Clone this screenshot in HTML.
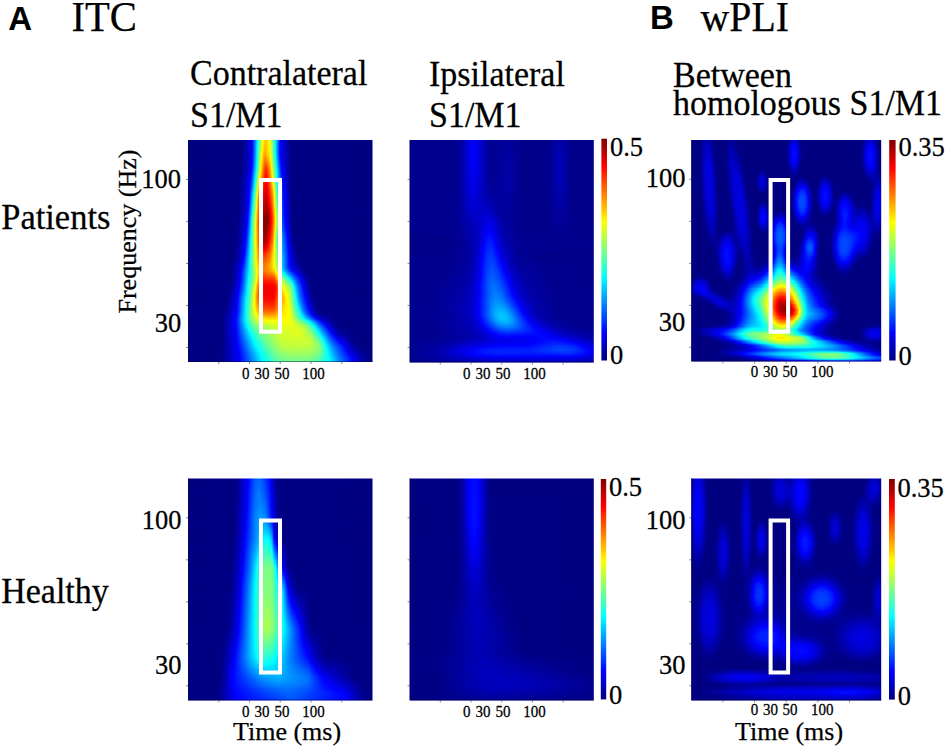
<!DOCTYPE html>
<html><head><meta charset="utf-8">
<style>
html,body{margin:0;padding:0;background:#fff;width:945px;height:748px;overflow:hidden}
svg{display:block}
.s{font-family:"Liberation Serif",serif;fill:#000;stroke:#000;stroke-width:.25px}
.b{font-family:"Liberation Sans",sans-serif;font-weight:bold;fill:#000}
</style></head><body>
<svg width="945" height="748" viewBox="0 0 945 748">
<text class="b" x="8.3" y="29.5" font-size="33">A</text>
<text class="s" x="71.5" y="31" font-size="43" textLength="65.5" lengthAdjust="spacingAndGlyphs">ITC</text>
<text class="b" x="650" y="28.8" font-size="33">B</text>
<text class="s" x="700.5" y="30.6" font-size="43" textLength="88.5" lengthAdjust="spacingAndGlyphs">wPLI</text>

<text class="s" x="190" y="85.4" font-size="34" transform="matrix(1 0 0 1.060 0 -5.12)">Contralateral</text>
<text class="s" x="190" y="127.5" font-size="34" transform="matrix(1 0 0 1.060 0 -7.65)">S1/M1</text>
<text class="s" x="429" y="85.8" font-size="34" transform="matrix(1 0 0 1.060 0 -5.15)">Ipsilateral</text>
<text class="s" x="429" y="127.4" font-size="34" transform="matrix(1 0 0 1.060 0 -7.64)">S1/M1</text>
<text class="s" x="673" y="86.8" font-size="34" transform="matrix(1 0 0 1.060 0 -5.21)">Between</text>
<text class="s" x="673" y="114.8" font-size="34" transform="matrix(1 0 0 1.060 0 -6.89)">homologous S1/M1</text>

<text class="s" x="1.2" y="228.8" font-size="34.5" transform="matrix(1 0 0 1.060 0 -13.73)">Patients</text>
<text class="s" x="1.2" y="602.9" font-size="34" transform="matrix(1 0 0 1.060 0 -36.17)">Healthy</text>
<text class="s" font-size="26" transform="translate(135.5,313.5) rotate(-90)">Frequency (Hz)</text>

<defs>
<filter id="jeta" filterUnits="userSpaceOnUse" x="178" y="130" width="204.5" height="242" color-interpolation-filters="sRGB"><feGaussianBlur stdDeviation=".6 1.6"/><feComponentTransfer><feFuncR type="table" tableValues="0 0 0 0 .5 1 1 1 .5"/><feFuncG type="table" tableValues="0 0 .5 1 1 1 .5 0 0"/><feFuncB type="table" tableValues=".502 1 1 1 .5 0 0 0 0"/></feComponentTransfer></filter>
<linearGradient id="a0"><stop offset="0" stop-color="#000000"/><stop offset=".313" stop-color="#010101"/><stop offset=".337" stop-color="#0d0d0d"/><stop offset=".362" stop-color="#1e1e1e"/><stop offset=".367" stop-color="#272727"/><stop offset=".416" stop-color="#a0a0a0"/><stop offset=".43" stop-color="#adadad"/><stop offset=".445" stop-color="#a1a1a1"/><stop offset=".45" stop-color="#9a9a9a"/><stop offset=".474" stop-color="#646464"/><stop offset=".499" stop-color="#202020"/><stop offset=".548" stop-color="#010101"/><stop offset=".998" stop-color="#000000"/></linearGradient>
<linearGradient id="a1"><stop offset="0" stop-color="#000000"/><stop offset=".313" stop-color="#010101"/><stop offset=".337" stop-color="#0d0d0d"/><stop offset=".362" stop-color="#1e1e1e"/><stop offset=".367" stop-color="#272727"/><stop offset=".416" stop-color="#a0a0a0"/><stop offset=".43" stop-color="#adadad"/><stop offset=".445" stop-color="#a1a1a1"/><stop offset=".45" stop-color="#9a9a9a"/><stop offset=".474" stop-color="#646464"/><stop offset=".499" stop-color="#202020"/><stop offset=".548" stop-color="#010101"/><stop offset=".998" stop-color="#000000"/></linearGradient>
<linearGradient id="a2"><stop offset="0" stop-color="#000000"/><stop offset=".313" stop-color="#010101"/><stop offset=".337" stop-color="#0d0d0d"/><stop offset=".362" stop-color="#1e1e1e"/><stop offset=".367" stop-color="#272727"/><stop offset=".411" stop-color="#969696"/><stop offset=".416" stop-color="#a1a1a1"/><stop offset=".43" stop-color="#adadad"/><stop offset=".445" stop-color="#a1a1a1"/><stop offset=".45" stop-color="#9a9a9a"/><stop offset=".474" stop-color="#646464"/><stop offset=".499" stop-color="#202020"/><stop offset=".548" stop-color="#010101"/><stop offset=".998" stop-color="#000000"/></linearGradient>
<linearGradient id="a3"><stop offset="0" stop-color="#000000"/><stop offset=".313" stop-color="#010101"/><stop offset=".337" stop-color="#0d0d0d"/><stop offset=".362" stop-color="#1e1e1e"/><stop offset=".367" stop-color="#272727"/><stop offset=".411" stop-color="#989898"/><stop offset=".416" stop-color="#a2a2a2"/><stop offset=".425" stop-color="#acacac"/><stop offset=".43" stop-color="#aeaeae"/><stop offset=".445" stop-color="#a2a2a2"/><stop offset=".45" stop-color="#9b9b9b"/><stop offset=".474" stop-color="#646464"/><stop offset=".499" stop-color="#202020"/><stop offset=".548" stop-color="#010101"/><stop offset=".998" stop-color="#000000"/></linearGradient>
<linearGradient id="a4"><stop offset="0" stop-color="#000000"/><stop offset=".313" stop-color="#010101"/><stop offset=".337" stop-color="#0d0d0d"/><stop offset=".362" stop-color="#1e1e1e"/><stop offset=".367" stop-color="#272727"/><stop offset=".386" stop-color="#5a5a5a"/><stop offset=".406" stop-color="#909090"/><stop offset=".416" stop-color="#a4a4a4"/><stop offset=".425" stop-color="#afafaf"/><stop offset=".43" stop-color="#afafaf"/><stop offset=".445" stop-color="#a3a3a3"/><stop offset=".45" stop-color="#9d9d9d"/><stop offset=".474" stop-color="#646464"/><stop offset=".499" stop-color="#202020"/><stop offset=".548" stop-color="#020202"/><stop offset=".998" stop-color="#000000"/></linearGradient>
<linearGradient id="a5"><stop offset="0" stop-color="#000000"/><stop offset=".313" stop-color="#010101"/><stop offset=".337" stop-color="#0d0d0d"/><stop offset=".362" stop-color="#1e1e1e"/><stop offset=".367" stop-color="#282828"/><stop offset=".386" stop-color="#5b5b5b"/><stop offset=".406" stop-color="#959595"/><stop offset=".416" stop-color="#a7a7a7"/><stop offset=".425" stop-color="#b3b3b3"/><stop offset=".43" stop-color="#b1b1b1"/><stop offset=".45" stop-color="#9e9e9e"/><stop offset=".474" stop-color="#646464"/><stop offset=".499" stop-color="#202020"/><stop offset=".553" stop-color="#010101"/><stop offset=".998" stop-color="#000000"/></linearGradient>
<linearGradient id="a6"><stop offset="0" stop-color="#000000"/><stop offset=".313" stop-color="#010101"/><stop offset=".337" stop-color="#0d0d0d"/><stop offset=".362" stop-color="#1f1f1f"/><stop offset=".367" stop-color="#282828"/><stop offset=".386" stop-color="#5c5c5c"/><stop offset=".406" stop-color="#999999"/><stop offset=".411" stop-color="#a3a3a3"/><stop offset=".425" stop-color="#b7b7b7"/><stop offset=".45" stop-color="#a1a1a1"/><stop offset=".474" stop-color="#656565"/><stop offset=".499" stop-color="#202020"/><stop offset=".553" stop-color="#010101"/><stop offset=".998" stop-color="#000000"/></linearGradient>
<linearGradient id="a7"><stop offset="0" stop-color="#000000"/><stop offset=".313" stop-color="#020202"/><stop offset=".337" stop-color="#0d0d0d"/><stop offset=".362" stop-color="#202020"/><stop offset=".367" stop-color="#2a2a2a"/><stop offset=".386" stop-color="#5e5e5e"/><stop offset=".406" stop-color="#9d9d9d"/><stop offset=".411" stop-color="#a7a7a7"/><stop offset=".425" stop-color="#bdbdbd"/><stop offset=".43" stop-color="#bbbbbb"/><stop offset=".45" stop-color="#a5a5a5"/><stop offset=".474" stop-color="#686868"/><stop offset=".499" stop-color="#232323"/><stop offset=".509" stop-color="#1b1b1b"/><stop offset=".553" stop-color="#010101"/><stop offset=".998" stop-color="#000000"/></linearGradient>
<linearGradient id="a8"><stop offset="0" stop-color="#000000"/><stop offset=".313" stop-color="#020202"/><stop offset=".337" stop-color="#0e0e0e"/><stop offset=".362" stop-color="#212121"/><stop offset=".367" stop-color="#2c2c2c"/><stop offset=".386" stop-color="#616161"/><stop offset=".406" stop-color="#a0a0a0"/><stop offset=".411" stop-color="#ababab"/><stop offset=".425" stop-color="#c4c4c4"/><stop offset=".43" stop-color="#c5c5c5"/><stop offset=".45" stop-color="#ababab"/><stop offset=".474" stop-color="#6c6c6c"/><stop offset=".499" stop-color="#282828"/><stop offset=".504" stop-color="#202020"/><stop offset=".509" stop-color="#1c1c1c"/><stop offset=".553" stop-color="#010101"/><stop offset=".998" stop-color="#000000"/></linearGradient>
<linearGradient id="a9"><stop offset="0" stop-color="#000000"/><stop offset=".308" stop-color="#010101"/><stop offset=".333" stop-color="#0c0c0c"/><stop offset=".357" stop-color="#1d1d1d"/><stop offset=".362" stop-color="#222222"/><stop offset=".386" stop-color="#646464"/><stop offset=".406" stop-color="#a2a2a2"/><stop offset=".411" stop-color="#afafaf"/><stop offset=".416" stop-color="#bbbbbb"/><stop offset=".425" stop-color="#cbcbcb"/><stop offset=".43" stop-color="#d0d0d0"/><stop offset=".445" stop-color="#bbbbbb"/><stop offset=".45" stop-color="#b2b2b2"/><stop offset=".499" stop-color="#2c2c2c"/><stop offset=".504" stop-color="#222222"/><stop offset=".509" stop-color="#1d1d1d"/><stop offset=".553" stop-color="#010101"/><stop offset=".998" stop-color="#000000"/></linearGradient>
<linearGradient id="a10"><stop offset="0" stop-color="#000000"/><stop offset=".308" stop-color="#010101"/><stop offset=".333" stop-color="#0d0d0d"/><stop offset=".357" stop-color="#1e1e1e"/><stop offset=".362" stop-color="#252525"/><stop offset=".381" stop-color="#5a5a5a"/><stop offset=".411" stop-color="#b4b4b4"/><stop offset=".416" stop-color="#c1c1c1"/><stop offset=".43" stop-color="#d9d9d9"/><stop offset=".445" stop-color="#c2c2c2"/><stop offset=".45" stop-color="#b8b8b8"/><stop offset=".504" stop-color="#252525"/><stop offset=".509" stop-color="#1e1e1e"/><stop offset=".553" stop-color="#010101"/><stop offset=".998" stop-color="#000000"/></linearGradient>
<linearGradient id="a11"><stop offset="0" stop-color="#000000"/><stop offset=".298" stop-color="#010101"/><stop offset=".308" stop-color="#020202"/><stop offset=".323" stop-color="#090909"/><stop offset=".347" stop-color="#181818"/><stop offset=".357" stop-color="#222222"/><stop offset=".362" stop-color="#2a2a2a"/><stop offset=".381" stop-color="#616161"/><stop offset=".396" stop-color="#909090"/><stop offset=".411" stop-color="#b9b9b9"/><stop offset=".416" stop-color="#c6c6c6"/><stop offset=".43" stop-color="#dddddd"/><stop offset=".445" stop-color="#c7c7c7"/><stop offset=".45" stop-color="#bcbcbc"/><stop offset=".504" stop-color="#282828"/><stop offset=".513" stop-color="#1c1c1c"/><stop offset=".553" stop-color="#010101"/><stop offset=".998" stop-color="#000000"/></linearGradient>
<linearGradient id="a12"><stop offset="0" stop-color="#000000"/><stop offset=".298" stop-color="#010101"/><stop offset=".308" stop-color="#030303"/><stop offset=".323" stop-color="#0a0a0a"/><stop offset=".347" stop-color="#191919"/><stop offset=".357" stop-color="#262626"/><stop offset=".362" stop-color="#2f2f2f"/><stop offset=".381" stop-color="#686868"/><stop offset=".396" stop-color="#9a9a9a"/><stop offset=".401" stop-color="#a6a6a6"/><stop offset=".416" stop-color="#cacaca"/><stop offset=".43" stop-color="#e0e0e0"/><stop offset=".435" stop-color="#dbdbdb"/><stop offset=".445" stop-color="#cbcbcb"/><stop offset=".45" stop-color="#c1c1c1"/><stop offset=".465" stop-color="#9b9b9b"/><stop offset=".484" stop-color="#616161"/><stop offset=".504" stop-color="#2d2d2d"/><stop offset=".513" stop-color="#1e1e1e"/><stop offset=".553" stop-color="#010101"/><stop offset=".998" stop-color="#000000"/></linearGradient>
<linearGradient id="a13"><stop offset="0" stop-color="#000000"/><stop offset=".298" stop-color="#010101"/><stop offset=".323" stop-color="#0a0a0a"/><stop offset=".347" stop-color="#1a1a1a"/><stop offset=".357" stop-color="#2a2a2a"/><stop offset=".362" stop-color="#353535"/><stop offset=".372" stop-color="#525252"/><stop offset=".386" stop-color="#808080"/><stop offset=".396" stop-color="#a3a3a3"/><stop offset=".416" stop-color="#cfcfcf"/><stop offset=".43" stop-color="#e3e3e3"/><stop offset=".435" stop-color="#dedede"/><stop offset=".445" stop-color="#cfcfcf"/><stop offset=".46" stop-color="#aeaeae"/><stop offset=".484" stop-color="#656565"/><stop offset=".504" stop-color="#313131"/><stop offset=".509" stop-color="#282828"/><stop offset=".513" stop-color="#202020"/><stop offset=".553" stop-color="#010101"/><stop offset=".998" stop-color="#000000"/></linearGradient>
<linearGradient id="a14"><stop offset="0" stop-color="#000000"/><stop offset=".298" stop-color="#010101"/><stop offset=".323" stop-color="#0b0b0b"/><stop offset=".347" stop-color="#1c1c1c"/><stop offset=".352" stop-color="#232323"/><stop offset=".362" stop-color="#3a3a3a"/><stop offset=".372" stop-color="#585858"/><stop offset=".386" stop-color="#888888"/><stop offset=".391" stop-color="#9c9c9c"/><stop offset=".396" stop-color="#adadad"/><stop offset=".416" stop-color="#d3d3d3"/><stop offset=".421" stop-color="#dbdbdb"/><stop offset=".43" stop-color="#e5e5e5"/><stop offset=".435" stop-color="#e2e2e2"/><stop offset=".445" stop-color="#d3d3d3"/><stop offset=".46" stop-color="#b4b4b4"/><stop offset=".465" stop-color="#a7a7a7"/><stop offset=".484" stop-color="#696969"/><stop offset=".504" stop-color="#363636"/><stop offset=".513" stop-color="#222222"/><stop offset=".553" stop-color="#010101"/><stop offset=".998" stop-color="#000000"/></linearGradient>
<linearGradient id="a15"><stop offset="0" stop-color="#000000"/><stop offset=".298" stop-color="#010101"/><stop offset=".323" stop-color="#0c0c0c"/><stop offset=".347" stop-color="#1d1d1d"/><stop offset=".352" stop-color="#252525"/><stop offset=".362" stop-color="#404040"/><stop offset=".372" stop-color="#5e5e5e"/><stop offset=".386" stop-color="#909090"/><stop offset=".391" stop-color="#a5a5a5"/><stop offset=".396" stop-color="#b6b6b6"/><stop offset=".421" stop-color="#e0e0e0"/><stop offset=".43" stop-color="#e8e8e8"/><stop offset=".435" stop-color="#e5e5e5"/><stop offset=".445" stop-color="#d7d7d7"/><stop offset=".46" stop-color="#bbbbbb"/><stop offset=".465" stop-color="#adadad"/><stop offset=".484" stop-color="#6d6d6d"/><stop offset=".504" stop-color="#3a3a3a"/><stop offset=".513" stop-color="#242424"/><stop offset=".553" stop-color="#010101"/><stop offset=".998" stop-color="#000000"/></linearGradient>
<linearGradient id="a16"><stop offset="0" stop-color="#000000"/><stop offset=".298" stop-color="#010101"/><stop offset=".323" stop-color="#0d0d0d"/><stop offset=".347" stop-color="#1e1e1e"/><stop offset=".352" stop-color="#282828"/><stop offset=".372" stop-color="#656565"/><stop offset=".386" stop-color="#979797"/><stop offset=".391" stop-color="#adadad"/><stop offset=".396" stop-color="#bebebe"/><stop offset=".421" stop-color="#e4e4e4"/><stop offset=".43" stop-color="#ebebeb"/><stop offset=".435" stop-color="#e9e9e9"/><stop offset=".44" stop-color="#e2e2e2"/><stop offset=".46" stop-color="#c0c0c0"/><stop offset=".465" stop-color="#b3b3b3"/><stop offset=".484" stop-color="#717171"/><stop offset=".513" stop-color="#262626"/><stop offset=".553" stop-color="#010101"/><stop offset=".998" stop-color="#000000"/></linearGradient>
<linearGradient id="a17"><stop offset="0" stop-color="#000000"/><stop offset=".293" stop-color="#010101"/><stop offset=".298" stop-color="#010101"/><stop offset=".323" stop-color="#0d0d0d"/><stop offset=".347" stop-color="#212121"/><stop offset=".352" stop-color="#2b2b2b"/><stop offset=".372" stop-color="#6a6a6a"/><stop offset=".386" stop-color="#9d9d9d"/><stop offset=".391" stop-color="#b2b2b2"/><stop offset=".396" stop-color="#c3c3c3"/><stop offset=".421" stop-color="#e9e9e9"/><stop offset=".43" stop-color="#eeeeee"/><stop offset=".435" stop-color="#ececec"/><stop offset=".44" stop-color="#e6e6e6"/><stop offset=".46" stop-color="#c5c5c5"/><stop offset=".465" stop-color="#b8b8b8"/><stop offset=".484" stop-color="#757575"/><stop offset=".513" stop-color="#272727"/><stop offset=".553" stop-color="#020202"/><stop offset=".998" stop-color="#000000"/></linearGradient>
<linearGradient id="a18"><stop offset="0" stop-color="#000000"/><stop offset=".293" stop-color="#010101"/><stop offset=".318" stop-color="#0b0b0b"/><stop offset=".342" stop-color="#1c1c1c"/><stop offset=".347" stop-color="#232323"/><stop offset=".352" stop-color="#2f2f2f"/><stop offset=".372" stop-color="#6f6f6f"/><stop offset=".386" stop-color="#a2a2a2"/><stop offset=".391" stop-color="#b6b6b6"/><stop offset=".396" stop-color="#c6c6c6"/><stop offset=".416" stop-color="#e7e7e7"/><stop offset=".421" stop-color="#ededed"/><stop offset=".43" stop-color="#f1f1f1"/><stop offset=".435" stop-color="#f0f0f0"/><stop offset=".44" stop-color="#eaeaea"/><stop offset=".46" stop-color="#c9c9c9"/><stop offset=".469" stop-color="#acacac"/><stop offset=".484" stop-color="#797979"/><stop offset=".509" stop-color="#333333"/><stop offset=".513" stop-color="#282828"/><stop offset=".553" stop-color="#030303"/><stop offset=".562" stop-color="#010101"/><stop offset=".998" stop-color="#000000"/></linearGradient>
<linearGradient id="a19"><stop offset="0" stop-color="#000000"/><stop offset=".293" stop-color="#010101"/><stop offset=".318" stop-color="#0b0b0b"/><stop offset=".342" stop-color="#1d1d1d"/><stop offset=".347" stop-color="#262626"/><stop offset=".352" stop-color="#333333"/><stop offset=".372" stop-color="#737373"/><stop offset=".386" stop-color="#a6a6a6"/><stop offset=".391" stop-color="#b9b9b9"/><stop offset=".396" stop-color="#c9c9c9"/><stop offset=".411" stop-color="#e5e5e5"/><stop offset=".416" stop-color="#ececec"/><stop offset=".421" stop-color="#f1f1f1"/><stop offset=".43" stop-color="#f4f4f4"/><stop offset=".44" stop-color="#efefef"/><stop offset=".46" stop-color="#cccccc"/><stop offset=".469" stop-color="#b0b0b0"/><stop offset=".484" stop-color="#7d7d7d"/><stop offset=".494" stop-color="#5f5f5f"/><stop offset=".509" stop-color="#333333"/><stop offset=".513" stop-color="#292929"/><stop offset=".553" stop-color="#040404"/><stop offset=".562" stop-color="#010101"/><stop offset=".998" stop-color="#000000"/></linearGradient>
<linearGradient id="a20"><stop offset="0" stop-color="#000000"/><stop offset=".293" stop-color="#010101"/><stop offset=".318" stop-color="#0c0c0c"/><stop offset=".342" stop-color="#1e1e1e"/><stop offset=".352" stop-color="#383838"/><stop offset=".377" stop-color="#888888"/><stop offset=".391" stop-color="#bdbdbd"/><stop offset=".396" stop-color="#cbcbcb"/><stop offset=".411" stop-color="#ebebeb"/><stop offset=".416" stop-color="#f2f2f2"/><stop offset=".43" stop-color="#f7f7f7"/><stop offset=".44" stop-color="#f4f4f4"/><stop offset=".46" stop-color="#d0d0d0"/><stop offset=".469" stop-color="#b5b5b5"/><stop offset=".494" stop-color="#616161"/><stop offset=".509" stop-color="#333333"/><stop offset=".513" stop-color="#2a2a2a"/><stop offset=".523" stop-color="#1f1f1f"/><stop offset=".553" stop-color="#050505"/><stop offset=".557" stop-color="#020202"/><stop offset=".998" stop-color="#000000"/></linearGradient>
<linearGradient id="a21"><stop offset="0" stop-color="#000000"/><stop offset=".293" stop-color="#010101"/><stop offset=".318" stop-color="#0c0c0c"/><stop offset=".342" stop-color="#1f1f1f"/><stop offset=".352" stop-color="#3c3c3c"/><stop offset=".381" stop-color="#9d9d9d"/><stop offset=".391" stop-color="#c0c0c0"/><stop offset=".396" stop-color="#cecece"/><stop offset=".411" stop-color="#f0f0f0"/><stop offset=".416" stop-color="#f7f7f7"/><stop offset=".43" stop-color="#fafafa"/><stop offset=".44" stop-color="#f8f8f8"/><stop offset=".46" stop-color="#d3d3d3"/><stop offset=".469" stop-color="#b9b9b9"/><stop offset=".479" stop-color="#989898"/><stop offset=".494" stop-color="#636363"/><stop offset=".509" stop-color="#333333"/><stop offset=".523" stop-color="#1f1f1f"/><stop offset=".557" stop-color="#020202"/><stop offset=".998" stop-color="#000000"/></linearGradient>
<linearGradient id="a22"><stop offset="0" stop-color="#000000"/><stop offset=".293" stop-color="#010101"/><stop offset=".318" stop-color="#0d0d0d"/><stop offset=".342" stop-color="#202020"/><stop offset=".381" stop-color="#a0a0a0"/><stop offset=".391" stop-color="#c2c2c2"/><stop offset=".411" stop-color="#f5f5f5"/><stop offset=".416" stop-color="#fbfbfb"/><stop offset=".43" stop-color="#fdfdfd"/><stop offset=".44" stop-color="#fcfcfc"/><stop offset=".46" stop-color="#d6d6d6"/><stop offset=".469" stop-color="#bcbcbc"/><stop offset=".479" stop-color="#9c9c9c"/><stop offset=".494" stop-color="#656565"/><stop offset=".509" stop-color="#343434"/><stop offset=".523" stop-color="#202020"/><stop offset=".557" stop-color="#030303"/><stop offset=".562" stop-color="#010101"/><stop offset=".998" stop-color="#000000"/></linearGradient>
<linearGradient id="a23"><stop offset="0" stop-color="#000000"/><stop offset=".284" stop-color="#010101"/><stop offset=".293" stop-color="#020202"/><stop offset=".318" stop-color="#0e0e0e"/><stop offset=".342" stop-color="#232323"/><stop offset=".362" stop-color="#656565"/><stop offset=".391" stop-color="#c3c3c3"/><stop offset=".401" stop-color="#dedede"/><stop offset=".411" stop-color="#f7f7f7"/><stop offset=".416" stop-color="#fdfdfd"/><stop offset=".425" stop-color="#fefefe"/><stop offset=".44" stop-color="#fcfcfc"/><stop offset=".46" stop-color="#d6d6d6"/><stop offset=".469" stop-color="#bcbcbc"/><stop offset=".479" stop-color="#9c9c9c"/><stop offset=".494" stop-color="#656565"/><stop offset=".509" stop-color="#363636"/><stop offset=".523" stop-color="#222222"/><stop offset=".557" stop-color="#030303"/><stop offset=".562" stop-color="#010101"/><stop offset=".998" stop-color="#000000"/></linearGradient>
<linearGradient id="a24"><stop offset="0" stop-color="#000000"/><stop offset=".284" stop-color="#010101"/><stop offset=".293" stop-color="#020202"/><stop offset=".318" stop-color="#0f0f0f"/><stop offset=".333" stop-color="#1b1b1b"/><stop offset=".342" stop-color="#282828"/><stop offset=".362" stop-color="#676767"/><stop offset=".391" stop-color="#c3c3c3"/><stop offset=".406" stop-color="#ebebeb"/><stop offset=".411" stop-color="#f6f6f6"/><stop offset=".416" stop-color="#fbfbfb"/><stop offset=".425" stop-color="#fdfdfd"/><stop offset=".44" stop-color="#f9f9f9"/><stop offset=".46" stop-color="#d3d3d3"/><stop offset=".469" stop-color="#b9b9b9"/><stop offset=".479" stop-color="#989898"/><stop offset=".484" stop-color="#858585"/><stop offset=".494" stop-color="#656565"/><stop offset=".509" stop-color="#393939"/><stop offset=".523" stop-color="#262626"/><stop offset=".557" stop-color="#040404"/><stop offset=".562" stop-color="#010101"/><stop offset=".998" stop-color="#000000"/></linearGradient>
<linearGradient id="a25"><stop offset="0" stop-color="#000000"/><stop offset=".284" stop-color="#010101"/><stop offset=".308" stop-color="#0a0a0a"/><stop offset=".333" stop-color="#1c1c1c"/><stop offset=".342" stop-color="#2d2d2d"/><stop offset=".386" stop-color="#b3b3b3"/><stop offset=".406" stop-color="#ebebeb"/><stop offset=".411" stop-color="#f4f4f4"/><stop offset=".416" stop-color="#f9f9f9"/><stop offset=".425" stop-color="#fcfcfc"/><stop offset=".44" stop-color="#f5f5f5"/><stop offset=".46" stop-color="#d0d0d0"/><stop offset=".465" stop-color="#c4c4c4"/><stop offset=".469" stop-color="#b5b5b5"/><stop offset=".484" stop-color="#7f7f7f"/><stop offset=".509" stop-color="#3e3e3e"/><stop offset=".523" stop-color="#292929"/><stop offset=".562" stop-color="#010101"/><stop offset=".998" stop-color="#000000"/></linearGradient>
<linearGradient id="a26"><stop offset="0" stop-color="#000000"/><stop offset=".284" stop-color="#010101"/><stop offset=".308" stop-color="#0b0b0b"/><stop offset=".333" stop-color="#1e1e1e"/><stop offset=".342" stop-color="#323232"/><stop offset=".406" stop-color="#ebebeb"/><stop offset=".416" stop-color="#f6f6f6"/><stop offset=".425" stop-color="#fbfbfb"/><stop offset=".44" stop-color="#f1f1f1"/><stop offset=".46" stop-color="#cccccc"/><stop offset=".465" stop-color="#c1c1c1"/><stop offset=".469" stop-color="#b1b1b1"/><stop offset=".484" stop-color="#7a7a7a"/><stop offset=".509" stop-color="#424242"/><stop offset=".523" stop-color="#2d2d2d"/><stop offset=".562" stop-color="#010101"/><stop offset=".998" stop-color="#000000"/></linearGradient>
<linearGradient id="a27"><stop offset="0" stop-color="#000000"/><stop offset=".284" stop-color="#010101"/><stop offset=".308" stop-color="#0c0c0c"/><stop offset=".333" stop-color="#202020"/><stop offset=".342" stop-color="#373737"/><stop offset=".406" stop-color="#eaeaea"/><stop offset=".425" stop-color="#f9f9f9"/><stop offset=".44" stop-color="#ececec"/><stop offset=".46" stop-color="#c8c8c8"/><stop offset=".465" stop-color="#bdbdbd"/><stop offset=".469" stop-color="#adadad"/><stop offset=".484" stop-color="#777777"/><stop offset=".509" stop-color="#464646"/><stop offset=".523" stop-color="#313131"/><stop offset=".562" stop-color="#020202"/><stop offset=".998" stop-color="#000000"/></linearGradient>
<linearGradient id="a28"><stop offset="0" stop-color="#000000"/><stop offset=".274" stop-color="#010101"/><stop offset=".284" stop-color="#020202"/><stop offset=".308" stop-color="#0e0e0e"/><stop offset=".333" stop-color="#232323"/><stop offset=".406" stop-color="#e5e5e5"/><stop offset=".425" stop-color="#f4f4f4"/><stop offset=".44" stop-color="#e6e6e6"/><stop offset=".46" stop-color="#c4c4c4"/><stop offset=".465" stop-color="#b9b9b9"/><stop offset=".469" stop-color="#aaaaaa"/><stop offset=".484" stop-color="#767676"/><stop offset=".509" stop-color="#494949"/><stop offset=".513" stop-color="#414141"/><stop offset=".538" stop-color="#212121"/><stop offset=".562" stop-color="#030303"/><stop offset=".587" stop-color="#010101"/><stop offset=".998" stop-color="#000000"/></linearGradient>
<linearGradient id="a29"><stop offset="0" stop-color="#000000"/><stop offset=".274" stop-color="#010101"/><stop offset=".284" stop-color="#030303"/><stop offset=".298" stop-color="#0a0a0a"/><stop offset=".323" stop-color="#1b1b1b"/><stop offset=".333" stop-color="#272727"/><stop offset=".396" stop-color="#c8c8c8"/><stop offset=".406" stop-color="#dddddd"/><stop offset=".425" stop-color="#ebebeb"/><stop offset=".44" stop-color="#dddddd"/><stop offset=".46" stop-color="#bebebe"/><stop offset=".465" stop-color="#b5b5b5"/><stop offset=".469" stop-color="#a7a7a7"/><stop offset=".484" stop-color="#797979"/><stop offset=".513" stop-color="#444444"/><stop offset=".543" stop-color="#1c1c1c"/><stop offset=".562" stop-color="#070707"/><stop offset=".587" stop-color="#010101"/><stop offset=".998" stop-color="#000000"/></linearGradient>
<linearGradient id="a30"><stop offset="0" stop-color="#000000"/><stop offset=".274" stop-color="#010101"/><stop offset=".298" stop-color="#0b0b0b"/><stop offset=".323" stop-color="#1c1c1c"/><stop offset=".333" stop-color="#2c2c2c"/><stop offset=".396" stop-color="#c4c4c4"/><stop offset=".406" stop-color="#d4d4d4"/><stop offset=".425" stop-color="#e0e0e0"/><stop offset=".44" stop-color="#d5d5d5"/><stop offset=".45" stop-color="#c9c9c9"/><stop offset=".46" stop-color="#b9b9b9"/><stop offset=".469" stop-color="#a5a5a5"/><stop offset=".484" stop-color="#7d7d7d"/><stop offset=".513" stop-color="#474747"/><stop offset=".543" stop-color="#1d1d1d"/><stop offset=".562" stop-color="#0b0b0b"/><stop offset=".587" stop-color="#010101"/><stop offset=".998" stop-color="#000000"/></linearGradient>
<linearGradient id="a31"><stop offset="0" stop-color="#000000"/><stop offset=".274" stop-color="#010101"/><stop offset=".298" stop-color="#0c0c0c"/><stop offset=".323" stop-color="#1e1e1e"/><stop offset=".333" stop-color="#303030"/><stop offset=".396" stop-color="#c0c0c0"/><stop offset=".406" stop-color="#cbcbcb"/><stop offset=".425" stop-color="#d6d6d6"/><stop offset=".45" stop-color="#c3c3c3"/><stop offset=".469" stop-color="#a2a2a2"/><stop offset=".484" stop-color="#818181"/><stop offset=".499" stop-color="#636363"/><stop offset=".513" stop-color="#4a4a4a"/><stop offset=".543" stop-color="#1f1f1f"/><stop offset=".562" stop-color="#0e0e0e"/><stop offset=".587" stop-color="#010101"/><stop offset=".998" stop-color="#000000"/></linearGradient>
<linearGradient id="a32"><stop offset="0" stop-color="#000000"/><stop offset=".259" stop-color="#010101"/><stop offset=".274" stop-color="#020202"/><stop offset=".284" stop-color="#060606"/><stop offset=".298" stop-color="#0d0d0d"/><stop offset=".323" stop-color="#212121"/><stop offset=".381" stop-color="#9f9f9f"/><stop offset=".396" stop-color="#bcbcbc"/><stop offset=".425" stop-color="#cdcdcd"/><stop offset=".45" stop-color="#bdbdbd"/><stop offset=".465" stop-color="#a8a8a8"/><stop offset=".474" stop-color="#979797"/><stop offset=".499" stop-color="#656565"/><stop offset=".509" stop-color="#545454"/><stop offset=".543" stop-color="#202020"/><stop offset=".587" stop-color="#020202"/><stop offset=".998" stop-color="#000000"/></linearGradient>
<linearGradient id="a33"><stop offset="0" stop-color="#000000"/><stop offset=".259" stop-color="#010101"/><stop offset=".274" stop-color="#030303"/><stop offset=".298" stop-color="#101010"/><stop offset=".323" stop-color="#272727"/><stop offset=".381" stop-color="#9c9c9c"/><stop offset=".396" stop-color="#b7b7b7"/><stop offset=".406" stop-color="#bebebe"/><stop offset=".425" stop-color="#c7c7c7"/><stop offset=".45" stop-color="#b8b8b8"/><stop offset=".469" stop-color="#a1a1a1"/><stop offset=".484" stop-color="#878787"/><stop offset=".499" stop-color="#666666"/><stop offset=".509" stop-color="#545454"/><stop offset=".543" stop-color="#222222"/><stop offset=".587" stop-color="#050505"/><stop offset=".616" stop-color="#010101"/><stop offset=".998" stop-color="#000000"/></linearGradient>
<linearGradient id="a34"><stop offset="0" stop-color="#000000"/><stop offset=".259" stop-color="#010101"/><stop offset=".274" stop-color="#060606"/><stop offset=".298" stop-color="#141414"/><stop offset=".313" stop-color="#212121"/><stop offset=".323" stop-color="#2d2d2d"/><stop offset=".352" stop-color="#616161"/><stop offset=".386" stop-color="#a2a2a2"/><stop offset=".396" stop-color="#b1b1b1"/><stop offset=".406" stop-color="#bbbbbb"/><stop offset=".425" stop-color="#c1c1c1"/><stop offset=".45" stop-color="#b4b4b4"/><stop offset=".474" stop-color="#9d9d9d"/><stop offset=".484" stop-color="#8a8a8a"/><stop offset=".499" stop-color="#666666"/><stop offset=".509" stop-color="#535353"/><stop offset=".543" stop-color="#242424"/><stop offset=".548" stop-color="#1f1f1f"/><stop offset=".587" stop-color="#090909"/><stop offset=".616" stop-color="#010101"/><stop offset=".998" stop-color="#000000"/></linearGradient>
<linearGradient id="a35"><stop offset="0" stop-color="#000000"/><stop offset=".259" stop-color="#010101"/><stop offset=".274" stop-color="#070707"/><stop offset=".284" stop-color="#0c0c0c"/><stop offset=".308" stop-color="#1e1e1e"/><stop offset=".323" stop-color="#333333"/><stop offset=".352" stop-color="#636363"/><stop offset=".386" stop-color="#9f9f9f"/><stop offset=".396" stop-color="#aeaeae"/><stop offset=".406" stop-color="#bababa"/><stop offset=".425" stop-color="#c0c0c0"/><stop offset=".455" stop-color="#b3b3b3"/><stop offset=".474" stop-color="#a4a4a4"/><stop offset=".484" stop-color="#909090"/><stop offset=".499" stop-color="#6c6c6c"/><stop offset=".509" stop-color="#595959"/><stop offset=".548" stop-color="#262626"/><stop offset=".587" stop-color="#0f0f0f"/><stop offset=".616" stop-color="#030303"/><stop offset=".641" stop-color="#010101"/><stop offset=".998" stop-color="#000000"/></linearGradient>
<linearGradient id="a36"><stop offset="0" stop-color="#000000"/><stop offset=".259" stop-color="#010101"/><stop offset=".284" stop-color="#0d0d0d"/><stop offset=".308" stop-color="#212121"/><stop offset=".372" stop-color="#828282"/><stop offset=".396" stop-color="#b1b1b1"/><stop offset=".406" stop-color="#bfbfbf"/><stop offset=".416" stop-color="#c7c7c7"/><stop offset=".421" stop-color="#c8c8c8"/><stop offset=".455" stop-color="#c0c0c0"/><stop offset=".469" stop-color="#bababa"/><stop offset=".474" stop-color="#b3b3b3"/><stop offset=".484" stop-color="#a0a0a0"/><stop offset=".499" stop-color="#7d7d7d"/><stop offset=".509" stop-color="#6e6e6e"/><stop offset=".548" stop-color="#3c3c3c"/><stop offset=".567" stop-color="#292929"/><stop offset=".621" stop-color="#060606"/><stop offset=".641" stop-color="#010101"/><stop offset=".998" stop-color="#000000"/></linearGradient>
<linearGradient id="a37"><stop offset="0" stop-color="#000000"/><stop offset=".254" stop-color="#010101"/><stop offset=".259" stop-color="#010101"/><stop offset=".279" stop-color="#0b0b0b"/><stop offset=".284" stop-color="#0d0d0d"/><stop offset=".308" stop-color="#232323"/><stop offset=".328" stop-color="#404040"/><stop offset=".347" stop-color="#626262"/><stop offset=".372" stop-color="#828282"/><stop offset=".396" stop-color="#b7b7b7"/><stop offset=".406" stop-color="#c6c6c6"/><stop offset=".416" stop-color="#d2d2d2"/><stop offset=".421" stop-color="#d2d2d2"/><stop offset=".469" stop-color="#cdcdcd"/><stop offset=".479" stop-color="#bdbdbd"/><stop offset=".499" stop-color="#929292"/><stop offset=".533" stop-color="#686868"/><stop offset=".567" stop-color="#3b3b3b"/><stop offset=".621" stop-color="#0b0b0b"/><stop offset=".641" stop-color="#020202"/><stop offset=".998" stop-color="#000000"/></linearGradient>
<linearGradient id="a38"><stop offset="0" stop-color="#000000"/><stop offset=".254" stop-color="#010101"/><stop offset=".279" stop-color="#0c0c0c"/><stop offset=".303" stop-color="#1f1f1f"/><stop offset=".323" stop-color="#3b3b3b"/><stop offset=".342" stop-color="#5e5e5e"/><stop offset=".372" stop-color="#878787"/><stop offset=".381" stop-color="#9c9c9c"/><stop offset=".396" stop-color="#bfbfbf"/><stop offset=".406" stop-color="#d0d0d0"/><stop offset=".416" stop-color="#dadada"/><stop offset=".421" stop-color="#dbdbdb"/><stop offset=".469" stop-color="#d9d9d9"/><stop offset=".479" stop-color="#cecece"/><stop offset=".499" stop-color="#a4a4a4"/><stop offset=".509" stop-color="#959595"/><stop offset=".528" stop-color="#828282"/><stop offset=".553" stop-color="#676767"/><stop offset=".567" stop-color="#4d4d4d"/><stop offset=".582" stop-color="#373737"/><stop offset=".621" stop-color="#111111"/><stop offset=".641" stop-color="#040404"/><stop offset=".65" stop-color="#010101"/><stop offset=".998" stop-color="#000000"/></linearGradient>
<linearGradient id="a39"><stop offset="0" stop-color="#000000"/><stop offset=".254" stop-color="#020202"/><stop offset=".279" stop-color="#0d0d0d"/><stop offset=".303" stop-color="#222222"/><stop offset=".323" stop-color="#3e3e3e"/><stop offset=".342" stop-color="#616161"/><stop offset=".362" stop-color="#7d7d7d"/><stop offset=".372" stop-color="#8e8e8e"/><stop offset=".381" stop-color="#a3a3a3"/><stop offset=".391" stop-color="#bdbdbd"/><stop offset=".406" stop-color="#d8d8d8"/><stop offset=".421" stop-color="#e1e1e1"/><stop offset=".425" stop-color="#e1e1e1"/><stop offset=".469" stop-color="#dfdfdf"/><stop offset=".479" stop-color="#dbdbdb"/><stop offset=".509" stop-color="#9e9e9e"/><stop offset=".533" stop-color="#8d8d8d"/><stop offset=".553" stop-color="#7a7a7a"/><stop offset=".582" stop-color="#404040"/><stop offset=".611" stop-color="#202020"/><stop offset=".631" stop-color="#0d0d0d"/><stop offset=".65" stop-color="#020202"/><stop offset=".998" stop-color="#000000"/></linearGradient>
<linearGradient id="a40"><stop offset="0" stop-color="#000000"/><stop offset=".24" stop-color="#010101"/><stop offset=".254" stop-color="#030303"/><stop offset=".264" stop-color="#080808"/><stop offset=".279" stop-color="#101010"/><stop offset=".293" stop-color="#1b1b1b"/><stop offset=".303" stop-color="#262626"/><stop offset=".323" stop-color="#424242"/><stop offset=".342" stop-color="#646464"/><stop offset=".362" stop-color="#818181"/><stop offset=".377" stop-color="#9d9d9d"/><stop offset=".391" stop-color="#c1c1c1"/><stop offset=".406" stop-color="#d9d9d9"/><stop offset=".425" stop-color="#e2e2e2"/><stop offset=".469" stop-color="#e1e1e1"/><stop offset=".479" stop-color="#dcdcdc"/><stop offset=".509" stop-color="#a7a7a7"/><stop offset=".533" stop-color="#969696"/><stop offset=".553" stop-color="#838383"/><stop offset=".582" stop-color="#474747"/><stop offset=".592" stop-color="#393939"/><stop offset=".631" stop-color="#111111"/><stop offset=".65" stop-color="#040404"/><stop offset=".665" stop-color="#010101"/><stop offset=".998" stop-color="#000000"/></linearGradient>
<linearGradient id="a41"><stop offset="0" stop-color="#000000"/><stop offset=".24" stop-color="#010101"/><stop offset=".264" stop-color="#0a0a0a"/><stop offset=".293" stop-color="#1d1d1d"/><stop offset=".303" stop-color="#2a2a2a"/><stop offset=".323" stop-color="#464646"/><stop offset=".362" stop-color="#858585"/><stop offset=".372" stop-color="#979797"/><stop offset=".386" stop-color="#bbbbbb"/><stop offset=".391" stop-color="#c3c3c3"/><stop offset=".406" stop-color="#d8d8d8"/><stop offset=".425" stop-color="#e1e1e1"/><stop offset=".469" stop-color="#e0e0e0"/><stop offset=".479" stop-color="#d8d8d8"/><stop offset=".489" stop-color="#c8c8c8"/><stop offset=".509" stop-color="#afafaf"/><stop offset=".538" stop-color="#989898"/><stop offset=".553" stop-color="#868686"/><stop offset=".562" stop-color="#757575"/><stop offset=".592" stop-color="#3c3c3c"/><stop offset=".631" stop-color="#151515"/><stop offset=".65" stop-color="#060606"/><stop offset=".665" stop-color="#010101"/><stop offset=".998" stop-color="#000000"/></linearGradient>
<linearGradient id="a42"><stop offset="0" stop-color="#000000"/><stop offset=".24" stop-color="#010101"/><stop offset=".264" stop-color="#0d0d0d"/><stop offset=".293" stop-color="#202020"/><stop offset=".357" stop-color="#7f7f7f"/><stop offset=".372" stop-color="#9a9a9a"/><stop offset=".386" stop-color="#bdbdbd"/><stop offset=".406" stop-color="#d5d5d5"/><stop offset=".425" stop-color="#dfdfdf"/><stop offset=".469" stop-color="#dfdfdf"/><stop offset=".489" stop-color="#c6c6c6"/><stop offset=".533" stop-color="#a1a1a1"/><stop offset=".543" stop-color="#979797"/><stop offset=".562" stop-color="#7a7a7a"/><stop offset=".592" stop-color="#424242"/><stop offset=".641" stop-color="#101010"/><stop offset=".665" stop-color="#020202"/><stop offset=".998" stop-color="#000000"/></linearGradient>
<linearGradient id="a43"><stop offset="0" stop-color="#000000"/><stop offset=".23" stop-color="#010101"/><stop offset=".24" stop-color="#030303"/><stop offset=".264" stop-color="#0f0f0f"/><stop offset=".293" stop-color="#222222"/><stop offset=".357" stop-color="#818181"/><stop offset=".372" stop-color="#9a9a9a"/><stop offset=".386" stop-color="#b9b9b9"/><stop offset=".406" stop-color="#cfcfcf"/><stop offset=".416" stop-color="#d6d6d6"/><stop offset=".425" stop-color="#dadada"/><stop offset=".469" stop-color="#d9d9d9"/><stop offset=".489" stop-color="#c3c3c3"/><stop offset=".509" stop-color="#b2b2b2"/><stop offset=".538" stop-color="#9f9f9f"/><stop offset=".557" stop-color="#868686"/><stop offset=".577" stop-color="#666666"/><stop offset=".592" stop-color="#4a4a4a"/><stop offset=".606" stop-color="#383838"/><stop offset=".641" stop-color="#151515"/><stop offset=".665" stop-color="#040404"/><stop offset=".68" stop-color="#010101"/><stop offset=".998" stop-color="#000000"/></linearGradient>
<linearGradient id="a44"><stop offset="0" stop-color="#000000"/><stop offset=".23" stop-color="#010101"/><stop offset=".24" stop-color="#040404"/><stop offset=".289" stop-color="#1f1f1f"/><stop offset=".293" stop-color="#252525"/><stop offset=".357" stop-color="#828282"/><stop offset=".386" stop-color="#b3b3b3"/><stop offset=".406" stop-color="#c8c8c8"/><stop offset=".416" stop-color="#d1d1d1"/><stop offset=".44" stop-color="#d3d3d3"/><stop offset=".469" stop-color="#d3d3d3"/><stop offset=".509" stop-color="#adadad"/><stop offset=".543" stop-color="#9d9d9d"/><stop offset=".562" stop-color="#828282"/><stop offset=".611" stop-color="#383838"/><stop offset=".641" stop-color="#1a1a1a"/><stop offset=".66" stop-color="#0a0a0a"/><stop offset=".68" stop-color="#010101"/><stop offset=".998" stop-color="#000000"/></linearGradient>
<linearGradient id="a45"><stop offset="0" stop-color="#000000"/><stop offset=".22" stop-color="#010101"/><stop offset=".23" stop-color="#020202"/><stop offset=".24" stop-color="#060606"/><stop offset=".289" stop-color="#202020"/><stop offset=".372" stop-color="#989898"/><stop offset=".391" stop-color="#b2b2b2"/><stop offset=".401" stop-color="#bbbbbb"/><stop offset=".416" stop-color="#c9c9c9"/><stop offset=".44" stop-color="#cacaca"/><stop offset=".469" stop-color="#cacaca"/><stop offset=".509" stop-color="#a8a8a8"/><stop offset=".543" stop-color="#9f9f9f"/><stop offset=".592" stop-color="#5f5f5f"/><stop offset=".611" stop-color="#3f3f3f"/><stop offset=".66" stop-color="#0e0e0e"/><stop offset=".68" stop-color="#020202"/><stop offset=".998" stop-color="#000000"/></linearGradient>
<linearGradient id="a46"><stop offset="0" stop-color="#000000"/><stop offset=".215" stop-color="#010101"/><stop offset=".23" stop-color="#040404"/><stop offset=".289" stop-color="#222222"/><stop offset=".352" stop-color="#7d7d7d"/><stop offset=".372" stop-color="#949494"/><stop offset=".391" stop-color="#a8a8a8"/><stop offset=".401" stop-color="#b0b0b0"/><stop offset=".416" stop-color="#bababa"/><stop offset=".44" stop-color="#bdbdbd"/><stop offset=".469" stop-color="#bbbbbb"/><stop offset=".509" stop-color="#a4a4a4"/><stop offset=".543" stop-color="#9f9f9f"/><stop offset=".548" stop-color="#9c9c9c"/><stop offset=".592" stop-color="#696969"/><stop offset=".626" stop-color="#3a3a3a"/><stop offset=".66" stop-color="#181818"/><stop offset=".68" stop-color="#080808"/><stop offset=".689" stop-color="#050505"/><stop offset=".768" stop-color="#010101"/><stop offset=".998" stop-color="#000000"/></linearGradient>
<linearGradient id="a47"><stop offset="0" stop-color="#000000"/><stop offset=".22" stop-color="#020202"/><stop offset=".284" stop-color="#202020"/><stop offset=".352" stop-color="#7b7b7b"/><stop offset=".372" stop-color="#8e8e8e"/><stop offset=".401" stop-color="#a2a2a2"/><stop offset=".44" stop-color="#acacac"/><stop offset=".479" stop-color="#aaaaaa"/><stop offset=".509" stop-color="#a0a0a0"/><stop offset=".543" stop-color="#9f9f9f"/><stop offset=".553" stop-color="#9b9b9b"/><stop offset=".572" stop-color="#878787"/><stop offset=".601" stop-color="#6c6c6c"/><stop offset=".626" stop-color="#4e4e4e"/><stop offset=".675" stop-color="#1d1d1d"/><stop offset=".694" stop-color="#0f0f0f"/><stop offset=".719" stop-color="#090909"/><stop offset=".768" stop-color="#010101"/><stop offset=".998" stop-color="#000000"/></linearGradient>
<linearGradient id="a48"><stop offset="0" stop-color="#000000"/><stop offset=".22" stop-color="#020202"/><stop offset=".284" stop-color="#212121"/><stop offset=".337" stop-color="#646464"/><stop offset=".352" stop-color="#747474"/><stop offset=".372" stop-color="#858585"/><stop offset=".401" stop-color="#939393"/><stop offset=".44" stop-color="#9a9a9a"/><stop offset=".518" stop-color="#9e9e9e"/><stop offset=".553" stop-color="#9b9b9b"/><stop offset=".601" stop-color="#818181"/><stop offset=".641" stop-color="#626262"/><stop offset=".694" stop-color="#282828"/><stop offset=".719" stop-color="#171717"/><stop offset=".743" stop-color="#0a0a0a"/><stop offset=".763" stop-color="#030303"/><stop offset=".792" stop-color="#010101"/><stop offset=".998" stop-color="#000000"/></linearGradient>
<linearGradient id="a49"><stop offset="0" stop-color="#000000"/><stop offset=".215" stop-color="#010101"/><stop offset=".284" stop-color="#212121"/><stop offset=".337" stop-color="#5d5d5d"/><stop offset=".372" stop-color="#7b7b7b"/><stop offset=".411" stop-color="#8a8a8a"/><stop offset=".518" stop-color="#9b9b9b"/><stop offset=".553" stop-color="#9a9a9a"/><stop offset=".587" stop-color="#959595"/><stop offset=".611" stop-color="#8c8c8c"/><stop offset=".636" stop-color="#7e7e7e"/><stop offset=".655" stop-color="#6c6c6c"/><stop offset=".689" stop-color="#434343"/><stop offset=".719" stop-color="#262626"/><stop offset=".743" stop-color="#131313"/><stop offset=".768" stop-color="#060606"/><stop offset=".792" stop-color="#010101"/><stop offset=".998" stop-color="#000000"/></linearGradient>
<linearGradient id="a50"><stop offset="0" stop-color="#000000"/><stop offset=".215" stop-color="#010101"/><stop offset=".284" stop-color="#202020"/><stop offset=".352" stop-color="#646464"/><stop offset=".372" stop-color="#727272"/><stop offset=".401" stop-color="#818181"/><stop offset=".509" stop-color="#969696"/><stop offset=".582" stop-color="#989898"/><stop offset=".611" stop-color="#949494"/><stop offset=".641" stop-color="#848484"/><stop offset=".655" stop-color="#797979"/><stop offset=".714" stop-color="#393939"/><stop offset=".743" stop-color="#1f1f1f"/><stop offset=".768" stop-color="#0d0d0d"/><stop offset=".792" stop-color="#030303"/><stop offset=".998" stop-color="#000000"/></linearGradient>
<linearGradient id="a51"><stop offset="0" stop-color="#000000"/><stop offset=".215" stop-color="#010101"/><stop offset=".244" stop-color="#0c0c0c"/><stop offset=".284" stop-color="#1f1f1f"/><stop offset=".352" stop-color="#5c5c5c"/><stop offset=".401" stop-color="#7b7b7b"/><stop offset=".504" stop-color="#949494"/><stop offset=".587" stop-color="#979797"/><stop offset=".611" stop-color="#969696"/><stop offset=".645" stop-color="#888888"/><stop offset=".655" stop-color="#828282"/><stop offset=".685" stop-color="#666666"/><stop offset=".709" stop-color="#4b4b4b"/><stop offset=".738" stop-color="#2f2f2f"/><stop offset=".773" stop-color="#141414"/><stop offset=".792" stop-color="#090909"/><stop offset=".851" stop-color="#010101"/><stop offset=".998" stop-color="#000000"/></linearGradient>
<linearGradient id="a52"><stop offset="0" stop-color="#000000"/><stop offset=".215" stop-color="#010101"/><stop offset=".249" stop-color="#0e0e0e"/><stop offset=".284" stop-color="#1e1e1e"/><stop offset=".367" stop-color="#616161"/><stop offset=".401" stop-color="#737373"/><stop offset=".435" stop-color="#818181"/><stop offset=".504" stop-color="#939393"/><stop offset=".606" stop-color="#959595"/><stop offset=".645" stop-color="#8f8f8f"/><stop offset=".655" stop-color="#8a8a8a"/><stop offset=".685" stop-color="#757575"/><stop offset=".738" stop-color="#3a3a3a"/><stop offset=".773" stop-color="#202020"/><stop offset=".792" stop-color="#141414"/><stop offset=".851" stop-color="#020202"/><stop offset=".998" stop-color="#000000"/></linearGradient>
<linearGradient id="a53"><stop offset="0" stop-color="#000000"/><stop offset=".215" stop-color="#010101"/><stop offset=".249" stop-color="#0e0e0e"/><stop offset=".289" stop-color="#1f1f1f"/><stop offset=".372" stop-color="#5e5e5e"/><stop offset=".44" stop-color="#7e7e7e"/><stop offset=".504" stop-color="#919191"/><stop offset=".606" stop-color="#939393"/><stop offset=".645" stop-color="#929292"/><stop offset=".685" stop-color="#808080"/><stop offset=".699" stop-color="#737373"/><stop offset=".724" stop-color="#555555"/><stop offset=".738" stop-color="#464646"/><stop offset=".758" stop-color="#363636"/><stop offset=".792" stop-color="#202020"/><stop offset=".846" stop-color="#070707"/><stop offset=".88" stop-color="#010101"/><stop offset=".998" stop-color="#000000"/></linearGradient>
<linearGradient id="a54"><stop offset="0" stop-color="#000000"/><stop offset=".215" stop-color="#010101"/><stop offset=".293" stop-color="#202020"/><stop offset=".381" stop-color="#5f5f5f"/><stop offset=".455" stop-color="#7f7f7f"/><stop offset=".518" stop-color="#909090"/><stop offset=".606" stop-color="#919191"/><stop offset=".65" stop-color="#8f8f8f"/><stop offset=".685" stop-color="#848484"/><stop offset=".699" stop-color="#7c7c7c"/><stop offset=".724" stop-color="#5e5e5e"/><stop offset=".758" stop-color="#3f3f3f"/><stop offset=".846" stop-color="#0d0d0d"/><stop offset=".88" stop-color="#020202"/><stop offset=".998" stop-color="#000000"/></linearGradient>
<linearGradient id="a55"><stop offset="0" stop-color="#000000"/><stop offset=".215" stop-color="#020202"/><stop offset=".293" stop-color="#1e1e1e"/><stop offset=".381" stop-color="#585858"/><stop offset=".406" stop-color="#666666"/><stop offset=".455" stop-color="#7a7a7a"/><stop offset=".484" stop-color="#848484"/><stop offset=".518" stop-color="#8a8a8a"/><stop offset=".562" stop-color="#8c8c8c"/><stop offset=".645" stop-color="#8b8b8b"/><stop offset=".689" stop-color="#818181"/><stop offset=".704" stop-color="#787878"/><stop offset=".724" stop-color="#636363"/><stop offset=".758" stop-color="#474747"/><stop offset=".778" stop-color="#3a3a3a"/><stop offset=".836" stop-color="#191919"/><stop offset=".88" stop-color="#070707"/><stop offset=".924" stop-color="#010101"/><stop offset=".998" stop-color="#000000"/></linearGradient>
<linearGradient id="a56"><stop offset="0" stop-color="#000000"/><stop offset=".21" stop-color="#010101"/><stop offset=".303" stop-color="#212121"/><stop offset=".401" stop-color="#5e5e5e"/><stop offset=".455" stop-color="#747474"/><stop offset=".484" stop-color="#7f7f7f"/><stop offset=".562" stop-color="#878787"/><stop offset=".636" stop-color="#878787"/><stop offset=".689" stop-color="#7e7e7e"/><stop offset=".778" stop-color="#3f3f3f"/><stop offset=".836" stop-color="#202020"/><stop offset=".88" stop-color="#0c0c0c"/><stop offset=".924" stop-color="#020202"/><stop offset=".998" stop-color="#000000"/></linearGradient>
<linearGradient id="a57"><stop offset="0" stop-color="#000000"/><stop offset=".21" stop-color="#010101"/><stop offset=".303" stop-color="#202020"/><stop offset=".401" stop-color="#5a5a5a"/><stop offset=".421" stop-color="#636363"/><stop offset=".484" stop-color="#797979"/><stop offset=".499" stop-color="#7d7d7d"/><stop offset=".562" stop-color="#818181"/><stop offset=".636" stop-color="#808080"/><stop offset=".689" stop-color="#777777"/><stop offset=".743" stop-color="#5c5c5c"/><stop offset=".792" stop-color="#3c3c3c"/><stop offset=".88" stop-color="#111111"/><stop offset=".924" stop-color="#040404"/><stop offset=".944" stop-color="#010101"/><stop offset=".998" stop-color="#000000"/></linearGradient>
<linearGradient id="a58"><stop offset="0" stop-color="#000000"/><stop offset=".21" stop-color="#010101"/><stop offset=".303" stop-color="#202020"/><stop offset=".421" stop-color="#606060"/><stop offset=".499" stop-color="#797979"/><stop offset=".562" stop-color="#7c7c7c"/><stop offset=".645" stop-color="#7a7a7a"/><stop offset=".689" stop-color="#717171"/><stop offset=".743" stop-color="#5f5f5f"/><stop offset=".792" stop-color="#3f3f3f"/><stop offset=".9" stop-color="#0c0c0c"/><stop offset=".944" stop-color="#010101"/><stop offset=".998" stop-color="#000000"/></linearGradient>
<linearGradient id="a59"><stop offset="0" stop-color="#000000"/><stop offset=".21" stop-color="#010101"/><stop offset=".303" stop-color="#202020"/><stop offset=".421" stop-color="#606060"/><stop offset=".499" stop-color="#787878"/><stop offset=".562" stop-color="#7a7a7a"/><stop offset=".645" stop-color="#787878"/><stop offset=".685" stop-color="#707070"/><stop offset=".743" stop-color="#606060"/><stop offset=".792" stop-color="#404040"/><stop offset=".9" stop-color="#0d0d0d"/><stop offset=".944" stop-color="#010101"/><stop offset=".998" stop-color="#000000"/></linearGradient>
<linearGradient id="a60"><stop offset="0" stop-color="#000000"/><stop offset=".21" stop-color="#010101"/><stop offset=".303" stop-color="#202020"/><stop offset=".421" stop-color="#606060"/><stop offset=".499" stop-color="#787878"/><stop offset=".562" stop-color="#7a7a7a"/><stop offset=".645" stop-color="#787878"/><stop offset=".685" stop-color="#707070"/><stop offset=".743" stop-color="#606060"/><stop offset=".792" stop-color="#404040"/><stop offset=".9" stop-color="#0d0d0d"/><stop offset=".944" stop-color="#010101"/><stop offset=".998" stop-color="#000000"/></linearGradient>
<filter id="jetb" filterUnits="userSpaceOnUse" x="399.6" y="130" width="204.2" height="242.5" color-interpolation-filters="sRGB"><feGaussianBlur stdDeviation=".6 1.6"/><feComponentTransfer><feFuncR type="table" tableValues="0 0 0 0 .5 1 1 1 .5"/><feFuncG type="table" tableValues="0 0 .5 1 1 1 .5 0 0"/><feFuncB type="table" tableValues=".502 1 1 1 .5 0 0 0 0"/></feComponentTransfer></filter>
<linearGradient id="b0"><stop offset="0" stop-color="#030303"/><stop offset=".274" stop-color="#030303"/><stop offset=".304" stop-color="#080808"/><stop offset=".343" stop-color="#181818"/><stop offset=".362" stop-color="#1b1b1b"/><stop offset=".382" stop-color="#181818"/><stop offset=".426" stop-color="#070707"/><stop offset=".455" stop-color="#030303"/><stop offset=".529" stop-color="#070707"/><stop offset=".597" stop-color="#030303"/><stop offset=".715" stop-color="#030303"/><stop offset=".784" stop-color="#090909"/><stop offset=".842" stop-color="#030303"/><stop offset=".999" stop-color="#030303"/></linearGradient>
<linearGradient id="b1"><stop offset="0" stop-color="#030303"/><stop offset=".274" stop-color="#040404"/><stop offset=".304" stop-color="#090909"/><stop offset=".343" stop-color="#191919"/><stop offset=".362" stop-color="#1d1d1d"/><stop offset=".382" stop-color="#191919"/><stop offset=".426" stop-color="#070707"/><stop offset=".455" stop-color="#030303"/><stop offset=".529" stop-color="#070707"/><stop offset=".597" stop-color="#030303"/><stop offset=".715" stop-color="#030303"/><stop offset=".784" stop-color="#0a0a0a"/><stop offset=".842" stop-color="#030303"/><stop offset=".999" stop-color="#030303"/></linearGradient>
<linearGradient id="b2"><stop offset="0" stop-color="#030303"/><stop offset=".274" stop-color="#040404"/><stop offset=".304" stop-color="#090909"/><stop offset=".343" stop-color="#191919"/><stop offset=".362" stop-color="#1d1d1d"/><stop offset=".382" stop-color="#191919"/><stop offset=".426" stop-color="#070707"/><stop offset=".455" stop-color="#030303"/><stop offset=".529" stop-color="#080808"/><stop offset=".597" stop-color="#030303"/><stop offset=".715" stop-color="#030303"/><stop offset=".784" stop-color="#0b0b0b"/><stop offset=".842" stop-color="#030303"/><stop offset=".999" stop-color="#030303"/></linearGradient>
<linearGradient id="b3"><stop offset="0" stop-color="#030303"/><stop offset=".274" stop-color="#040404"/><stop offset=".304" stop-color="#090909"/><stop offset=".343" stop-color="#1a1a1a"/><stop offset=".362" stop-color="#1e1e1e"/><stop offset=".382" stop-color="#1a1a1a"/><stop offset=".426" stop-color="#080808"/><stop offset=".455" stop-color="#040404"/><stop offset=".529" stop-color="#080808"/><stop offset=".597" stop-color="#030303"/><stop offset=".715" stop-color="#030303"/><stop offset=".739" stop-color="#040404"/><stop offset=".784" stop-color="#0c0c0c"/><stop offset=".842" stop-color="#030303"/><stop offset=".999" stop-color="#030303"/></linearGradient>
<linearGradient id="b4"><stop offset="0" stop-color="#030303"/><stop offset=".274" stop-color="#040404"/><stop offset=".304" stop-color="#090909"/><stop offset=".343" stop-color="#1b1b1b"/><stop offset=".362" stop-color="#1f1f1f"/><stop offset=".382" stop-color="#1b1b1b"/><stop offset=".426" stop-color="#080808"/><stop offset=".455" stop-color="#040404"/><stop offset=".529" stop-color="#080808"/><stop offset=".597" stop-color="#030303"/><stop offset=".715" stop-color="#030303"/><stop offset=".739" stop-color="#050505"/><stop offset=".784" stop-color="#0d0d0d"/><stop offset=".842" stop-color="#030303"/><stop offset=".999" stop-color="#030303"/></linearGradient>
<linearGradient id="b5"><stop offset="0" stop-color="#030303"/><stop offset=".274" stop-color="#040404"/><stop offset=".304" stop-color="#090909"/><stop offset=".343" stop-color="#1b1b1b"/><stop offset=".362" stop-color="#1f1f1f"/><stop offset=".382" stop-color="#1b1b1b"/><stop offset=".426" stop-color="#080808"/><stop offset=".455" stop-color="#040404"/><stop offset=".529" stop-color="#090909"/><stop offset=".597" stop-color="#030303"/><stop offset=".715" stop-color="#030303"/><stop offset=".739" stop-color="#050505"/><stop offset=".784" stop-color="#0d0d0d"/><stop offset=".842" stop-color="#030303"/><stop offset=".999" stop-color="#030303"/></linearGradient>
<linearGradient id="b6"><stop offset="0" stop-color="#030303"/><stop offset=".274" stop-color="#040404"/><stop offset=".304" stop-color="#090909"/><stop offset=".343" stop-color="#1b1b1b"/><stop offset=".362" stop-color="#1f1f1f"/><stop offset=".382" stop-color="#1b1b1b"/><stop offset=".426" stop-color="#080808"/><stop offset=".455" stop-color="#040404"/><stop offset=".529" stop-color="#090909"/><stop offset=".597" stop-color="#030303"/><stop offset=".715" stop-color="#030303"/><stop offset=".739" stop-color="#050505"/><stop offset=".784" stop-color="#0e0e0e"/><stop offset=".842" stop-color="#030303"/><stop offset=".999" stop-color="#030303"/></linearGradient>
<linearGradient id="b7"><stop offset="0" stop-color="#030303"/><stop offset=".274" stop-color="#040404"/><stop offset=".304" stop-color="#090909"/><stop offset=".343" stop-color="#1b1b1b"/><stop offset=".362" stop-color="#1f1f1f"/><stop offset=".382" stop-color="#1b1b1b"/><stop offset=".426" stop-color="#080808"/><stop offset=".455" stop-color="#040404"/><stop offset=".529" stop-color="#0a0a0a"/><stop offset=".597" stop-color="#030303"/><stop offset=".715" stop-color="#030303"/><stop offset=".739" stop-color="#050505"/><stop offset=".784" stop-color="#0f0f0f"/><stop offset=".842" stop-color="#030303"/><stop offset=".999" stop-color="#030303"/></linearGradient>
<linearGradient id="b8"><stop offset="0" stop-color="#030303"/><stop offset=".274" stop-color="#040404"/><stop offset=".304" stop-color="#090909"/><stop offset=".343" stop-color="#1a1a1a"/><stop offset=".362" stop-color="#1f1f1f"/><stop offset=".382" stop-color="#1a1a1a"/><stop offset=".426" stop-color="#080808"/><stop offset=".455" stop-color="#040404"/><stop offset=".529" stop-color="#0a0a0a"/><stop offset=".597" stop-color="#030303"/><stop offset=".715" stop-color="#030303"/><stop offset=".739" stop-color="#050505"/><stop offset=".784" stop-color="#0f0f0f"/><stop offset=".842" stop-color="#030303"/><stop offset=".999" stop-color="#030303"/></linearGradient>
<linearGradient id="b9"><stop offset="0" stop-color="#030303"/><stop offset=".274" stop-color="#040404"/><stop offset=".304" stop-color="#090909"/><stop offset=".343" stop-color="#1a1a1a"/><stop offset=".362" stop-color="#1e1e1e"/><stop offset=".382" stop-color="#1a1a1a"/><stop offset=".426" stop-color="#080808"/><stop offset=".455" stop-color="#040404"/><stop offset=".529" stop-color="#0a0a0a"/><stop offset=".597" stop-color="#030303"/><stop offset=".715" stop-color="#030303"/><stop offset=".739" stop-color="#050505"/><stop offset=".784" stop-color="#0f0f0f"/><stop offset=".842" stop-color="#030303"/><stop offset=".999" stop-color="#030303"/></linearGradient>
<linearGradient id="b10"><stop offset="0" stop-color="#030303"/><stop offset=".274" stop-color="#040404"/><stop offset=".304" stop-color="#090909"/><stop offset=".343" stop-color="#1a1a1a"/><stop offset=".362" stop-color="#1d1d1d"/><stop offset=".382" stop-color="#1a1a1a"/><stop offset=".426" stop-color="#080808"/><stop offset=".455" stop-color="#040404"/><stop offset=".529" stop-color="#0a0a0a"/><stop offset=".597" stop-color="#030303"/><stop offset=".715" stop-color="#030303"/><stop offset=".739" stop-color="#050505"/><stop offset=".784" stop-color="#0f0f0f"/><stop offset=".842" stop-color="#030303"/><stop offset=".999" stop-color="#030303"/></linearGradient>
<linearGradient id="b11"><stop offset="0" stop-color="#030303"/><stop offset=".269" stop-color="#040404"/><stop offset=".299" stop-color="#080808"/><stop offset=".343" stop-color="#191919"/><stop offset=".362" stop-color="#1d1d1d"/><stop offset=".382" stop-color="#191919"/><stop offset=".426" stop-color="#080808"/><stop offset=".455" stop-color="#040404"/><stop offset=".529" stop-color="#0a0a0a"/><stop offset=".597" stop-color="#030303"/><stop offset=".715" stop-color="#030303"/><stop offset=".739" stop-color="#050505"/><stop offset=".784" stop-color="#0f0f0f"/><stop offset=".842" stop-color="#030303"/><stop offset=".999" stop-color="#030303"/></linearGradient>
<linearGradient id="b12"><stop offset="0" stop-color="#030303"/><stop offset=".269" stop-color="#040404"/><stop offset=".299" stop-color="#080808"/><stop offset=".343" stop-color="#181818"/><stop offset=".362" stop-color="#1c1c1c"/><stop offset=".382" stop-color="#181818"/><stop offset=".426" stop-color="#090909"/><stop offset=".455" stop-color="#050505"/><stop offset=".529" stop-color="#0a0a0a"/><stop offset=".597" stop-color="#030303"/><stop offset=".715" stop-color="#030303"/><stop offset=".739" stop-color="#050505"/><stop offset=".784" stop-color="#0f0f0f"/><stop offset=".842" stop-color="#030303"/><stop offset=".999" stop-color="#030303"/></linearGradient>
<linearGradient id="b13"><stop offset="0" stop-color="#030303"/><stop offset=".269" stop-color="#040404"/><stop offset=".299" stop-color="#080808"/><stop offset=".343" stop-color="#181818"/><stop offset=".362" stop-color="#1b1b1b"/><stop offset=".382" stop-color="#181818"/><stop offset=".426" stop-color="#090909"/><stop offset=".46" stop-color="#050505"/><stop offset=".529" stop-color="#0a0a0a"/><stop offset=".597" stop-color="#030303"/><stop offset=".715" stop-color="#030303"/><stop offset=".739" stop-color="#050505"/><stop offset=".784" stop-color="#0f0f0f"/><stop offset=".842" stop-color="#030303"/><stop offset=".999" stop-color="#030303"/></linearGradient>
<linearGradient id="b14"><stop offset="0" stop-color="#030303"/><stop offset=".269" stop-color="#040404"/><stop offset=".299" stop-color="#080808"/><stop offset=".343" stop-color="#171717"/><stop offset=".362" stop-color="#1a1a1a"/><stop offset=".382" stop-color="#171717"/><stop offset=".426" stop-color="#0a0a0a"/><stop offset=".46" stop-color="#050505"/><stop offset=".529" stop-color="#0a0a0a"/><stop offset=".597" stop-color="#030303"/><stop offset=".715" stop-color="#030303"/><stop offset=".739" stop-color="#050505"/><stop offset=".784" stop-color="#0e0e0e"/><stop offset=".842" stop-color="#030303"/><stop offset=".999" stop-color="#030303"/></linearGradient>
<linearGradient id="b15"><stop offset="0" stop-color="#030303"/><stop offset=".269" stop-color="#040404"/><stop offset=".299" stop-color="#080808"/><stop offset=".343" stop-color="#161616"/><stop offset=".362" stop-color="#191919"/><stop offset=".377" stop-color="#181818"/><stop offset=".426" stop-color="#0a0a0a"/><stop offset=".465" stop-color="#060606"/><stop offset=".529" stop-color="#0a0a0a"/><stop offset=".597" stop-color="#030303"/><stop offset=".715" stop-color="#030303"/><stop offset=".739" stop-color="#050505"/><stop offset=".784" stop-color="#0d0d0d"/><stop offset=".842" stop-color="#030303"/><stop offset=".999" stop-color="#030303"/></linearGradient>
<linearGradient id="b16"><stop offset="0" stop-color="#030303"/><stop offset=".264" stop-color="#040404"/><stop offset=".299" stop-color="#080808"/><stop offset=".343" stop-color="#151515"/><stop offset=".362" stop-color="#181818"/><stop offset=".377" stop-color="#171717"/><stop offset=".426" stop-color="#0b0b0b"/><stop offset=".475" stop-color="#060606"/><stop offset=".529" stop-color="#090909"/><stop offset=".597" stop-color="#030303"/><stop offset=".715" stop-color="#030303"/><stop offset=".739" stop-color="#050505"/><stop offset=".784" stop-color="#0d0d0d"/><stop offset=".842" stop-color="#030303"/><stop offset=".999" stop-color="#030303"/></linearGradient>
<linearGradient id="b17"><stop offset="0" stop-color="#030303"/><stop offset=".264" stop-color="#040404"/><stop offset=".299" stop-color="#080808"/><stop offset=".343" stop-color="#141414"/><stop offset=".362" stop-color="#171717"/><stop offset=".421" stop-color="#0d0d0d"/><stop offset=".48" stop-color="#070707"/><stop offset=".529" stop-color="#090909"/><stop offset=".597" stop-color="#030303"/><stop offset=".715" stop-color="#030303"/><stop offset=".739" stop-color="#040404"/><stop offset=".784" stop-color="#0c0c0c"/><stop offset=".842" stop-color="#030303"/><stop offset=".999" stop-color="#030303"/></linearGradient>
<linearGradient id="b18"><stop offset="0" stop-color="#030303"/><stop offset=".264" stop-color="#040404"/><stop offset=".299" stop-color="#080808"/><stop offset=".343" stop-color="#141414"/><stop offset=".362" stop-color="#161616"/><stop offset=".475" stop-color="#080808"/><stop offset=".534" stop-color="#090909"/><stop offset=".597" stop-color="#030303"/><stop offset=".725" stop-color="#030303"/><stop offset=".784" stop-color="#0b0b0b"/><stop offset=".842" stop-color="#030303"/><stop offset=".999" stop-color="#030303"/></linearGradient>
<linearGradient id="b19"><stop offset="0" stop-color="#030303"/><stop offset=".26" stop-color="#040404"/><stop offset=".294" stop-color="#070707"/><stop offset=".348" stop-color="#141414"/><stop offset=".367" stop-color="#151515"/><stop offset=".441" stop-color="#0f0f0f"/><stop offset=".485" stop-color="#080808"/><stop offset=".534" stop-color="#080808"/><stop offset=".597" stop-color="#030303"/><stop offset=".725" stop-color="#030303"/><stop offset=".784" stop-color="#0a0a0a"/><stop offset=".842" stop-color="#030303"/><stop offset=".999" stop-color="#030303"/></linearGradient>
<linearGradient id="b20"><stop offset="0" stop-color="#030303"/><stop offset=".26" stop-color="#040404"/><stop offset=".294" stop-color="#070707"/><stop offset=".343" stop-color="#121212"/><stop offset=".367" stop-color="#141414"/><stop offset=".436" stop-color="#111111"/><stop offset=".49" stop-color="#080808"/><stop offset=".534" stop-color="#080808"/><stop offset=".597" stop-color="#030303"/><stop offset=".725" stop-color="#030303"/><stop offset=".784" stop-color="#090909"/><stop offset=".842" stop-color="#030303"/><stop offset=".999" stop-color="#030303"/></linearGradient>
<linearGradient id="b21"><stop offset="0" stop-color="#030303"/><stop offset=".26" stop-color="#040404"/><stop offset=".294" stop-color="#060606"/><stop offset=".357" stop-color="#121212"/><stop offset=".431" stop-color="#141414"/><stop offset=".451" stop-color="#121212"/><stop offset=".49" stop-color="#090909"/><stop offset=".593" stop-color="#030303"/><stop offset=".725" stop-color="#030303"/><stop offset=".784" stop-color="#080808"/><stop offset=".842" stop-color="#030303"/><stop offset=".999" stop-color="#030303"/></linearGradient>
<linearGradient id="b22"><stop offset="0" stop-color="#030303"/><stop offset=".264" stop-color="#040404"/><stop offset=".299" stop-color="#070707"/><stop offset=".353" stop-color="#111111"/><stop offset=".436" stop-color="#171717"/><stop offset=".451" stop-color="#151515"/><stop offset=".495" stop-color="#090909"/><stop offset=".593" stop-color="#030303"/><stop offset=".725" stop-color="#030303"/><stop offset=".784" stop-color="#080808"/><stop offset=".842" stop-color="#030303"/><stop offset=".999" stop-color="#030303"/></linearGradient>
<linearGradient id="b23"><stop offset="0" stop-color="#030303"/><stop offset=".269" stop-color="#040404"/><stop offset=".353" stop-color="#0f0f0f"/><stop offset=".392" stop-color="#121212"/><stop offset=".436" stop-color="#1a1a1a"/><stop offset=".451" stop-color="#181818"/><stop offset=".5" stop-color="#0a0a0a"/><stop offset=".588" stop-color="#030303"/><stop offset=".72" stop-color="#030303"/><stop offset=".784" stop-color="#070707"/><stop offset=".842" stop-color="#030303"/><stop offset=".999" stop-color="#030303"/></linearGradient>
<linearGradient id="b24"><stop offset="0" stop-color="#030303"/><stop offset=".274" stop-color="#040404"/><stop offset=".387" stop-color="#111111"/><stop offset=".436" stop-color="#1d1d1d"/><stop offset=".451" stop-color="#1b1b1b"/><stop offset=".5" stop-color="#0b0b0b"/><stop offset=".583" stop-color="#040404"/><stop offset=".72" stop-color="#030303"/><stop offset=".784" stop-color="#060606"/><stop offset=".842" stop-color="#030303"/><stop offset=".999" stop-color="#030303"/></linearGradient>
<linearGradient id="b25"><stop offset="0" stop-color="#030303"/><stop offset=".279" stop-color="#040404"/><stop offset=".382" stop-color="#101010"/><stop offset=".426" stop-color="#1e1e1e"/><stop offset=".441" stop-color="#1f1f1f"/><stop offset=".455" stop-color="#1c1c1c"/><stop offset=".5" stop-color="#0c0c0c"/><stop offset=".578" stop-color="#040404"/><stop offset=".72" stop-color="#030303"/><stop offset=".784" stop-color="#060606"/><stop offset=".842" stop-color="#030303"/><stop offset=".999" stop-color="#030303"/></linearGradient>
<linearGradient id="b26"><stop offset="0" stop-color="#030303"/><stop offset=".289" stop-color="#050505"/><stop offset=".382" stop-color="#101010"/><stop offset=".426" stop-color="#202020"/><stop offset=".441" stop-color="#222222"/><stop offset=".455" stop-color="#1f1f1f"/><stop offset=".485" stop-color="#121212"/><stop offset=".504" stop-color="#0c0c0c"/><stop offset=".578" stop-color="#040404"/><stop offset=".715" stop-color="#030303"/><stop offset=".784" stop-color="#050505"/><stop offset=".842" stop-color="#030303"/><stop offset=".999" stop-color="#030303"/></linearGradient>
<linearGradient id="b27"><stop offset="0" stop-color="#030303"/><stop offset=".23" stop-color="#030303"/><stop offset=".299" stop-color="#050505"/><stop offset=".377" stop-color="#0f0f0f"/><stop offset=".397" stop-color="#151515"/><stop offset=".426" stop-color="#222222"/><stop offset=".441" stop-color="#252525"/><stop offset=".455" stop-color="#222222"/><stop offset=".504" stop-color="#0e0e0e"/><stop offset=".578" stop-color="#040404"/><stop offset=".999" stop-color="#030303"/></linearGradient>
<linearGradient id="b28"><stop offset="0" stop-color="#030303"/><stop offset=".24" stop-color="#030303"/><stop offset=".309" stop-color="#060606"/><stop offset=".377" stop-color="#0f0f0f"/><stop offset=".397" stop-color="#161616"/><stop offset=".426" stop-color="#242424"/><stop offset=".441" stop-color="#272727"/><stop offset=".455" stop-color="#252525"/><stop offset=".49" stop-color="#151515"/><stop offset=".509" stop-color="#0e0e0e"/><stop offset=".573" stop-color="#050505"/><stop offset=".999" stop-color="#030303"/></linearGradient>
<linearGradient id="b29"><stop offset="0" stop-color="#030303"/><stop offset=".245" stop-color="#030303"/><stop offset=".318" stop-color="#060606"/><stop offset=".377" stop-color="#101010"/><stop offset=".426" stop-color="#262626"/><stop offset=".441" stop-color="#292929"/><stop offset=".46" stop-color="#252525"/><stop offset=".495" stop-color="#151515"/><stop offset=".514" stop-color="#0e0e0e"/><stop offset=".578" stop-color="#050505"/><stop offset=".999" stop-color="#030303"/></linearGradient>
<linearGradient id="b30"><stop offset="0" stop-color="#030303"/><stop offset=".245" stop-color="#030303"/><stop offset=".323" stop-color="#070707"/><stop offset=".377" stop-color="#101010"/><stop offset=".426" stop-color="#282828"/><stop offset=".446" stop-color="#2b2b2b"/><stop offset=".46" stop-color="#282828"/><stop offset=".495" stop-color="#181818"/><stop offset=".519" stop-color="#0f0f0f"/><stop offset=".578" stop-color="#050505"/><stop offset=".999" stop-color="#030303"/></linearGradient>
<linearGradient id="b31"><stop offset="0" stop-color="#030303"/><stop offset=".245" stop-color="#030303"/><stop offset=".323" stop-color="#070707"/><stop offset=".372" stop-color="#0f0f0f"/><stop offset=".392" stop-color="#171717"/><stop offset=".426" stop-color="#292929"/><stop offset=".446" stop-color="#2d2d2d"/><stop offset=".46" stop-color="#2a2a2a"/><stop offset=".5" stop-color="#181818"/><stop offset=".524" stop-color="#0f0f0f"/><stop offset=".578" stop-color="#060606"/><stop offset=".686" stop-color="#030303"/><stop offset=".999" stop-color="#030303"/></linearGradient>
<linearGradient id="b32"><stop offset="0" stop-color="#030303"/><stop offset=".25" stop-color="#040404"/><stop offset=".328" stop-color="#070707"/><stop offset=".372" stop-color="#101010"/><stop offset=".392" stop-color="#181818"/><stop offset=".426" stop-color="#2b2b2b"/><stop offset=".446" stop-color="#2f2f2f"/><stop offset=".465" stop-color="#2b2b2b"/><stop offset=".504" stop-color="#191919"/><stop offset=".529" stop-color="#101010"/><stop offset=".583" stop-color="#060606"/><stop offset=".7" stop-color="#030303"/><stop offset=".999" stop-color="#030303"/></linearGradient>
<linearGradient id="b33"><stop offset="0" stop-color="#030303"/><stop offset=".245" stop-color="#040404"/><stop offset=".328" stop-color="#070707"/><stop offset=".372" stop-color="#111111"/><stop offset=".426" stop-color="#2c2c2c"/><stop offset=".446" stop-color="#313131"/><stop offset=".465" stop-color="#2e2e2e"/><stop offset=".534" stop-color="#101010"/><stop offset=".558" stop-color="#0a0a0a"/><stop offset=".588" stop-color="#070707"/><stop offset=".71" stop-color="#040404"/><stop offset=".999" stop-color="#030303"/></linearGradient>
<linearGradient id="b34"><stop offset="0" stop-color="#030303"/><stop offset=".24" stop-color="#040404"/><stop offset=".328" stop-color="#080808"/><stop offset=".372" stop-color="#111111"/><stop offset=".426" stop-color="#2d2d2d"/><stop offset=".451" stop-color="#333333"/><stop offset=".47" stop-color="#2e2e2e"/><stop offset=".539" stop-color="#111111"/><stop offset=".563" stop-color="#0b0b0b"/><stop offset=".593" stop-color="#070707"/><stop offset=".715" stop-color="#040404"/><stop offset=".999" stop-color="#030303"/></linearGradient>
<linearGradient id="b35"><stop offset="0" stop-color="#030303"/><stop offset=".235" stop-color="#040404"/><stop offset=".328" stop-color="#080808"/><stop offset=".372" stop-color="#121212"/><stop offset=".426" stop-color="#2e2e2e"/><stop offset=".451" stop-color="#353535"/><stop offset=".475" stop-color="#303030"/><stop offset=".524" stop-color="#191919"/><stop offset=".548" stop-color="#111111"/><stop offset=".597" stop-color="#080808"/><stop offset=".725" stop-color="#040404"/><stop offset=".999" stop-color="#030303"/></linearGradient>
<linearGradient id="b36"><stop offset="0" stop-color="#030303"/><stop offset=".225" stop-color="#040404"/><stop offset=".328" stop-color="#090909"/><stop offset=".367" stop-color="#111111"/><stop offset=".387" stop-color="#1a1a1a"/><stop offset=".431" stop-color="#323232"/><stop offset=".455" stop-color="#363636"/><stop offset=".48" stop-color="#313131"/><stop offset=".553" stop-color="#121212"/><stop offset=".602" stop-color="#090909"/><stop offset=".73" stop-color="#040404"/><stop offset=".999" stop-color="#030303"/></linearGradient>
<linearGradient id="b37"><stop offset="0" stop-color="#030303"/><stop offset=".215" stop-color="#050505"/><stop offset=".328" stop-color="#0a0a0a"/><stop offset=".367" stop-color="#121212"/><stop offset=".387" stop-color="#1b1b1b"/><stop offset=".431" stop-color="#333333"/><stop offset=".455" stop-color="#383838"/><stop offset=".485" stop-color="#323232"/><stop offset=".558" stop-color="#131313"/><stop offset=".607" stop-color="#090909"/><stop offset=".735" stop-color="#040404"/><stop offset=".999" stop-color="#030303"/></linearGradient>
<linearGradient id="b38"><stop offset="0" stop-color="#030303"/><stop offset=".211" stop-color="#050505"/><stop offset=".328" stop-color="#0a0a0a"/><stop offset=".367" stop-color="#131313"/><stop offset=".387" stop-color="#1c1c1c"/><stop offset=".431" stop-color="#343434"/><stop offset=".446" stop-color="#393939"/><stop offset=".46" stop-color="#3a3a3a"/><stop offset=".49" stop-color="#343434"/><stop offset=".563" stop-color="#141414"/><stop offset=".617" stop-color="#090909"/><stop offset=".744" stop-color="#040404"/><stop offset=".999" stop-color="#030303"/></linearGradient>
<linearGradient id="b39"><stop offset="0" stop-color="#030303"/><stop offset=".206" stop-color="#050505"/><stop offset=".328" stop-color="#0b0b0b"/><stop offset=".367" stop-color="#141414"/><stop offset=".436" stop-color="#363636"/><stop offset=".451" stop-color="#3b3b3b"/><stop offset=".465" stop-color="#3c3c3c"/><stop offset=".495" stop-color="#353535"/><stop offset=".568" stop-color="#151515"/><stop offset=".622" stop-color="#0a0a0a"/><stop offset=".749" stop-color="#040404"/><stop offset=".999" stop-color="#030303"/></linearGradient>
<linearGradient id="b40"><stop offset="0" stop-color="#030303"/><stop offset=".201" stop-color="#050505"/><stop offset=".328" stop-color="#0c0c0c"/><stop offset=".367" stop-color="#141414"/><stop offset=".387" stop-color="#1d1d1d"/><stop offset=".436" stop-color="#373737"/><stop offset=".451" stop-color="#3c3c3c"/><stop offset=".465" stop-color="#3e3e3e"/><stop offset=".495" stop-color="#383838"/><stop offset=".573" stop-color="#161616"/><stop offset=".627" stop-color="#0b0b0b"/><stop offset=".754" stop-color="#040404"/><stop offset=".999" stop-color="#030303"/></linearGradient>
<linearGradient id="b41"><stop offset="0" stop-color="#030303"/><stop offset=".201" stop-color="#050505"/><stop offset=".328" stop-color="#0c0c0c"/><stop offset=".372" stop-color="#171717"/><stop offset=".441" stop-color="#393939"/><stop offset=".47" stop-color="#404040"/><stop offset=".5" stop-color="#3a3a3a"/><stop offset=".558" stop-color="#1e1e1e"/><stop offset=".583" stop-color="#151515"/><stop offset=".637" stop-color="#0b0b0b"/><stop offset=".764" stop-color="#040404"/><stop offset=".999" stop-color="#030303"/></linearGradient>
<linearGradient id="b42"><stop offset="0" stop-color="#030303"/><stop offset=".196" stop-color="#050505"/><stop offset=".328" stop-color="#0d0d0d"/><stop offset=".372" stop-color="#171717"/><stop offset=".441" stop-color="#3a3a3a"/><stop offset=".46" stop-color="#404040"/><stop offset=".475" stop-color="#424242"/><stop offset=".504" stop-color="#3c3c3c"/><stop offset=".588" stop-color="#171717"/><stop offset=".617" stop-color="#0f0f0f"/><stop offset=".646" stop-color="#0b0b0b"/><stop offset=".764" stop-color="#040404"/><stop offset=".999" stop-color="#030303"/></linearGradient>
<linearGradient id="b43"><stop offset="0" stop-color="#030303"/><stop offset=".196" stop-color="#050505"/><stop offset=".328" stop-color="#0e0e0e"/><stop offset=".372" stop-color="#181818"/><stop offset=".446" stop-color="#3d3d3d"/><stop offset=".465" stop-color="#434343"/><stop offset=".48" stop-color="#454545"/><stop offset=".495" stop-color="#434343"/><stop offset=".514" stop-color="#3d3d3d"/><stop offset=".597" stop-color="#181818"/><stop offset=".627" stop-color="#101010"/><stop offset=".656" stop-color="#0b0b0b"/><stop offset=".769" stop-color="#040404"/><stop offset=".999" stop-color="#030303"/></linearGradient>
<linearGradient id="b44"><stop offset="0" stop-color="#030303"/><stop offset=".201" stop-color="#060606"/><stop offset=".328" stop-color="#0e0e0e"/><stop offset=".372" stop-color="#191919"/><stop offset=".397" stop-color="#232323"/><stop offset=".451" stop-color="#414141"/><stop offset=".47" stop-color="#474747"/><stop offset=".485" stop-color="#494949"/><stop offset=".5" stop-color="#474747"/><stop offset=".519" stop-color="#424242"/><stop offset=".583" stop-color="#222222"/><stop offset=".612" stop-color="#171717"/><stop offset=".666" stop-color="#0b0b0b"/><stop offset=".774" stop-color="#040404"/><stop offset=".999" stop-color="#030303"/></linearGradient>
<linearGradient id="b45"><stop offset="0" stop-color="#030303"/><stop offset=".201" stop-color="#060606"/><stop offset=".328" stop-color="#0e0e0e"/><stop offset=".353" stop-color="#131313"/><stop offset=".377" stop-color="#1b1b1b"/><stop offset=".402" stop-color="#262626"/><stop offset=".455" stop-color="#454545"/><stop offset=".475" stop-color="#4b4b4b"/><stop offset=".49" stop-color="#4d4d4d"/><stop offset=".509" stop-color="#4b4b4b"/><stop offset=".529" stop-color="#454545"/><stop offset=".593" stop-color="#232323"/><stop offset=".617" stop-color="#191919"/><stop offset=".671" stop-color="#0b0b0b"/><stop offset=".774" stop-color="#040404"/><stop offset=".999" stop-color="#030303"/></linearGradient>
<linearGradient id="b46"><stop offset="0" stop-color="#030303"/><stop offset=".211" stop-color="#060606"/><stop offset=".289" stop-color="#0a0a0a"/><stop offset=".333" stop-color="#0f0f0f"/><stop offset=".362" stop-color="#151515"/><stop offset=".387" stop-color="#1e1e1e"/><stop offset=".465" stop-color="#4a4a4a"/><stop offset=".485" stop-color="#505050"/><stop offset=".5" stop-color="#515151"/><stop offset=".514" stop-color="#505050"/><stop offset=".534" stop-color="#494949"/><stop offset=".602" stop-color="#242424"/><stop offset=".627" stop-color="#191919"/><stop offset=".651" stop-color="#111111"/><stop offset=".681" stop-color="#0b0b0b"/><stop offset=".779" stop-color="#040404"/><stop offset=".999" stop-color="#030303"/></linearGradient>
<linearGradient id="b47"><stop offset="0" stop-color="#030303"/><stop offset=".215" stop-color="#060606"/><stop offset=".294" stop-color="#0a0a0a"/><stop offset=".338" stop-color="#0f0f0f"/><stop offset=".382" stop-color="#1a1a1a"/><stop offset=".406" stop-color="#262626"/><stop offset=".465" stop-color="#484848"/><stop offset=".485" stop-color="#505050"/><stop offset=".504" stop-color="#525252"/><stop offset=".524" stop-color="#505050"/><stop offset=".544" stop-color="#494949"/><stop offset=".607" stop-color="#272727"/><stop offset=".637" stop-color="#1a1a1a"/><stop offset=".69" stop-color="#0c0c0c"/><stop offset=".735" stop-color="#070707"/><stop offset=".788" stop-color="#040404"/><stop offset=".999" stop-color="#030303"/></linearGradient>
<linearGradient id="b48"><stop offset="0" stop-color="#030303"/><stop offset=".206" stop-color="#060606"/><stop offset=".338" stop-color="#0e0e0e"/><stop offset=".367" stop-color="#131313"/><stop offset=".392" stop-color="#1b1b1b"/><stop offset=".48" stop-color="#484848"/><stop offset=".5" stop-color="#4d4d4d"/><stop offset=".514" stop-color="#4e4e4e"/><stop offset=".534" stop-color="#4c4c4c"/><stop offset=".553" stop-color="#464646"/><stop offset=".622" stop-color="#262626"/><stop offset=".651" stop-color="#1b1b1b"/><stop offset=".71" stop-color="#0d0d0d"/><stop offset=".808" stop-color="#050505"/><stop offset=".999" stop-color="#030303"/></linearGradient>
<linearGradient id="b49"><stop offset="0" stop-color="#030303"/><stop offset=".206" stop-color="#050505"/><stop offset=".343" stop-color="#0d0d0d"/><stop offset=".397" stop-color="#191919"/><stop offset=".485" stop-color="#3f3f3f"/><stop offset=".519" stop-color="#444444"/><stop offset=".553" stop-color="#404040"/><stop offset=".666" stop-color="#1d1d1d"/><stop offset=".749" stop-color="#0c0c0c"/><stop offset=".837" stop-color="#050505"/><stop offset=".999" stop-color="#030303"/></linearGradient>
<linearGradient id="b50"><stop offset="0" stop-color="#030303"/><stop offset=".201" stop-color="#050505"/><stop offset=".343" stop-color="#0c0c0c"/><stop offset=".397" stop-color="#151515"/><stop offset=".49" stop-color="#323232"/><stop offset=".529" stop-color="#373737"/><stop offset=".573" stop-color="#333333"/><stop offset=".798" stop-color="#0b0b0b"/><stop offset=".872" stop-color="#060606"/><stop offset=".999" stop-color="#030303"/></linearGradient>
<linearGradient id="b51"><stop offset="0" stop-color="#030303"/><stop offset=".186" stop-color="#050505"/><stop offset=".338" stop-color="#0a0a0a"/><stop offset=".397" stop-color="#111111"/><stop offset=".49" stop-color="#252525"/><stop offset=".534" stop-color="#282828"/><stop offset=".686" stop-color="#222222"/><stop offset=".847" stop-color="#0c0c0c"/><stop offset=".999" stop-color="#040404"/></linearGradient>
<linearGradient id="b52"><stop offset="0" stop-color="#030303"/><stop offset=".162" stop-color="#040404"/><stop offset=".294" stop-color="#080808"/><stop offset=".382" stop-color="#0e0e0e"/><stop offset=".5" stop-color="#1d1d1d"/><stop offset=".607" stop-color="#1d1d1d"/><stop offset=".705" stop-color="#222222"/><stop offset=".759" stop-color="#1f1f1f"/><stop offset=".896" stop-color="#0e0e0e"/><stop offset=".999" stop-color="#060606"/></linearGradient>
<linearGradient id="b53"><stop offset="0" stop-color="#030303"/><stop offset=".225" stop-color="#070707"/><stop offset=".475" stop-color="#1a1a1a"/><stop offset=".612" stop-color="#1b1b1b"/><stop offset=".754" stop-color="#262626"/><stop offset=".818" stop-color="#222222"/><stop offset=".999" stop-color="#0a0a0a"/></linearGradient>
<linearGradient id="b54"><stop offset="0" stop-color="#030303"/><stop offset=".181" stop-color="#080808"/><stop offset=".441" stop-color="#1f1f1f"/><stop offset=".5" stop-color="#212121"/><stop offset=".627" stop-color="#212121"/><stop offset=".779" stop-color="#2e2e2e"/><stop offset=".847" stop-color="#292929"/><stop offset=".999" stop-color="#0f0f0f"/></linearGradient>
<linearGradient id="b55"><stop offset="0" stop-color="#040404"/><stop offset=".108" stop-color="#060606"/><stop offset=".191" stop-color="#0b0b0b"/><stop offset=".377" stop-color="#232323"/><stop offset=".436" stop-color="#282828"/><stop offset=".642" stop-color="#292929"/><stop offset=".788" stop-color="#323232"/><stop offset=".828" stop-color="#313131"/><stop offset=".862" stop-color="#2d2d2d"/><stop offset=".999" stop-color="#131313"/></linearGradient>
<linearGradient id="b56"><stop offset="0" stop-color="#040404"/><stop offset=".186" stop-color="#0a0a0a"/><stop offset=".387" stop-color="#232323"/><stop offset=".475" stop-color="#282828"/><stop offset=".651" stop-color="#262626"/><stop offset=".828" stop-color="#2a2a2a"/><stop offset=".886" stop-color="#252525"/><stop offset=".999" stop-color="#121212"/></linearGradient>
<linearGradient id="b57"><stop offset="0" stop-color="#030303"/><stop offset=".186" stop-color="#080808"/><stop offset=".382" stop-color="#181818"/><stop offset=".47" stop-color="#1b1b1b"/><stop offset=".842" stop-color="#1b1b1b"/><stop offset=".901" stop-color="#171717"/><stop offset=".999" stop-color="#0d0d0d"/></linearGradient>
<linearGradient id="b58"><stop offset="0" stop-color="#030303"/><stop offset=".186" stop-color="#050505"/><stop offset=".465" stop-color="#0e0e0e"/><stop offset=".857" stop-color="#0d0d0d"/><stop offset=".999" stop-color="#080808"/></linearGradient>
<linearGradient id="b59"><stop offset="0" stop-color="#030303"/><stop offset=".46" stop-color="#070707"/><stop offset=".999" stop-color="#050505"/></linearGradient>
<linearGradient id="b60"><stop offset="0" stop-color="#030303"/><stop offset=".46" stop-color="#050505"/><stop offset=".999" stop-color="#030303"/></linearGradient>
<filter id="jetc" filterUnits="userSpaceOnUse" x="681.2" y="130" width="210" height="241.5" color-interpolation-filters="sRGB"><feGaussianBlur stdDeviation=".8 1.2"/><feComponentTransfer><feFuncR type="table" tableValues="0 0 0 0 .5 1 1 1 .5"/><feFuncG type="table" tableValues="0 0 .5 1 1 1 .5 0 0"/><feFuncB type="table" tableValues=".502 1 1 1 .5 0 0 0 0"/></feComponentTransfer></filter>
<linearGradient id="c0"><stop offset="0" stop-color="#000000"/><stop offset=".095" stop-color="#000000"/><stop offset=".119" stop-color="#080808"/><stop offset=".129" stop-color="#070707"/><stop offset=".143" stop-color="#000000"/><stop offset="1" stop-color="#000000"/></linearGradient>
<linearGradient id="c1"><stop offset="0" stop-color="#000000"/><stop offset=".095" stop-color="#000000"/><stop offset=".11" stop-color="#080808"/><stop offset=".119" stop-color="#0b0b0b"/><stop offset=".129" stop-color="#0a0a0a"/><stop offset=".148" stop-color="#000000"/><stop offset=".21" stop-color="#000000"/><stop offset=".233" stop-color="#030303"/><stop offset=".252" stop-color="#000000"/><stop offset=".519" stop-color="#000000"/><stop offset=".538" stop-color="#070707"/><stop offset=".557" stop-color="#000000"/><stop offset=".876" stop-color="#000000"/><stop offset=".9" stop-color="#080808"/><stop offset=".924" stop-color="#000000"/><stop offset="1" stop-color="#000000"/></linearGradient>
<linearGradient id="c2"><stop offset="0" stop-color="#000000"/><stop offset=".09" stop-color="#000000"/><stop offset=".11" stop-color="#0a0a0a"/><stop offset=".124" stop-color="#0d0d0d"/><stop offset=".133" stop-color="#0b0b0b"/><stop offset=".152" stop-color="#000000"/><stop offset=".21" stop-color="#000000"/><stop offset=".233" stop-color="#060606"/><stop offset=".257" stop-color="#000000"/><stop offset=".51" stop-color="#000000"/><stop offset=".514" stop-color="#010101"/><stop offset=".529" stop-color="#0e0e0e"/><stop offset=".538" stop-color="#121212"/><stop offset=".548" stop-color="#0e0e0e"/><stop offset=".562" stop-color="#010101"/><stop offset=".567" stop-color="#000000"/><stop offset=".867" stop-color="#000000"/><stop offset=".871" stop-color="#010101"/><stop offset=".89" stop-color="#0f0f0f"/><stop offset=".9" stop-color="#121212"/><stop offset=".91" stop-color="#0f0f0f"/><stop offset=".929" stop-color="#010101"/><stop offset=".933" stop-color="#000000"/><stop offset="1" stop-color="#000000"/></linearGradient>
<linearGradient id="c3"><stop offset="0" stop-color="#000000"/><stop offset=".09" stop-color="#000000"/><stop offset=".11" stop-color="#0c0c0c"/><stop offset=".124" stop-color="#101010"/><stop offset=".133" stop-color="#0d0d0d"/><stop offset=".152" stop-color="#000000"/><stop offset=".157" stop-color="#000000"/><stop offset=".21" stop-color="#000000"/><stop offset=".224" stop-color="#060606"/><stop offset=".238" stop-color="#080808"/><stop offset=".267" stop-color="#000000"/><stop offset=".505" stop-color="#000000"/><stop offset=".51" stop-color="#010101"/><stop offset=".529" stop-color="#181818"/><stop offset=".538" stop-color="#1b1b1b"/><stop offset=".548" stop-color="#181818"/><stop offset=".567" stop-color="#010101"/><stop offset=".571" stop-color="#000000"/><stop offset=".862" stop-color="#000000"/><stop offset=".867" stop-color="#010101"/><stop offset=".886" stop-color="#151515"/><stop offset=".9" stop-color="#1a1a1a"/><stop offset=".914" stop-color="#151515"/><stop offset=".933" stop-color="#010101"/><stop offset=".938" stop-color="#000000"/><stop offset="1" stop-color="#000000"/></linearGradient>
<linearGradient id="c4"><stop offset="0" stop-color="#000000"/><stop offset=".09" stop-color="#000000"/><stop offset=".11" stop-color="#0e0e0e"/><stop offset=".124" stop-color="#121212"/><stop offset=".138" stop-color="#0e0e0e"/><stop offset=".157" stop-color="#000000"/><stop offset=".21" stop-color="#000000"/><stop offset=".224" stop-color="#070707"/><stop offset=".238" stop-color="#0b0b0b"/><stop offset=".252" stop-color="#080808"/><stop offset=".271" stop-color="#000000"/><stop offset=".505" stop-color="#000000"/><stop offset=".524" stop-color="#1a1a1a"/><stop offset=".529" stop-color="#1e1e1e"/><stop offset=".538" stop-color="#212121"/><stop offset=".548" stop-color="#1e1e1e"/><stop offset=".552" stop-color="#1a1a1a"/><stop offset=".571" stop-color="#000000"/><stop offset=".862" stop-color="#000000"/><stop offset=".886" stop-color="#1b1b1b"/><stop offset=".9" stop-color="#202020"/><stop offset=".914" stop-color="#1b1b1b"/><stop offset=".938" stop-color="#000000"/><stop offset="1" stop-color="#000000"/></linearGradient>
<linearGradient id="c5"><stop offset="0" stop-color="#000000"/><stop offset=".09" stop-color="#000000"/><stop offset=".11" stop-color="#0f0f0f"/><stop offset=".124" stop-color="#141414"/><stop offset=".138" stop-color="#101010"/><stop offset=".157" stop-color="#010101"/><stop offset=".162" stop-color="#000000"/><stop offset=".21" stop-color="#000000"/><stop offset=".229" stop-color="#0a0a0a"/><stop offset=".243" stop-color="#0d0d0d"/><stop offset=".257" stop-color="#0a0a0a"/><stop offset=".276" stop-color="#000000"/><stop offset=".5" stop-color="#000000"/><stop offset=".505" stop-color="#010101"/><stop offset=".524" stop-color="#1e1e1e"/><stop offset=".529" stop-color="#212121"/><stop offset=".538" stop-color="#232323"/><stop offset=".548" stop-color="#212121"/><stop offset=".552" stop-color="#1e1e1e"/><stop offset=".571" stop-color="#010101"/><stop offset=".576" stop-color="#000000"/><stop offset=".857" stop-color="#000000"/><stop offset=".862" stop-color="#020202"/><stop offset=".881" stop-color="#1b1b1b"/><stop offset=".89" stop-color="#212121"/><stop offset=".9" stop-color="#232323"/><stop offset=".91" stop-color="#212121"/><stop offset=".919" stop-color="#1b1b1b"/><stop offset=".938" stop-color="#020202"/><stop offset=".943" stop-color="#000000"/><stop offset="1" stop-color="#000000"/></linearGradient>
<linearGradient id="c6"><stop offset="0" stop-color="#000000"/><stop offset=".09" stop-color="#000000"/><stop offset=".11" stop-color="#101010"/><stop offset=".124" stop-color="#151515"/><stop offset=".138" stop-color="#131313"/><stop offset=".162" stop-color="#000000"/><stop offset=".21" stop-color="#000000"/><stop offset=".229" stop-color="#0b0b0b"/><stop offset=".243" stop-color="#0f0f0f"/><stop offset=".257" stop-color="#0d0d0d"/><stop offset=".281" stop-color="#000000"/><stop offset=".5" stop-color="#000000"/><stop offset=".505" stop-color="#010101"/><stop offset=".519" stop-color="#191919"/><stop offset=".524" stop-color="#1f1f1f"/><stop offset=".529" stop-color="#222222"/><stop offset=".538" stop-color="#242424"/><stop offset=".548" stop-color="#222222"/><stop offset=".552" stop-color="#1f1f1f"/><stop offset=".557" stop-color="#191919"/><stop offset=".571" stop-color="#010101"/><stop offset=".576" stop-color="#000000"/><stop offset=".857" stop-color="#000000"/><stop offset=".862" stop-color="#040404"/><stop offset=".881" stop-color="#1d1d1d"/><stop offset=".89" stop-color="#232323"/><stop offset=".9" stop-color="#242424"/><stop offset=".91" stop-color="#232323"/><stop offset=".919" stop-color="#1d1d1d"/><stop offset=".938" stop-color="#040404"/><stop offset=".943" stop-color="#000000"/><stop offset="1" stop-color="#000000"/></linearGradient>
<linearGradient id="c7"><stop offset="0" stop-color="#000000"/><stop offset=".09" stop-color="#000000"/><stop offset=".11" stop-color="#111111"/><stop offset=".119" stop-color="#161616"/><stop offset=".129" stop-color="#171717"/><stop offset=".143" stop-color="#121212"/><stop offset=".162" stop-color="#000000"/><stop offset=".167" stop-color="#000000"/><stop offset=".21" stop-color="#000000"/><stop offset=".233" stop-color="#0e0e0e"/><stop offset=".248" stop-color="#111111"/><stop offset=".262" stop-color="#0e0e0e"/><stop offset=".286" stop-color="#000000"/><stop offset=".5" stop-color="#000000"/><stop offset=".505" stop-color="#010101"/><stop offset=".524" stop-color="#1e1e1e"/><stop offset=".529" stop-color="#212121"/><stop offset=".538" stop-color="#232323"/><stop offset=".548" stop-color="#212121"/><stop offset=".552" stop-color="#1e1e1e"/><stop offset=".571" stop-color="#010101"/><stop offset=".576" stop-color="#000000"/><stop offset=".857" stop-color="#000000"/><stop offset=".862" stop-color="#040404"/><stop offset=".881" stop-color="#1d1d1d"/><stop offset=".89" stop-color="#232323"/><stop offset=".9" stop-color="#242424"/><stop offset=".91" stop-color="#232323"/><stop offset=".919" stop-color="#1d1d1d"/><stop offset=".943" stop-color="#000000"/><stop offset="1" stop-color="#000000"/></linearGradient>
<linearGradient id="c8"><stop offset="0" stop-color="#000000"/><stop offset=".09" stop-color="#000000"/><stop offset=".11" stop-color="#121212"/><stop offset=".119" stop-color="#171717"/><stop offset=".129" stop-color="#181818"/><stop offset=".143" stop-color="#141414"/><stop offset=".162" stop-color="#020202"/><stop offset=".167" stop-color="#000000"/><stop offset=".21" stop-color="#000000"/><stop offset=".233" stop-color="#0f0f0f"/><stop offset=".248" stop-color="#131313"/><stop offset=".267" stop-color="#0f0f0f"/><stop offset=".29" stop-color="#000000"/><stop offset=".505" stop-color="#000000"/><stop offset=".524" stop-color="#1a1a1a"/><stop offset=".529" stop-color="#1e1e1e"/><stop offset=".538" stop-color="#212121"/><stop offset=".548" stop-color="#1e1e1e"/><stop offset=".552" stop-color="#1a1a1a"/><stop offset=".571" stop-color="#000000"/><stop offset=".857" stop-color="#000000"/><stop offset=".862" stop-color="#020202"/><stop offset=".881" stop-color="#1b1b1b"/><stop offset=".89" stop-color="#212121"/><stop offset=".9" stop-color="#232323"/><stop offset=".91" stop-color="#222222"/><stop offset=".919" stop-color="#1c1c1c"/><stop offset=".943" stop-color="#000000"/><stop offset="1" stop-color="#000000"/></linearGradient>
<linearGradient id="c9"><stop offset="0" stop-color="#000000"/><stop offset=".09" stop-color="#000000"/><stop offset=".114" stop-color="#151515"/><stop offset=".129" stop-color="#191919"/><stop offset=".138" stop-color="#171717"/><stop offset=".148" stop-color="#121212"/><stop offset=".167" stop-color="#000000"/><stop offset=".21" stop-color="#000000"/><stop offset=".214" stop-color="#010101"/><stop offset=".238" stop-color="#121212"/><stop offset=".252" stop-color="#151515"/><stop offset=".267" stop-color="#121212"/><stop offset=".295" stop-color="#000000"/><stop offset=".505" stop-color="#000000"/><stop offset=".51" stop-color="#010101"/><stop offset=".529" stop-color="#181818"/><stop offset=".538" stop-color="#1b1b1b"/><stop offset=".548" stop-color="#181818"/><stop offset=".567" stop-color="#010101"/><stop offset=".571" stop-color="#000000"/><stop offset=".862" stop-color="#000000"/><stop offset=".886" stop-color="#1b1b1b"/><stop offset=".9" stop-color="#202020"/><stop offset=".91" stop-color="#1e1e1e"/><stop offset=".919" stop-color="#191919"/><stop offset=".943" stop-color="#000000"/><stop offset="1" stop-color="#000000"/></linearGradient>
<linearGradient id="c10"><stop offset="0" stop-color="#000000"/><stop offset=".09" stop-color="#000000"/><stop offset=".114" stop-color="#161616"/><stop offset=".129" stop-color="#191919"/><stop offset=".138" stop-color="#181818"/><stop offset=".148" stop-color="#141414"/><stop offset=".167" stop-color="#010101"/><stop offset=".171" stop-color="#000000"/><stop offset=".214" stop-color="#000000"/><stop offset=".238" stop-color="#121212"/><stop offset=".257" stop-color="#161616"/><stop offset=".271" stop-color="#121212"/><stop offset=".295" stop-color="#010101"/><stop offset=".3" stop-color="#000000"/><stop offset=".51" stop-color="#000000"/><stop offset=".514" stop-color="#010101"/><stop offset=".529" stop-color="#0e0e0e"/><stop offset=".538" stop-color="#121212"/><stop offset=".548" stop-color="#0f0f0f"/><stop offset=".567" stop-color="#000000"/><stop offset=".862" stop-color="#000000"/><stop offset=".867" stop-color="#010101"/><stop offset=".886" stop-color="#151515"/><stop offset=".9" stop-color="#1a1a1a"/><stop offset=".91" stop-color="#191919"/><stop offset=".919" stop-color="#141414"/><stop offset=".943" stop-color="#010101"/><stop offset="1" stop-color="#000000"/></linearGradient>
<linearGradient id="c11"><stop offset="0" stop-color="#000000"/><stop offset=".09" stop-color="#000000"/><stop offset=".114" stop-color="#161616"/><stop offset=".129" stop-color="#191919"/><stop offset=".138" stop-color="#191919"/><stop offset=".148" stop-color="#151515"/><stop offset=".167" stop-color="#020202"/><stop offset=".171" stop-color="#000000"/><stop offset=".214" stop-color="#000000"/><stop offset=".238" stop-color="#121212"/><stop offset=".257" stop-color="#171717"/><stop offset=".276" stop-color="#131313"/><stop offset=".3" stop-color="#000000"/><stop offset=".367" stop-color="#010101"/><stop offset=".376" stop-color="#0b0b0b"/><stop offset=".386" stop-color="#0f0f0f"/><stop offset=".395" stop-color="#0b0b0b"/><stop offset=".405" stop-color="#010101"/><stop offset=".41" stop-color="#000000"/><stop offset=".519" stop-color="#000000"/><stop offset=".538" stop-color="#080808"/><stop offset=".548" stop-color="#070707"/><stop offset=".567" stop-color="#000000"/><stop offset=".867" stop-color="#000000"/><stop offset=".871" stop-color="#010101"/><stop offset=".89" stop-color="#0f0f0f"/><stop offset=".905" stop-color="#121212"/><stop offset=".924" stop-color="#0e0e0e"/><stop offset=".952" stop-color="#000000"/><stop offset="1" stop-color="#000000"/></linearGradient>
<linearGradient id="c12"><stop offset="0" stop-color="#000000"/><stop offset=".09" stop-color="#000000"/><stop offset=".095" stop-color="#020202"/><stop offset=".114" stop-color="#151515"/><stop offset=".124" stop-color="#191919"/><stop offset=".133" stop-color="#191919"/><stop offset=".148" stop-color="#161616"/><stop offset=".171" stop-color="#000000"/><stop offset=".214" stop-color="#000000"/><stop offset=".219" stop-color="#020202"/><stop offset=".243" stop-color="#141414"/><stop offset=".262" stop-color="#181818"/><stop offset=".281" stop-color="#131313"/><stop offset=".305" stop-color="#000000"/><stop offset=".362" stop-color="#010101"/><stop offset=".376" stop-color="#151515"/><stop offset=".386" stop-color="#181818"/><stop offset=".395" stop-color="#151515"/><stop offset=".41" stop-color="#010101"/><stop offset=".414" stop-color="#000000"/><stop offset=".533" stop-color="#000000"/><stop offset=".571" stop-color="#050505"/><stop offset=".595" stop-color="#000000"/><stop offset=".662" stop-color="#000000"/><stop offset=".676" stop-color="#070707"/><stop offset=".686" stop-color="#090909"/><stop offset=".695" stop-color="#070707"/><stop offset=".71" stop-color="#000000"/><stop offset=".876" stop-color="#000000"/><stop offset=".895" stop-color="#080808"/><stop offset=".929" stop-color="#0c0c0c"/><stop offset=".943" stop-color="#090909"/><stop offset=".957" stop-color="#000000"/><stop offset="1" stop-color="#000000"/></linearGradient>
<linearGradient id="c13"><stop offset="0" stop-color="#000000"/><stop offset=".09" stop-color="#000000"/><stop offset=".095" stop-color="#010101"/><stop offset=".114" stop-color="#151515"/><stop offset=".124" stop-color="#191919"/><stop offset=".133" stop-color="#191919"/><stop offset=".143" stop-color="#191919"/><stop offset=".152" stop-color="#141414"/><stop offset=".171" stop-color="#000000"/><stop offset=".219" stop-color="#000000"/><stop offset=".243" stop-color="#141414"/><stop offset=".262" stop-color="#191919"/><stop offset=".281" stop-color="#151515"/><stop offset=".305" stop-color="#020202"/><stop offset=".31" stop-color="#000000"/><stop offset=".357" stop-color="#000000"/><stop offset=".362" stop-color="#030303"/><stop offset=".371" stop-color="#131313"/><stop offset=".376" stop-color="#171717"/><stop offset=".386" stop-color="#1a1a1a"/><stop offset=".395" stop-color="#171717"/><stop offset=".4" stop-color="#131313"/><stop offset=".41" stop-color="#030303"/><stop offset=".414" stop-color="#000000"/><stop offset=".538" stop-color="#000000"/><stop offset=".562" stop-color="#0d0d0d"/><stop offset=".576" stop-color="#111111"/><stop offset=".59" stop-color="#0d0d0d"/><stop offset=".61" stop-color="#000000"/><stop offset=".652" stop-color="#000000"/><stop offset=".671" stop-color="#0f0f0f"/><stop offset=".686" stop-color="#141414"/><stop offset=".7" stop-color="#0f0f0f"/><stop offset=".719" stop-color="#000000"/><stop offset=".895" stop-color="#000000"/><stop offset=".933" stop-color="#101010"/><stop offset=".948" stop-color="#0c0c0c"/><stop offset=".962" stop-color="#000000"/><stop offset="1" stop-color="#000000"/></linearGradient>
<linearGradient id="c14"><stop offset="0" stop-color="#000000"/><stop offset=".095" stop-color="#010101"/><stop offset=".114" stop-color="#141414"/><stop offset=".124" stop-color="#191919"/><stop offset=".133" stop-color="#191919"/><stop offset=".143" stop-color="#191919"/><stop offset=".152" stop-color="#151515"/><stop offset=".171" stop-color="#010101"/><stop offset=".176" stop-color="#000000"/><stop offset=".219" stop-color="#000000"/><stop offset=".248" stop-color="#161616"/><stop offset=".267" stop-color="#191919"/><stop offset=".286" stop-color="#151515"/><stop offset=".31" stop-color="#010101"/><stop offset=".314" stop-color="#000000"/><stop offset=".362" stop-color="#010101"/><stop offset=".376" stop-color="#151515"/><stop offset=".386" stop-color="#181818"/><stop offset=".395" stop-color="#151515"/><stop offset=".41" stop-color="#010101"/><stop offset=".414" stop-color="#000000"/><stop offset=".533" stop-color="#000000"/><stop offset=".562" stop-color="#191919"/><stop offset=".576" stop-color="#1e1e1e"/><stop offset=".59" stop-color="#191919"/><stop offset=".614" stop-color="#020202"/><stop offset=".619" stop-color="#000000"/><stop offset=".648" stop-color="#000000"/><stop offset=".671" stop-color="#181818"/><stop offset=".686" stop-color="#1d1d1d"/><stop offset=".7" stop-color="#181818"/><stop offset=".724" stop-color="#000000"/><stop offset=".905" stop-color="#000000"/><stop offset=".929" stop-color="#121212"/><stop offset=".938" stop-color="#141414"/><stop offset=".948" stop-color="#111111"/><stop offset=".967" stop-color="#000000"/><stop offset="1" stop-color="#000000"/></linearGradient>
<linearGradient id="c15"><stop offset="0" stop-color="#000000"/><stop offset=".095" stop-color="#000000"/><stop offset=".114" stop-color="#141414"/><stop offset=".124" stop-color="#181818"/><stop offset=".133" stop-color="#191919"/><stop offset=".143" stop-color="#191919"/><stop offset=".152" stop-color="#151515"/><stop offset=".171" stop-color="#020202"/><stop offset=".176" stop-color="#000000"/><stop offset=".224" stop-color="#010101"/><stop offset=".248" stop-color="#151515"/><stop offset=".267" stop-color="#191919"/><stop offset=".281" stop-color="#181818"/><stop offset=".29" stop-color="#141414"/><stop offset=".314" stop-color="#000000"/><stop offset=".367" stop-color="#010101"/><stop offset=".376" stop-color="#0b0b0b"/><stop offset=".386" stop-color="#0f0f0f"/><stop offset=".395" stop-color="#0b0b0b"/><stop offset=".405" stop-color="#010101"/><stop offset=".41" stop-color="#000000"/><stop offset=".529" stop-color="#000000"/><stop offset=".533" stop-color="#030303"/><stop offset=".557" stop-color="#202020"/><stop offset=".567" stop-color="#272727"/><stop offset=".576" stop-color="#292929"/><stop offset=".586" stop-color="#272727"/><stop offset=".595" stop-color="#202020"/><stop offset=".619" stop-color="#020202"/><stop offset=".624" stop-color="#000000"/><stop offset=".648" stop-color="#020202"/><stop offset=".667" stop-color="#1a1a1a"/><stop offset=".676" stop-color="#212121"/><stop offset=".686" stop-color="#222222"/><stop offset=".7" stop-color="#1e1e1e"/><stop offset=".71" stop-color="#151515"/><stop offset=".724" stop-color="#020202"/><stop offset=".729" stop-color="#000000"/><stop offset=".905" stop-color="#000000"/><stop offset=".91" stop-color="#020202"/><stop offset=".924" stop-color="#121212"/><stop offset=".938" stop-color="#181818"/><stop offset=".952" stop-color="#121212"/><stop offset=".967" stop-color="#010101"/><stop offset="1" stop-color="#000000"/></linearGradient>
<linearGradient id="c16"><stop offset="0" stop-color="#000000"/><stop offset=".095" stop-color="#000000"/><stop offset=".119" stop-color="#161616"/><stop offset=".133" stop-color="#191919"/><stop offset=".152" stop-color="#161616"/><stop offset=".171" stop-color="#030303"/><stop offset=".176" stop-color="#000000"/><stop offset=".224" stop-color="#000000"/><stop offset=".252" stop-color="#161616"/><stop offset=".271" stop-color="#191919"/><stop offset=".29" stop-color="#161616"/><stop offset=".314" stop-color="#020202"/><stop offset=".319" stop-color="#000000"/><stop offset=".524" stop-color="#000000"/><stop offset=".529" stop-color="#010101"/><stop offset=".557" stop-color="#282828"/><stop offset=".567" stop-color="#2e2e2e"/><stop offset=".576" stop-color="#303030"/><stop offset=".586" stop-color="#2e2e2e"/><stop offset=".595" stop-color="#282828"/><stop offset=".605" stop-color="#1c1c1c"/><stop offset=".619" stop-color="#070707"/><stop offset=".624" stop-color="#010101"/><stop offset=".629" stop-color="#000000"/><stop offset=".643" stop-color="#000000"/><stop offset=".648" stop-color="#040404"/><stop offset=".667" stop-color="#1d1d1d"/><stop offset=".676" stop-color="#232323"/><stop offset=".686" stop-color="#242424"/><stop offset=".695" stop-color="#232323"/><stop offset=".705" stop-color="#1d1d1d"/><stop offset=".724" stop-color="#040404"/><stop offset=".729" stop-color="#000000"/><stop offset=".752" stop-color="#000000"/><stop offset=".771" stop-color="#080808"/><stop offset=".781" stop-color="#090909"/><stop offset=".79" stop-color="#080808"/><stop offset=".81" stop-color="#000000"/><stop offset=".905" stop-color="#000000"/><stop offset=".924" stop-color="#151515"/><stop offset=".938" stop-color="#1b1b1b"/><stop offset=".952" stop-color="#151515"/><stop offset=".967" stop-color="#030303"/><stop offset=".971" stop-color="#000000"/><stop offset="1" stop-color="#000000"/></linearGradient>
<linearGradient id="c17"><stop offset="0" stop-color="#000000"/><stop offset=".095" stop-color="#000000"/><stop offset=".1" stop-color="#020202"/><stop offset=".119" stop-color="#151515"/><stop offset=".129" stop-color="#191919"/><stop offset=".138" stop-color="#191919"/><stop offset=".152" stop-color="#161616"/><stop offset=".176" stop-color="#000000"/><stop offset=".224" stop-color="#000000"/><stop offset=".229" stop-color="#010101"/><stop offset=".252" stop-color="#151515"/><stop offset=".271" stop-color="#191919"/><stop offset=".286" stop-color="#191919"/><stop offset=".295" stop-color="#151515"/><stop offset=".319" stop-color="#000000"/><stop offset=".524" stop-color="#000000"/><stop offset=".529" stop-color="#030303"/><stop offset=".548" stop-color="#212121"/><stop offset=".557" stop-color="#2c2c2c"/><stop offset=".567" stop-color="#313131"/><stop offset=".576" stop-color="#333333"/><stop offset=".586" stop-color="#313131"/><stop offset=".595" stop-color="#2c2c2c"/><stop offset=".605" stop-color="#212121"/><stop offset=".624" stop-color="#030303"/><stop offset=".629" stop-color="#000000"/><stop offset=".643" stop-color="#000000"/><stop offset=".648" stop-color="#040404"/><stop offset=".667" stop-color="#1d1d1d"/><stop offset=".676" stop-color="#232323"/><stop offset=".686" stop-color="#242424"/><stop offset=".7" stop-color="#212121"/><stop offset=".71" stop-color="#181818"/><stop offset=".724" stop-color="#050505"/><stop offset=".729" stop-color="#010101"/><stop offset=".733" stop-color="#000000"/><stop offset=".743" stop-color="#010101"/><stop offset=".767" stop-color="#131313"/><stop offset=".781" stop-color="#161616"/><stop offset=".795" stop-color="#131313"/><stop offset=".819" stop-color="#010101"/><stop offset=".824" stop-color="#000000"/><stop offset=".905" stop-color="#000000"/><stop offset=".924" stop-color="#171717"/><stop offset=".938" stop-color="#1c1c1c"/><stop offset=".952" stop-color="#171717"/><stop offset=".971" stop-color="#000000"/><stop offset="1" stop-color="#000000"/></linearGradient>
<linearGradient id="c18"><stop offset="0" stop-color="#000000"/><stop offset=".1" stop-color="#000000"/><stop offset=".119" stop-color="#131313"/><stop offset=".129" stop-color="#181818"/><stop offset=".138" stop-color="#191919"/><stop offset=".152" stop-color="#151515"/><stop offset=".176" stop-color="#000000"/><stop offset=".229" stop-color="#000000"/><stop offset=".257" stop-color="#161616"/><stop offset=".276" stop-color="#1a1a1a"/><stop offset=".295" stop-color="#161616"/><stop offset=".324" stop-color="#000000"/><stop offset=".381" stop-color="#000000"/><stop offset=".39" stop-color="#030303"/><stop offset=".4" stop-color="#000000"/><stop offset=".524" stop-color="#000000"/><stop offset=".529" stop-color="#040404"/><stop offset=".548" stop-color="#222222"/><stop offset=".557" stop-color="#2e2e2e"/><stop offset=".567" stop-color="#323232"/><stop offset=".576" stop-color="#333333"/><stop offset=".586" stop-color="#323232"/><stop offset=".595" stop-color="#2e2e2e"/><stop offset=".605" stop-color="#222222"/><stop offset=".624" stop-color="#040404"/><stop offset=".629" stop-color="#000000"/><stop offset=".643" stop-color="#000000"/><stop offset=".648" stop-color="#020202"/><stop offset=".667" stop-color="#1a1a1a"/><stop offset=".676" stop-color="#212121"/><stop offset=".686" stop-color="#222222"/><stop offset=".7" stop-color="#1e1e1e"/><stop offset=".724" stop-color="#040404"/><stop offset=".729" stop-color="#020202"/><stop offset=".738" stop-color="#030303"/><stop offset=".757" stop-color="#151515"/><stop offset=".767" stop-color="#1c1c1c"/><stop offset=".781" stop-color="#1f1f1f"/><stop offset=".79" stop-color="#1e1e1e"/><stop offset=".8" stop-color="#191919"/><stop offset=".829" stop-color="#000000"/><stop offset=".905" stop-color="#010101"/><stop offset=".924" stop-color="#181818"/><stop offset=".938" stop-color="#1c1c1c"/><stop offset=".952" stop-color="#181818"/><stop offset=".971" stop-color="#000000"/><stop offset="1" stop-color="#000000"/></linearGradient>
<linearGradient id="c19"><stop offset="0" stop-color="#000000"/><stop offset=".1" stop-color="#000000"/><stop offset=".124" stop-color="#151515"/><stop offset=".138" stop-color="#181818"/><stop offset=".148" stop-color="#171717"/><stop offset=".157" stop-color="#121212"/><stop offset=".176" stop-color="#000000"/><stop offset=".233" stop-color="#000000"/><stop offset=".257" stop-color="#151515"/><stop offset=".267" stop-color="#191919"/><stop offset=".281" stop-color="#191919"/><stop offset=".3" stop-color="#151515"/><stop offset=".324" stop-color="#010101"/><stop offset=".329" stop-color="#000000"/><stop offset=".371" stop-color="#010101"/><stop offset=".381" stop-color="#0d0d0d"/><stop offset=".39" stop-color="#121212"/><stop offset=".4" stop-color="#0d0d0d"/><stop offset=".41" stop-color="#010101"/><stop offset=".414" stop-color="#000000"/><stop offset=".524" stop-color="#000000"/><stop offset=".529" stop-color="#030303"/><stop offset=".548" stop-color="#212121"/><stop offset=".557" stop-color="#2c2c2c"/><stop offset=".567" stop-color="#313131"/><stop offset=".576" stop-color="#333333"/><stop offset=".586" stop-color="#313131"/><stop offset=".595" stop-color="#2c2c2c"/><stop offset=".605" stop-color="#212121"/><stop offset=".624" stop-color="#030303"/><stop offset=".629" stop-color="#000000"/><stop offset=".648" stop-color="#000000"/><stop offset=".671" stop-color="#181818"/><stop offset=".686" stop-color="#1d1d1d"/><stop offset=".7" stop-color="#181818"/><stop offset=".719" stop-color="#050505"/><stop offset=".729" stop-color="#010101"/><stop offset=".738" stop-color="#060606"/><stop offset=".762" stop-color="#1e1e1e"/><stop offset=".771" stop-color="#222222"/><stop offset=".781" stop-color="#232323"/><stop offset=".8" stop-color="#1e1e1e"/><stop offset=".824" stop-color="#090909"/><stop offset=".838" stop-color="#020202"/><stop offset=".862" stop-color="#030303"/><stop offset=".9" stop-color="#000000"/><stop offset=".905" stop-color="#030303"/><stop offset=".924" stop-color="#181818"/><stop offset=".938" stop-color="#1c1c1c"/><stop offset=".952" stop-color="#181818"/><stop offset=".971" stop-color="#000000"/><stop offset="1" stop-color="#000000"/></linearGradient>
<linearGradient id="c20"><stop offset="0" stop-color="#000000"/><stop offset=".1" stop-color="#000000"/><stop offset=".105" stop-color="#010101"/><stop offset=".124" stop-color="#131313"/><stop offset=".138" stop-color="#171717"/><stop offset=".148" stop-color="#161616"/><stop offset=".157" stop-color="#121212"/><stop offset=".176" stop-color="#000000"/><stop offset=".233" stop-color="#000000"/><stop offset=".238" stop-color="#020202"/><stop offset=".262" stop-color="#161616"/><stop offset=".281" stop-color="#191919"/><stop offset=".3" stop-color="#161616"/><stop offset=".329" stop-color="#000000"/><stop offset=".362" stop-color="#000000"/><stop offset=".367" stop-color="#010101"/><stop offset=".381" stop-color="#191919"/><stop offset=".39" stop-color="#1e1e1e"/><stop offset=".4" stop-color="#191919"/><stop offset=".414" stop-color="#020202"/><stop offset=".419" stop-color="#000000"/><stop offset=".524" stop-color="#000000"/><stop offset=".529" stop-color="#010101"/><stop offset=".557" stop-color="#282828"/><stop offset=".567" stop-color="#2e2e2e"/><stop offset=".576" stop-color="#303030"/><stop offset=".586" stop-color="#2e2e2e"/><stop offset=".595" stop-color="#282828"/><stop offset=".624" stop-color="#010101"/><stop offset=".629" stop-color="#000000"/><stop offset=".652" stop-color="#000000"/><stop offset=".671" stop-color="#0f0f0f"/><stop offset=".686" stop-color="#141414"/><stop offset=".7" stop-color="#0f0f0f"/><stop offset=".719" stop-color="#000000"/><stop offset=".729" stop-color="#000000"/><stop offset=".738" stop-color="#060606"/><stop offset=".752" stop-color="#181818"/><stop offset=".762" stop-color="#202020"/><stop offset=".771" stop-color="#252525"/><stop offset=".781" stop-color="#252525"/><stop offset=".8" stop-color="#212121"/><stop offset=".824" stop-color="#0d0d0d"/><stop offset=".833" stop-color="#090909"/><stop offset=".867" stop-color="#0b0b0b"/><stop offset=".89" stop-color="#030303"/><stop offset=".9" stop-color="#020202"/><stop offset=".905" stop-color="#050505"/><stop offset=".924" stop-color="#181818"/><stop offset=".938" stop-color="#1c1c1c"/><stop offset=".952" stop-color="#171717"/><stop offset=".971" stop-color="#000000"/><stop offset="1" stop-color="#000000"/></linearGradient>
<linearGradient id="c21"><stop offset="0" stop-color="#000000"/><stop offset=".105" stop-color="#000000"/><stop offset=".124" stop-color="#111111"/><stop offset=".138" stop-color="#161616"/><stop offset=".148" stop-color="#151515"/><stop offset=".157" stop-color="#111111"/><stop offset=".176" stop-color="#000000"/><stop offset=".238" stop-color="#000000"/><stop offset=".262" stop-color="#141414"/><stop offset=".271" stop-color="#181818"/><stop offset=".286" stop-color="#191919"/><stop offset=".305" stop-color="#151515"/><stop offset=".329" stop-color="#010101"/><stop offset=".362" stop-color="#000000"/><stop offset=".367" stop-color="#060606"/><stop offset=".376" stop-color="#191919"/><stop offset=".381" stop-color="#202020"/><stop offset=".39" stop-color="#232323"/><stop offset=".4" stop-color="#202020"/><stop offset=".405" stop-color="#191919"/><stop offset=".414" stop-color="#060606"/><stop offset=".419" stop-color="#000000"/><stop offset=".443" stop-color="#000000"/><stop offset=".457" stop-color="#080808"/><stop offset=".471" stop-color="#0c0c0c"/><stop offset=".486" stop-color="#080808"/><stop offset=".5" stop-color="#000000"/><stop offset=".529" stop-color="#000000"/><stop offset=".533" stop-color="#030303"/><stop offset=".557" stop-color="#202020"/><stop offset=".567" stop-color="#272727"/><stop offset=".576" stop-color="#292929"/><stop offset=".586" stop-color="#272727"/><stop offset=".595" stop-color="#202020"/><stop offset=".619" stop-color="#030303"/><stop offset=".624" stop-color="#000000"/><stop offset=".662" stop-color="#000000"/><stop offset=".676" stop-color="#070707"/><stop offset=".686" stop-color="#090909"/><stop offset=".695" stop-color="#070707"/><stop offset=".71" stop-color="#000000"/><stop offset=".733" stop-color="#010101"/><stop offset=".762" stop-color="#212121"/><stop offset=".771" stop-color="#272727"/><stop offset=".781" stop-color="#282828"/><stop offset=".795" stop-color="#242424"/><stop offset=".819" stop-color="#121212"/><stop offset=".829" stop-color="#0e0e0e"/><stop offset=".867" stop-color="#121212"/><stop offset=".9" stop-color="#060606"/><stop offset=".91" stop-color="#0a0a0a"/><stop offset=".924" stop-color="#171717"/><stop offset=".938" stop-color="#1b1b1b"/><stop offset=".952" stop-color="#151515"/><stop offset=".967" stop-color="#030303"/><stop offset=".971" stop-color="#000000"/><stop offset="1" stop-color="#000000"/></linearGradient>
<linearGradient id="c22"><stop offset="0" stop-color="#000000"/><stop offset=".105" stop-color="#000000"/><stop offset=".11" stop-color="#020202"/><stop offset=".129" stop-color="#111111"/><stop offset=".143" stop-color="#151515"/><stop offset=".157" stop-color="#101010"/><stop offset=".176" stop-color="#000000"/><stop offset=".238" stop-color="#000000"/><stop offset=".243" stop-color="#010101"/><stop offset=".267" stop-color="#151515"/><stop offset=".286" stop-color="#191919"/><stop offset=".305" stop-color="#161616"/><stop offset=".333" stop-color="#000000"/><stop offset=".362" stop-color="#000000"/><stop offset=".367" stop-color="#070707"/><stop offset=".376" stop-color="#1b1b1b"/><stop offset=".381" stop-color="#212121"/><stop offset=".39" stop-color="#242424"/><stop offset=".4" stop-color="#212121"/><stop offset=".405" stop-color="#1b1b1b"/><stop offset=".419" stop-color="#000000"/><stop offset=".433" stop-color="#000000"/><stop offset=".457" stop-color="#151515"/><stop offset=".471" stop-color="#1a1a1a"/><stop offset=".486" stop-color="#151515"/><stop offset=".51" stop-color="#000000"/><stop offset=".533" stop-color="#000000"/><stop offset=".538" stop-color="#020202"/><stop offset=".562" stop-color="#191919"/><stop offset=".576" stop-color="#1e1e1e"/><stop offset=".59" stop-color="#191919"/><stop offset=".619" stop-color="#000000"/><stop offset=".733" stop-color="#000000"/><stop offset=".762" stop-color="#202020"/><stop offset=".771" stop-color="#262626"/><stop offset=".781" stop-color="#282828"/><stop offset=".79" stop-color="#252525"/><stop offset=".814" stop-color="#151515"/><stop offset=".824" stop-color="#121212"/><stop offset=".852" stop-color="#171717"/><stop offset=".867" stop-color="#181818"/><stop offset=".905" stop-color="#090909"/><stop offset=".929" stop-color="#171717"/><stop offset=".938" stop-color="#181818"/><stop offset=".952" stop-color="#121212"/><stop offset=".967" stop-color="#010101"/><stop offset="1" stop-color="#000000"/></linearGradient>
<linearGradient id="c23"><stop offset="0" stop-color="#000000"/><stop offset=".11" stop-color="#000000"/><stop offset=".129" stop-color="#0f0f0f"/><stop offset=".143" stop-color="#131313"/><stop offset=".157" stop-color="#0f0f0f"/><stop offset=".176" stop-color="#000000"/><stop offset=".243" stop-color="#000000"/><stop offset=".271" stop-color="#151515"/><stop offset=".29" stop-color="#191919"/><stop offset=".31" stop-color="#141414"/><stop offset=".333" stop-color="#000000"/><stop offset=".362" stop-color="#000000"/><stop offset=".367" stop-color="#040404"/><stop offset=".376" stop-color="#171717"/><stop offset=".381" stop-color="#1d1d1d"/><stop offset=".39" stop-color="#222222"/><stop offset=".4" stop-color="#1d1d1d"/><stop offset=".414" stop-color="#060606"/><stop offset=".419" stop-color="#010101"/><stop offset=".424" stop-color="#000000"/><stop offset=".429" stop-color="#020202"/><stop offset=".433" stop-color="#060606"/><stop offset=".457" stop-color="#222222"/><stop offset=".471" stop-color="#282828"/><stop offset=".486" stop-color="#222222"/><stop offset=".514" stop-color="#010101"/><stop offset=".519" stop-color="#000000"/><stop offset=".543" stop-color="#000000"/><stop offset=".562" stop-color="#0d0d0d"/><stop offset=".576" stop-color="#111111"/><stop offset=".59" stop-color="#0f0f0f"/><stop offset=".624" stop-color="#000000"/><stop offset=".729" stop-color="#000000"/><stop offset=".738" stop-color="#060606"/><stop offset=".767" stop-color="#222222"/><stop offset=".781" stop-color="#262626"/><stop offset=".819" stop-color="#151515"/><stop offset=".852" stop-color="#1c1c1c"/><stop offset=".867" stop-color="#1c1c1c"/><stop offset=".881" stop-color="#181818"/><stop offset=".9" stop-color="#0c0c0c"/><stop offset=".91" stop-color="#0b0b0b"/><stop offset=".929" stop-color="#131313"/><stop offset=".938" stop-color="#141414"/><stop offset=".948" stop-color="#111111"/><stop offset=".967" stop-color="#000000"/><stop offset="1" stop-color="#000000"/></linearGradient>
<linearGradient id="c24"><stop offset="0" stop-color="#000000"/><stop offset=".11" stop-color="#000000"/><stop offset=".133" stop-color="#0f0f0f"/><stop offset=".143" stop-color="#111111"/><stop offset=".157" stop-color="#0d0d0d"/><stop offset=".176" stop-color="#000000"/><stop offset=".243" stop-color="#000000"/><stop offset=".248" stop-color="#010101"/><stop offset=".271" stop-color="#131313"/><stop offset=".29" stop-color="#181818"/><stop offset=".31" stop-color="#141414"/><stop offset=".333" stop-color="#020202"/><stop offset=".338" stop-color="#000000"/><stop offset=".367" stop-color="#000000"/><stop offset=".381" stop-color="#131313"/><stop offset=".39" stop-color="#191919"/><stop offset=".4" stop-color="#141414"/><stop offset=".414" stop-color="#020202"/><stop offset=".419" stop-color="#000000"/><stop offset=".424" stop-color="#020202"/><stop offset=".429" stop-color="#060606"/><stop offset=".452" stop-color="#282828"/><stop offset=".462" stop-color="#2f2f2f"/><stop offset=".471" stop-color="#323232"/><stop offset=".481" stop-color="#2f2f2f"/><stop offset=".49" stop-color="#282828"/><stop offset=".514" stop-color="#060606"/><stop offset=".519" stop-color="#010101"/><stop offset=".524" stop-color="#000000"/><stop offset=".557" stop-color="#000000"/><stop offset=".576" stop-color="#060606"/><stop offset=".61" stop-color="#0a0a0a"/><stop offset=".624" stop-color="#080808"/><stop offset=".643" stop-color="#000000"/><stop offset=".724" stop-color="#000000"/><stop offset=".762" stop-color="#202020"/><stop offset=".771" stop-color="#252525"/><stop offset=".781" stop-color="#262626"/><stop offset=".814" stop-color="#1b1b1b"/><stop offset=".848" stop-color="#1e1e1e"/><stop offset=".871" stop-color="#1d1d1d"/><stop offset=".886" stop-color="#181818"/><stop offset=".91" stop-color="#0a0a0a"/><stop offset=".938" stop-color="#0f0f0f"/><stop offset=".948" stop-color="#0c0c0c"/><stop offset=".962" stop-color="#000000"/><stop offset="1" stop-color="#000000"/></linearGradient>
<linearGradient id="c25"><stop offset="0" stop-color="#000000"/><stop offset=".114" stop-color="#000000"/><stop offset=".133" stop-color="#0c0c0c"/><stop offset=".143" stop-color="#0f0f0f"/><stop offset=".157" stop-color="#0b0b0b"/><stop offset=".176" stop-color="#000000"/><stop offset=".243" stop-color="#010101"/><stop offset=".252" stop-color="#040404"/><stop offset=".276" stop-color="#131313"/><stop offset=".295" stop-color="#171717"/><stop offset=".314" stop-color="#121212"/><stop offset=".338" stop-color="#000000"/><stop offset=".371" stop-color="#000000"/><stop offset=".39" stop-color="#0a0a0a"/><stop offset=".41" stop-color="#000000"/><stop offset=".419" stop-color="#000000"/><stop offset=".429" stop-color="#0a0a0a"/><stop offset=".443" stop-color="#222222"/><stop offset=".452" stop-color="#2f2f2f"/><stop offset=".462" stop-color="#353535"/><stop offset=".471" stop-color="#373737"/><stop offset=".481" stop-color="#353535"/><stop offset=".49" stop-color="#2f2f2f"/><stop offset=".5" stop-color="#222222"/><stop offset=".519" stop-color="#030303"/><stop offset=".524" stop-color="#000000"/><stop offset=".576" stop-color="#000000"/><stop offset=".6" stop-color="#0f0f0f"/><stop offset=".614" stop-color="#141414"/><stop offset=".629" stop-color="#111111"/><stop offset=".652" stop-color="#000000"/><stop offset=".719" stop-color="#000000"/><stop offset=".757" stop-color="#232323"/><stop offset=".776" stop-color="#292929"/><stop offset=".814" stop-color="#212121"/><stop offset=".876" stop-color="#1d1d1d"/><stop offset=".886" stop-color="#1a1a1a"/><stop offset=".905" stop-color="#0c0c0c"/><stop offset=".914" stop-color="#080808"/><stop offset=".938" stop-color="#090909"/><stop offset=".948" stop-color="#060606"/><stop offset=".957" stop-color="#000000"/><stop offset="1" stop-color="#000000"/></linearGradient>
<linearGradient id="c26"><stop offset="0" stop-color="#000000"/><stop offset=".119" stop-color="#000000"/><stop offset=".133" stop-color="#090909"/><stop offset=".143" stop-color="#0c0c0c"/><stop offset=".152" stop-color="#0b0b0b"/><stop offset=".181" stop-color="#000000"/><stop offset=".219" stop-color="#0b0b0b"/><stop offset=".252" stop-color="#050505"/><stop offset=".281" stop-color="#131313"/><stop offset=".295" stop-color="#161616"/><stop offset=".314" stop-color="#121212"/><stop offset=".338" stop-color="#000000"/><stop offset=".419" stop-color="#000000"/><stop offset=".429" stop-color="#0c0c0c"/><stop offset=".443" stop-color="#262626"/><stop offset=".452" stop-color="#323232"/><stop offset=".462" stop-color="#373737"/><stop offset=".471" stop-color="#383838"/><stop offset=".481" stop-color="#373737"/><stop offset=".49" stop-color="#323232"/><stop offset=".5" stop-color="#262626"/><stop offset=".514" stop-color="#0c0c0c"/><stop offset=".524" stop-color="#000000"/><stop offset=".576" stop-color="#000000"/><stop offset=".6" stop-color="#181818"/><stop offset=".614" stop-color="#1e1e1e"/><stop offset=".624" stop-color="#1c1c1c"/><stop offset=".633" stop-color="#181818"/><stop offset=".657" stop-color="#000000"/><stop offset=".714" stop-color="#000000"/><stop offset=".752" stop-color="#262626"/><stop offset=".762" stop-color="#2c2c2c"/><stop offset=".776" stop-color="#2f2f2f"/><stop offset=".876" stop-color="#1d1d1d"/><stop offset=".886" stop-color="#1a1a1a"/><stop offset=".91" stop-color="#070707"/><stop offset=".919" stop-color="#040404"/><stop offset=".938" stop-color="#030303"/><stop offset=".952" stop-color="#000000"/><stop offset="1" stop-color="#000000"/></linearGradient>
<linearGradient id="c27"><stop offset="0" stop-color="#000000"/><stop offset=".119" stop-color="#000000"/><stop offset=".138" stop-color="#080808"/><stop offset=".148" stop-color="#090909"/><stop offset=".176" stop-color="#030303"/><stop offset=".186" stop-color="#050505"/><stop offset=".21" stop-color="#121212"/><stop offset=".219" stop-color="#141414"/><stop offset=".229" stop-color="#121212"/><stop offset=".257" stop-color="#070707"/><stop offset=".267" stop-color="#090909"/><stop offset=".286" stop-color="#121212"/><stop offset=".3" stop-color="#151515"/><stop offset=".314" stop-color="#121212"/><stop offset=".338" stop-color="#010101"/><stop offset=".343" stop-color="#000000"/><stop offset=".419" stop-color="#000000"/><stop offset=".429" stop-color="#0d0d0d"/><stop offset=".443" stop-color="#262626"/><stop offset=".452" stop-color="#323232"/><stop offset=".462" stop-color="#373737"/><stop offset=".471" stop-color="#383838"/><stop offset=".481" stop-color="#373737"/><stop offset=".49" stop-color="#323232"/><stop offset=".5" stop-color="#262626"/><stop offset=".514" stop-color="#0d0d0d"/><stop offset=".524" stop-color="#000000"/><stop offset=".571" stop-color="#000000"/><stop offset=".576" stop-color="#020202"/><stop offset=".6" stop-color="#222222"/><stop offset=".61" stop-color="#272727"/><stop offset=".624" stop-color="#242424"/><stop offset=".633" stop-color="#1f1f1f"/><stop offset=".657" stop-color="#020202"/><stop offset=".71" stop-color="#000000"/><stop offset=".719" stop-color="#060606"/><stop offset=".743" stop-color="#232323"/><stop offset=".752" stop-color="#2b2b2b"/><stop offset=".762" stop-color="#303030"/><stop offset=".776" stop-color="#323232"/><stop offset=".8" stop-color="#2f2f2f"/><stop offset=".848" stop-color="#222222"/><stop offset=".876" stop-color="#1c1c1c"/><stop offset=".886" stop-color="#181818"/><stop offset=".91" stop-color="#050505"/><stop offset=".919" stop-color="#000000"/><stop offset="1" stop-color="#000000"/></linearGradient>
<linearGradient id="c28"><stop offset="0" stop-color="#000000"/><stop offset=".124" stop-color="#000000"/><stop offset=".148" stop-color="#070707"/><stop offset=".171" stop-color="#040404"/><stop offset=".181" stop-color="#070707"/><stop offset=".205" stop-color="#181818"/><stop offset=".219" stop-color="#1c1c1c"/><stop offset=".233" stop-color="#181818"/><stop offset=".252" stop-color="#0b0b0b"/><stop offset=".262" stop-color="#080808"/><stop offset=".271" stop-color="#090909"/><stop offset=".29" stop-color="#111111"/><stop offset=".305" stop-color="#131313"/><stop offset=".319" stop-color="#0f0f0f"/><stop offset=".343" stop-color="#000000"/><stop offset=".419" stop-color="#000000"/><stop offset=".424" stop-color="#040404"/><stop offset=".443" stop-color="#232323"/><stop offset=".452" stop-color="#2f2f2f"/><stop offset=".462" stop-color="#363636"/><stop offset=".471" stop-color="#373737"/><stop offset=".481" stop-color="#363636"/><stop offset=".49" stop-color="#2f2f2f"/><stop offset=".5" stop-color="#232323"/><stop offset=".519" stop-color="#040404"/><stop offset=".524" stop-color="#000000"/><stop offset=".567" stop-color="#000000"/><stop offset=".571" stop-color="#020202"/><stop offset=".595" stop-color="#272727"/><stop offset=".6" stop-color="#2c2c2c"/><stop offset=".61" stop-color="#313131"/><stop offset=".619" stop-color="#2f2f2f"/><stop offset=".629" stop-color="#292929"/><stop offset=".638" stop-color="#1f1f1f"/><stop offset=".657" stop-color="#030303"/><stop offset=".662" stop-color="#000000"/><stop offset=".71" stop-color="#000000"/><stop offset=".719" stop-color="#080808"/><stop offset=".743" stop-color="#262626"/><stop offset=".752" stop-color="#2d2d2d"/><stop offset=".762" stop-color="#323232"/><stop offset=".781" stop-color="#333333"/><stop offset=".8" stop-color="#313131"/><stop offset=".843" stop-color="#212121"/><stop offset=".876" stop-color="#1a1a1a"/><stop offset=".886" stop-color="#151515"/><stop offset=".914" stop-color="#000000"/><stop offset="1" stop-color="#000000"/></linearGradient>
<linearGradient id="c29"><stop offset="0" stop-color="#000000"/><stop offset=".129" stop-color="#000000"/><stop offset=".148" stop-color="#040404"/><stop offset=".167" stop-color="#040404"/><stop offset=".176" stop-color="#070707"/><stop offset=".205" stop-color="#1e1e1e"/><stop offset=".219" stop-color="#212121"/><stop offset=".233" stop-color="#1e1e1e"/><stop offset=".257" stop-color="#0b0b0b"/><stop offset=".267" stop-color="#070707"/><stop offset=".305" stop-color="#111111"/><stop offset=".319" stop-color="#0f0f0f"/><stop offset=".343" stop-color="#000000"/><stop offset=".419" stop-color="#000000"/><stop offset=".424" stop-color="#010101"/><stop offset=".429" stop-color="#070707"/><stop offset=".452" stop-color="#2a2a2a"/><stop offset=".462" stop-color="#323232"/><stop offset=".471" stop-color="#353535"/><stop offset=".481" stop-color="#323232"/><stop offset=".49" stop-color="#2a2a2a"/><stop offset=".519" stop-color="#020202"/><stop offset=".562" stop-color="#000000"/><stop offset=".571" stop-color="#080808"/><stop offset=".59" stop-color="#262626"/><stop offset=".6" stop-color="#323232"/><stop offset=".605" stop-color="#363636"/><stop offset=".614" stop-color="#383838"/><stop offset=".629" stop-color="#2f2f2f"/><stop offset=".657" stop-color="#020202"/><stop offset=".662" stop-color="#000000"/><stop offset=".71" stop-color="#000000"/><stop offset=".719" stop-color="#090909"/><stop offset=".738" stop-color="#212121"/><stop offset=".748" stop-color="#2b2b2b"/><stop offset=".762" stop-color="#323232"/><stop offset=".781" stop-color="#333333"/><stop offset=".8" stop-color="#303030"/><stop offset=".838" stop-color="#1e1e1e"/><stop offset=".876" stop-color="#161616"/><stop offset=".91" stop-color="#000000"/><stop offset="1" stop-color="#000000"/></linearGradient>
<linearGradient id="c30"><stop offset="0" stop-color="#000000"/><stop offset=".138" stop-color="#000000"/><stop offset=".162" stop-color="#030303"/><stop offset=".176" stop-color="#090909"/><stop offset=".2" stop-color="#1e1e1e"/><stop offset=".219" stop-color="#232323"/><stop offset=".238" stop-color="#1e1e1e"/><stop offset=".262" stop-color="#090909"/><stop offset=".271" stop-color="#050505"/><stop offset=".3" stop-color="#0f0f0f"/><stop offset=".31" stop-color="#101010"/><stop offset=".324" stop-color="#0c0c0c"/><stop offset=".343" stop-color="#010101"/><stop offset=".424" stop-color="#000000"/><stop offset=".433" stop-color="#0a0a0a"/><stop offset=".457" stop-color="#2c2c2c"/><stop offset=".467" stop-color="#333333"/><stop offset=".471" stop-color="#333333"/><stop offset=".476" stop-color="#323232"/><stop offset=".486" stop-color="#2a2a2a"/><stop offset=".51" stop-color="#0a0a0a"/><stop offset=".519" stop-color="#000000"/><stop offset=".557" stop-color="#000000"/><stop offset=".567" stop-color="#070707"/><stop offset=".6" stop-color="#323232"/><stop offset=".61" stop-color="#373737"/><stop offset=".614" stop-color="#383838"/><stop offset=".624" stop-color="#333333"/><stop offset=".629" stop-color="#2e2e2e"/><stop offset=".652" stop-color="#060606"/><stop offset=".657" stop-color="#000000"/><stop offset=".71" stop-color="#000000"/><stop offset=".719" stop-color="#070707"/><stop offset=".748" stop-color="#292929"/><stop offset=".762" stop-color="#313131"/><stop offset=".776" stop-color="#333333"/><stop offset=".8" stop-color="#2e2e2e"/><stop offset=".833" stop-color="#1a1a1a"/><stop offset=".876" stop-color="#101010"/><stop offset=".905" stop-color="#000000"/><stop offset="1" stop-color="#000000"/></linearGradient>
<linearGradient id="c31"><stop offset="0" stop-color="#000000"/><stop offset=".157" stop-color="#010101"/><stop offset=".171" stop-color="#060606"/><stop offset=".2" stop-color="#202020"/><stop offset=".219" stop-color="#242424"/><stop offset=".238" stop-color="#202020"/><stop offset=".262" stop-color="#090909"/><stop offset=".271" stop-color="#030303"/><stop offset=".281" stop-color="#040404"/><stop offset=".31" stop-color="#0e0e0e"/><stop offset=".324" stop-color="#0c0c0c"/><stop offset=".348" stop-color="#000000"/><stop offset=".424" stop-color="#000000"/><stop offset=".433" stop-color="#080808"/><stop offset=".457" stop-color="#2f2f2f"/><stop offset=".467" stop-color="#373737"/><stop offset=".471" stop-color="#373737"/><stop offset=".481" stop-color="#303030"/><stop offset=".5" stop-color="#131313"/><stop offset=".51" stop-color="#080808"/><stop offset=".519" stop-color="#010101"/><stop offset=".524" stop-color="#000000"/><stop offset=".552" stop-color="#000000"/><stop offset=".557" stop-color="#020202"/><stop offset=".59" stop-color="#252525"/><stop offset=".605" stop-color="#2e2e2e"/><stop offset=".614" stop-color="#303030"/><stop offset=".624" stop-color="#2c2c2c"/><stop offset=".629" stop-color="#282828"/><stop offset=".652" stop-color="#040404"/><stop offset=".657" stop-color="#000000"/><stop offset=".714" stop-color="#010101"/><stop offset=".743" stop-color="#202020"/><stop offset=".752" stop-color="#292929"/><stop offset=".762" stop-color="#2e2e2e"/><stop offset=".776" stop-color="#303030"/><stop offset=".79" stop-color="#2e2e2e"/><stop offset=".8" stop-color="#2a2a2a"/><stop offset=".829" stop-color="#141414"/><stop offset=".838" stop-color="#0f0f0f"/><stop offset=".871" stop-color="#0a0a0a"/><stop offset=".895" stop-color="#000000"/><stop offset="1" stop-color="#000000"/></linearGradient>
<linearGradient id="c32"><stop offset="0" stop-color="#000000"/><stop offset=".162" stop-color="#000000"/><stop offset=".176" stop-color="#080808"/><stop offset=".2" stop-color="#1f1f1f"/><stop offset=".219" stop-color="#242424"/><stop offset=".238" stop-color="#202020"/><stop offset=".262" stop-color="#080808"/><stop offset=".271" stop-color="#020202"/><stop offset=".281" stop-color="#020202"/><stop offset=".3" stop-color="#0a0a0a"/><stop offset=".314" stop-color="#0c0c0c"/><stop offset=".329" stop-color="#0a0a0a"/><stop offset=".352" stop-color="#000000"/><stop offset=".419" stop-color="#010101"/><stop offset=".429" stop-color="#070707"/><stop offset=".433" stop-color="#0d0d0d"/><stop offset=".457" stop-color="#373737"/><stop offset=".467" stop-color="#3e3e3e"/><stop offset=".471" stop-color="#3e3e3e"/><stop offset=".481" stop-color="#373737"/><stop offset=".5" stop-color="#161616"/><stop offset=".51" stop-color="#0a0a0a"/><stop offset=".519" stop-color="#050505"/><stop offset=".533" stop-color="#010101"/><stop offset=".543" stop-color="#010101"/><stop offset=".552" stop-color="#030303"/><stop offset=".586" stop-color="#202020"/><stop offset=".6" stop-color="#262626"/><stop offset=".614" stop-color="#282828"/><stop offset=".629" stop-color="#202020"/><stop offset=".652" stop-color="#020202"/><stop offset=".657" stop-color="#000000"/><stop offset=".714" stop-color="#000000"/><stop offset=".724" stop-color="#060606"/><stop offset=".752" stop-color="#232323"/><stop offset=".762" stop-color="#282828"/><stop offset=".776" stop-color="#2b2b2b"/><stop offset=".795" stop-color="#262626"/><stop offset=".829" stop-color="#0c0c0c"/><stop offset=".843" stop-color="#060606"/><stop offset=".886" stop-color="#000000"/><stop offset="1" stop-color="#000000"/></linearGradient>
<linearGradient id="c33"><stop offset="0" stop-color="#000000"/><stop offset=".167" stop-color="#000000"/><stop offset=".176" stop-color="#060606"/><stop offset=".2" stop-color="#1d1d1d"/><stop offset=".21" stop-color="#222222"/><stop offset=".219" stop-color="#232323"/><stop offset=".229" stop-color="#222222"/><stop offset=".238" stop-color="#1e1e1e"/><stop offset=".262" stop-color="#060606"/><stop offset=".271" stop-color="#000000"/><stop offset=".281" stop-color="#000000"/><stop offset=".305" stop-color="#0a0a0a"/><stop offset=".319" stop-color="#0c0c0c"/><stop offset=".357" stop-color="#000000"/><stop offset=".39" stop-color="#000000"/><stop offset=".414" stop-color="#060606"/><stop offset=".424" stop-color="#0b0b0b"/><stop offset=".433" stop-color="#161616"/><stop offset=".452" stop-color="#3a3a3a"/><stop offset=".462" stop-color="#434343"/><stop offset=".471" stop-color="#454545"/><stop offset=".481" stop-color="#404040"/><stop offset=".486" stop-color="#393939"/><stop offset=".5" stop-color="#1f1f1f"/><stop offset=".51" stop-color="#131313"/><stop offset=".519" stop-color="#0e0e0e"/><stop offset=".538" stop-color="#080808"/><stop offset=".552" stop-color="#090909"/><stop offset=".562" stop-color="#0e0e0e"/><stop offset=".586" stop-color="#212121"/><stop offset=".605" stop-color="#242424"/><stop offset=".614" stop-color="#232323"/><stop offset=".624" stop-color="#1f1f1f"/><stop offset=".652" stop-color="#010101"/><stop offset=".719" stop-color="#000000"/><stop offset=".757" stop-color="#1d1d1d"/><stop offset=".776" stop-color="#232323"/><stop offset=".795" stop-color="#1d1d1d"/><stop offset=".824" stop-color="#080808"/><stop offset=".838" stop-color="#000000"/><stop offset="1" stop-color="#000000"/></linearGradient>
<linearGradient id="c34"><stop offset="0" stop-color="#000000"/><stop offset=".171" stop-color="#000000"/><stop offset=".2" stop-color="#191919"/><stop offset=".21" stop-color="#1e1e1e"/><stop offset=".219" stop-color="#202020"/><stop offset=".229" stop-color="#1e1e1e"/><stop offset=".238" stop-color="#191919"/><stop offset=".267" stop-color="#000000"/><stop offset=".286" stop-color="#000000"/><stop offset=".305" stop-color="#090909"/><stop offset=".319" stop-color="#0c0c0c"/><stop offset=".333" stop-color="#0b0b0b"/><stop offset=".362" stop-color="#030303"/><stop offset=".376" stop-color="#040404"/><stop offset=".405" stop-color="#0c0c0c"/><stop offset=".424" stop-color="#161616"/><stop offset=".433" stop-color="#232323"/><stop offset=".448" stop-color="#3f3f3f"/><stop offset=".452" stop-color="#464646"/><stop offset=".462" stop-color="#4e4e4e"/><stop offset=".471" stop-color="#505050"/><stop offset=".481" stop-color="#4c4c4c"/><stop offset=".486" stop-color="#464646"/><stop offset=".5" stop-color="#2d2d2d"/><stop offset=".51" stop-color="#212121"/><stop offset=".529" stop-color="#171717"/><stop offset=".548" stop-color="#101010"/><stop offset=".557" stop-color="#111111"/><stop offset=".586" stop-color="#202020"/><stop offset=".605" stop-color="#232323"/><stop offset=".624" stop-color="#1b1b1b"/><stop offset=".652" stop-color="#000000"/><stop offset=".724" stop-color="#000000"/><stop offset=".729" stop-color="#010101"/><stop offset=".757" stop-color="#131313"/><stop offset=".776" stop-color="#181818"/><stop offset=".795" stop-color="#131313"/><stop offset=".824" stop-color="#010101"/><stop offset=".829" stop-color="#000000"/><stop offset="1" stop-color="#000000"/></linearGradient>
<linearGradient id="c35"><stop offset="0" stop-color="#000000"/><stop offset=".176" stop-color="#000000"/><stop offset=".205" stop-color="#151515"/><stop offset=".219" stop-color="#1a1a1a"/><stop offset=".233" stop-color="#161616"/><stop offset=".257" stop-color="#040404"/><stop offset=".267" stop-color="#000000"/><stop offset=".286" stop-color="#000000"/><stop offset=".31" stop-color="#0a0a0a"/><stop offset=".324" stop-color="#0e0e0e"/><stop offset=".357" stop-color="#0a0a0a"/><stop offset=".371" stop-color="#0a0a0a"/><stop offset=".395" stop-color="#131313"/><stop offset=".424" stop-color="#252525"/><stop offset=".433" stop-color="#313131"/><stop offset=".452" stop-color="#545454"/><stop offset=".462" stop-color="#5d5d5d"/><stop offset=".471" stop-color="#5f5f5f"/><stop offset=".481" stop-color="#5a5a5a"/><stop offset=".5" stop-color="#3e3e3e"/><stop offset=".51" stop-color="#343434"/><stop offset=".543" stop-color="#1f1f1f"/><stop offset=".562" stop-color="#191919"/><stop offset=".595" stop-color="#202020"/><stop offset=".61" stop-color="#1e1e1e"/><stop offset=".619" stop-color="#191919"/><stop offset=".652" stop-color="#000000"/><stop offset=".733" stop-color="#000000"/><stop offset=".762" stop-color="#0b0b0b"/><stop offset=".776" stop-color="#0d0d0d"/><stop offset=".79" stop-color="#0b0b0b"/><stop offset=".814" stop-color="#000000"/><stop offset="1" stop-color="#000000"/></linearGradient>
<linearGradient id="c36"><stop offset="0" stop-color="#000000"/><stop offset=".181" stop-color="#000000"/><stop offset=".186" stop-color="#010101"/><stop offset=".205" stop-color="#0d0d0d"/><stop offset=".219" stop-color="#111111"/><stop offset=".233" stop-color="#0f0f0f"/><stop offset=".262" stop-color="#000000"/><stop offset=".281" stop-color="#000000"/><stop offset=".324" stop-color="#111111"/><stop offset=".367" stop-color="#131313"/><stop offset=".39" stop-color="#1d1d1d"/><stop offset=".419" stop-color="#323232"/><stop offset=".433" stop-color="#424242"/><stop offset=".457" stop-color="#666666"/><stop offset=".467" stop-color="#6c6c6c"/><stop offset=".471" stop-color="#6d6d6d"/><stop offset=".481" stop-color="#676767"/><stop offset=".505" stop-color="#4e4e4e"/><stop offset=".557" stop-color="#262626"/><stop offset=".571" stop-color="#202020"/><stop offset=".61" stop-color="#191919"/><stop offset=".643" stop-color="#060606"/><stop offset=".657" stop-color="#000000"/><stop offset=".748" stop-color="#000000"/><stop offset=".776" stop-color="#040404"/><stop offset=".8" stop-color="#000000"/><stop offset="1" stop-color="#000000"/></linearGradient>
<linearGradient id="c37"><stop offset="0" stop-color="#000000"/><stop offset=".057" stop-color="#000000"/><stop offset=".09" stop-color="#090909"/><stop offset=".105" stop-color="#070707"/><stop offset=".124" stop-color="#000000"/><stop offset=".19" stop-color="#000000"/><stop offset=".21" stop-color="#070707"/><stop offset=".224" stop-color="#090909"/><stop offset=".257" stop-color="#010101"/><stop offset=".276" stop-color="#010101"/><stop offset=".29" stop-color="#060606"/><stop offset=".324" stop-color="#171717"/><stop offset=".362" stop-color="#1e1e1e"/><stop offset=".381" stop-color="#262626"/><stop offset=".395" stop-color="#303030"/><stop offset=".414" stop-color="#424242"/><stop offset=".457" stop-color="#717171"/><stop offset=".471" stop-color="#787878"/><stop offset=".481" stop-color="#757575"/><stop offset=".514" stop-color="#5f5f5f"/><stop offset=".562" stop-color="#313131"/><stop offset=".576" stop-color="#272727"/><stop offset=".638" stop-color="#0a0a0a"/><stop offset=".662" stop-color="#030303"/><stop offset=".676" stop-color="#000000"/><stop offset="1" stop-color="#000000"/></linearGradient>
<linearGradient id="c38"><stop offset="0" stop-color="#000000"/><stop offset=".043" stop-color="#000000"/><stop offset=".071" stop-color="#131313"/><stop offset=".09" stop-color="#181818"/><stop offset=".11" stop-color="#141414"/><stop offset=".138" stop-color="#000000"/><stop offset=".205" stop-color="#000000"/><stop offset=".224" stop-color="#030303"/><stop offset=".257" stop-color="#020202"/><stop offset=".276" stop-color="#050505"/><stop offset=".295" stop-color="#0e0e0e"/><stop offset=".329" stop-color="#222222"/><stop offset=".362" stop-color="#2d2d2d"/><stop offset=".376" stop-color="#343434"/><stop offset=".395" stop-color="#434343"/><stop offset=".433" stop-color="#6c6c6c"/><stop offset=".452" stop-color="#7e7e7e"/><stop offset=".467" stop-color="#878787"/><stop offset=".476" stop-color="#888888"/><stop offset=".495" stop-color="#838383"/><stop offset=".514" stop-color="#777777"/><stop offset=".533" stop-color="#646464"/><stop offset=".571" stop-color="#373737"/><stop offset=".59" stop-color="#262626"/><stop offset=".624" stop-color="#141414"/><stop offset=".662" stop-color="#070707"/><stop offset=".695" stop-color="#000000"/><stop offset="1" stop-color="#000000"/></linearGradient>
<linearGradient id="c39"><stop offset="0" stop-color="#000000"/><stop offset=".038" stop-color="#000000"/><stop offset=".067" stop-color="#181818"/><stop offset=".076" stop-color="#1b1b1b"/><stop offset=".09" stop-color="#1d1d1d"/><stop offset=".105" stop-color="#1c1c1c"/><stop offset=".114" stop-color="#191919"/><stop offset=".143" stop-color="#010101"/><stop offset=".148" stop-color="#000000"/><stop offset=".224" stop-color="#000000"/><stop offset=".267" stop-color="#060606"/><stop offset=".29" stop-color="#111111"/><stop offset=".333" stop-color="#303030"/><stop offset=".376" stop-color="#474747"/><stop offset=".395" stop-color="#575757"/><stop offset=".433" stop-color="#838383"/><stop offset=".448" stop-color="#919191"/><stop offset=".467" stop-color="#9d9d9d"/><stop offset=".481" stop-color="#9f9f9f"/><stop offset=".5" stop-color="#999999"/><stop offset=".519" stop-color="#8a8a8a"/><stop offset=".538" stop-color="#737373"/><stop offset=".571" stop-color="#454545"/><stop offset=".595" stop-color="#2c2c2c"/><stop offset=".624" stop-color="#1a1a1a"/><stop offset=".667" stop-color="#0a0a0a"/><stop offset=".71" stop-color="#000000"/><stop offset="1" stop-color="#000000"/></linearGradient>
<linearGradient id="c40"><stop offset="0" stop-color="#000000"/><stop offset=".038" stop-color="#000000"/><stop offset=".071" stop-color="#191919"/><stop offset=".1" stop-color="#212121"/><stop offset=".11" stop-color="#202020"/><stop offset=".119" stop-color="#1c1c1c"/><stop offset=".152" stop-color="#000000"/><stop offset=".229" stop-color="#000000"/><stop offset=".262" stop-color="#090909"/><stop offset=".29" stop-color="#181818"/><stop offset=".338" stop-color="#424242"/><stop offset=".381" stop-color="#5d5d5d"/><stop offset=".4" stop-color="#707070"/><stop offset=".438" stop-color="#9e9e9e"/><stop offset=".452" stop-color="#ababab"/><stop offset=".467" stop-color="#b4b4b4"/><stop offset=".481" stop-color="#b6b6b6"/><stop offset=".5" stop-color="#b0b0b0"/><stop offset=".519" stop-color="#9f9f9f"/><stop offset=".538" stop-color="#868686"/><stop offset=".576" stop-color="#4c4c4c"/><stop offset=".6" stop-color="#323232"/><stop offset=".629" stop-color="#1f1f1f"/><stop offset=".671" stop-color="#0d0d0d"/><stop offset=".719" stop-color="#000000"/><stop offset="1" stop-color="#000000"/></linearGradient>
<linearGradient id="c41"><stop offset="0" stop-color="#000000"/><stop offset=".048" stop-color="#000000"/><stop offset=".086" stop-color="#151515"/><stop offset=".11" stop-color="#1c1c1c"/><stop offset=".129" stop-color="#191919"/><stop offset=".19" stop-color="#000000"/><stop offset=".224" stop-color="#000000"/><stop offset=".257" stop-color="#0a0a0a"/><stop offset=".276" stop-color="#141414"/><stop offset=".29" stop-color="#1e1e1e"/><stop offset=".338" stop-color="#4e4e4e"/><stop offset=".386" stop-color="#727272"/><stop offset=".4" stop-color="#808080"/><stop offset=".438" stop-color="#b0b0b0"/><stop offset=".452" stop-color="#bfbfbf"/><stop offset=".467" stop-color="#c9c9c9"/><stop offset=".481" stop-color="#cccccc"/><stop offset=".49" stop-color="#cacaca"/><stop offset=".5" stop-color="#c5c5c5"/><stop offset=".519" stop-color="#b2b2b2"/><stop offset=".538" stop-color="#979797"/><stop offset=".576" stop-color="#585858"/><stop offset=".6" stop-color="#3a3a3a"/><stop offset=".629" stop-color="#252525"/><stop offset=".676" stop-color="#0f0f0f"/><stop offset=".729" stop-color="#000000"/><stop offset="1" stop-color="#000000"/></linearGradient>
<linearGradient id="c42"><stop offset="0" stop-color="#000000"/><stop offset=".081" stop-color="#000000"/><stop offset=".1" stop-color="#050505"/><stop offset=".133" stop-color="#131313"/><stop offset=".157" stop-color="#161616"/><stop offset=".181" stop-color="#141414"/><stop offset=".219" stop-color="#040404"/><stop offset=".233" stop-color="#050505"/><stop offset=".257" stop-color="#0d0d0d"/><stop offset=".276" stop-color="#181818"/><stop offset=".29" stop-color="#232323"/><stop offset=".338" stop-color="#565656"/><stop offset=".39" stop-color="#818181"/><stop offset=".41" stop-color="#979797"/><stop offset=".443" stop-color="#c4c4c4"/><stop offset=".457" stop-color="#d4d4d4"/><stop offset=".471" stop-color="#dddddd"/><stop offset=".481" stop-color="#dfdfdf"/><stop offset=".49" stop-color="#dddddd"/><stop offset=".5" stop-color="#d8d8d8"/><stop offset=".519" stop-color="#c3c3c3"/><stop offset=".538" stop-color="#a6a6a6"/><stop offset=".576" stop-color="#626262"/><stop offset=".59" stop-color="#4d4d4d"/><stop offset=".6" stop-color="#424242"/><stop offset=".614" stop-color="#353535"/><stop offset=".629" stop-color="#2b2b2b"/><stop offset=".676" stop-color="#131313"/><stop offset=".733" stop-color="#000000"/><stop offset="1" stop-color="#000000"/></linearGradient>
<linearGradient id="c43"><stop offset="0" stop-color="#000000"/><stop offset=".124" stop-color="#000000"/><stop offset=".152" stop-color="#121212"/><stop offset=".181" stop-color="#191919"/><stop offset=".2" stop-color="#171717"/><stop offset=".233" stop-color="#0b0b0b"/><stop offset=".248" stop-color="#0c0c0c"/><stop offset=".262" stop-color="#111111"/><stop offset=".29" stop-color="#252525"/><stop offset=".338" stop-color="#575757"/><stop offset=".39" stop-color="#858585"/><stop offset=".41" stop-color="#9c9c9c"/><stop offset=".448" stop-color="#d4d4d4"/><stop offset=".462" stop-color="#e4e4e4"/><stop offset=".471" stop-color="#ebebeb"/><stop offset=".486" stop-color="#eeeeee"/><stop offset=".495" stop-color="#ebebeb"/><stop offset=".505" stop-color="#e5e5e5"/><stop offset=".524" stop-color="#cfcfcf"/><stop offset=".543" stop-color="#afafaf"/><stop offset=".581" stop-color="#636363"/><stop offset=".6" stop-color="#474747"/><stop offset=".614" stop-color="#393939"/><stop offset=".629" stop-color="#2f2f2f"/><stop offset=".676" stop-color="#161616"/><stop offset=".71" stop-color="#080808"/><stop offset=".738" stop-color="#000000"/><stop offset="1" stop-color="#000000"/></linearGradient>
<linearGradient id="c44"><stop offset="0" stop-color="#000000"/><stop offset=".148" stop-color="#000000"/><stop offset=".176" stop-color="#0f0f0f"/><stop offset=".19" stop-color="#131313"/><stop offset=".21" stop-color="#151515"/><stop offset=".243" stop-color="#0f0f0f"/><stop offset=".252" stop-color="#101010"/><stop offset=".267" stop-color="#151515"/><stop offset=".295" stop-color="#292929"/><stop offset=".338" stop-color="#535353"/><stop offset=".381" stop-color="#787878"/><stop offset=".405" stop-color="#959595"/><stop offset=".443" stop-color="#d1d1d1"/><stop offset=".457" stop-color="#e5e5e5"/><stop offset=".467" stop-color="#efefef"/><stop offset=".476" stop-color="#f6f6f6"/><stop offset=".49" stop-color="#f9f9f9"/><stop offset=".5" stop-color="#f7f7f7"/><stop offset=".514" stop-color="#eeeeee"/><stop offset=".524" stop-color="#e4e4e4"/><stop offset=".533" stop-color="#d6d6d6"/><stop offset=".548" stop-color="#bababa"/><stop offset=".571" stop-color="#808080"/><stop offset=".581" stop-color="#6b6b6b"/><stop offset=".59" stop-color="#5a5a5a"/><stop offset=".605" stop-color="#474747"/><stop offset=".629" stop-color="#343434"/><stop offset=".69" stop-color="#151515"/><stop offset=".719" stop-color="#080808"/><stop offset=".743" stop-color="#000000"/><stop offset="1" stop-color="#000000"/></linearGradient>
<linearGradient id="c45"><stop offset="0" stop-color="#000000"/><stop offset=".181" stop-color="#000000"/><stop offset=".214" stop-color="#0a0a0a"/><stop offset=".252" stop-color="#111111"/><stop offset=".271" stop-color="#181818"/><stop offset=".3" stop-color="#2c2c2c"/><stop offset=".381" stop-color="#717171"/><stop offset=".405" stop-color="#8f8f8f"/><stop offset=".448" stop-color="#d6d6d6"/><stop offset=".462" stop-color="#e9e9e9"/><stop offset=".476" stop-color="#f7f7f7"/><stop offset=".495" stop-color="#fdfdfd"/><stop offset=".514" stop-color="#f9f9f9"/><stop offset=".524" stop-color="#f2f2f2"/><stop offset=".533" stop-color="#e6e6e6"/><stop offset=".548" stop-color="#c9c9c9"/><stop offset=".571" stop-color="#898989"/><stop offset=".581" stop-color="#727272"/><stop offset=".59" stop-color="#5f5f5f"/><stop offset=".605" stop-color="#4d4d4d"/><stop offset=".619" stop-color="#434343"/><stop offset=".676" stop-color="#2b2b2b"/><stop offset=".738" stop-color="#070707"/><stop offset=".757" stop-color="#000000"/><stop offset="1" stop-color="#000000"/></linearGradient>
<linearGradient id="c46"><stop offset="0" stop-color="#000000"/><stop offset=".205" stop-color="#000000"/><stop offset=".233" stop-color="#080808"/><stop offset=".262" stop-color="#141414"/><stop offset=".295" stop-color="#282828"/><stop offset=".376" stop-color="#646464"/><stop offset=".39" stop-color="#747474"/><stop offset=".405" stop-color="#878787"/><stop offset=".448" stop-color="#cccccc"/><stop offset=".462" stop-color="#e0e0e0"/><stop offset=".471" stop-color="#e9e9e9"/><stop offset=".481" stop-color="#efefef"/><stop offset=".5" stop-color="#f3f3f3"/><stop offset=".519" stop-color="#ededed"/><stop offset=".533" stop-color="#dedede"/><stop offset=".548" stop-color="#c2c2c2"/><stop offset=".571" stop-color="#858585"/><stop offset=".581" stop-color="#707070"/><stop offset=".59" stop-color="#606060"/><stop offset=".6" stop-color="#555555"/><stop offset=".614" stop-color="#4b4b4b"/><stop offset=".648" stop-color="#3e3e3e"/><stop offset=".695" stop-color="#272727"/><stop offset=".752" stop-color="#040404"/><stop offset=".762" stop-color="#000000"/><stop offset="1" stop-color="#000000"/></linearGradient>
<linearGradient id="c47"><stop offset="0" stop-color="#000000"/><stop offset=".21" stop-color="#000000"/><stop offset=".243" stop-color="#0b0b0b"/><stop offset=".271" stop-color="#1b1b1b"/><stop offset=".324" stop-color="#3f3f3f"/><stop offset=".367" stop-color="#585858"/><stop offset=".381" stop-color="#636363"/><stop offset=".405" stop-color="#7d7d7d"/><stop offset=".443" stop-color="#b5b5b5"/><stop offset=".457" stop-color="#c8c8c8"/><stop offset=".467" stop-color="#d2d2d2"/><stop offset=".476" stop-color="#d8d8d8"/><stop offset=".49" stop-color="#dcdcdc"/><stop offset=".51" stop-color="#d6d6d6"/><stop offset=".519" stop-color="#cecece"/><stop offset=".529" stop-color="#c4c4c4"/><stop offset=".543" stop-color="#aeaeae"/><stop offset=".576" stop-color="#6a6a6a"/><stop offset=".586" stop-color="#5c5c5c"/><stop offset=".6" stop-color="#4d4d4d"/><stop offset=".614" stop-color="#454545"/><stop offset=".648" stop-color="#3a3a3a"/><stop offset=".676" stop-color="#2d2d2d"/><stop offset=".752" stop-color="#020202"/><stop offset=".757" stop-color="#000000"/><stop offset="1" stop-color="#000000"/></linearGradient>
<linearGradient id="c48"><stop offset="0" stop-color="#000000"/><stop offset=".21" stop-color="#000000"/><stop offset=".229" stop-color="#060606"/><stop offset=".257" stop-color="#151515"/><stop offset=".319" stop-color="#424242"/><stop offset=".371" stop-color="#595959"/><stop offset=".386" stop-color="#616161"/><stop offset=".41" stop-color="#787878"/><stop offset=".457" stop-color="#b2b2b2"/><stop offset=".471" stop-color="#bcbcbc"/><stop offset=".486" stop-color="#bfbfbf"/><stop offset=".5" stop-color="#bababa"/><stop offset=".519" stop-color="#aaaaaa"/><stop offset=".538" stop-color="#929292"/><stop offset=".576" stop-color="#585858"/><stop offset=".586" stop-color="#4c4c4c"/><stop offset=".6" stop-color="#404040"/><stop offset=".619" stop-color="#353535"/><stop offset=".667" stop-color="#232323"/><stop offset=".733" stop-color="#040404"/><stop offset=".748" stop-color="#000000"/><stop offset="1" stop-color="#000000"/></linearGradient>
<linearGradient id="c49"><stop offset="0" stop-color="#000000"/><stop offset=".148" stop-color="#020202"/><stop offset=".195" stop-color="#060606"/><stop offset=".224" stop-color="#0d0d0d"/><stop offset=".257" stop-color="#1d1d1d"/><stop offset=".3" stop-color="#3d3d3d"/><stop offset=".319" stop-color="#494949"/><stop offset=".338" stop-color="#515151"/><stop offset=".376" stop-color="#585858"/><stop offset=".395" stop-color="#606060"/><stop offset=".414" stop-color="#6f6f6f"/><stop offset=".457" stop-color="#989898"/><stop offset=".471" stop-color="#a0a0a0"/><stop offset=".481" stop-color="#a2a2a2"/><stop offset=".495" stop-color="#9e9e9e"/><stop offset=".514" stop-color="#909090"/><stop offset=".567" stop-color="#535353"/><stop offset=".595" stop-color="#393939"/><stop offset=".638" stop-color="#222222"/><stop offset=".705" stop-color="#070707"/><stop offset=".733" stop-color="#000000"/><stop offset=".886" stop-color="#000000"/><stop offset=".924" stop-color="#070707"/><stop offset=".962" stop-color="#000000"/><stop offset="1" stop-color="#000000"/></linearGradient>
<linearGradient id="c50"><stop offset="0" stop-color="#000000"/><stop offset=".057" stop-color="#010101"/><stop offset=".2" stop-color="#202020"/><stop offset=".243" stop-color="#313131"/><stop offset=".3" stop-color="#585858"/><stop offset=".319" stop-color="#616161"/><stop offset=".338" stop-color="#666666"/><stop offset=".376" stop-color="#656565"/><stop offset=".395" stop-color="#676767"/><stop offset=".414" stop-color="#6e6e6e"/><stop offset=".457" stop-color="#878787"/><stop offset=".476" stop-color="#8b8b8b"/><stop offset=".49" stop-color="#888888"/><stop offset=".505" stop-color="#808080"/><stop offset=".567" stop-color="#464646"/><stop offset=".595" stop-color="#323232"/><stop offset=".648" stop-color="#191919"/><stop offset=".7" stop-color="#070707"/><stop offset=".733" stop-color="#000000"/><stop offset=".857" stop-color="#000000"/><stop offset=".895" stop-color="#141414"/><stop offset=".924" stop-color="#191919"/><stop offset=".952" stop-color="#131313"/><stop offset=".986" stop-color="#000000"/><stop offset="1" stop-color="#000000"/></linearGradient>
<linearGradient id="c51"><stop offset="0" stop-color="#000000"/><stop offset=".076" stop-color="#000000"/><stop offset=".133" stop-color="#0f0f0f"/><stop offset=".181" stop-color="#212121"/><stop offset=".224" stop-color="#363636"/><stop offset=".252" stop-color="#494949"/><stop offset=".3" stop-color="#6c6c6c"/><stop offset=".324" stop-color="#7a7a7a"/><stop offset=".348" stop-color="#808080"/><stop offset=".395" stop-color="#868686"/><stop offset=".448" stop-color="#989898"/><stop offset=".467" stop-color="#9b9b9b"/><stop offset=".481" stop-color="#989898"/><stop offset=".5" stop-color="#8e8e8e"/><stop offset=".629" stop-color="#242424"/><stop offset=".657" stop-color="#151515"/><stop offset=".69" stop-color="#0a0a0a"/><stop offset=".738" stop-color="#000000"/><stop offset=".852" stop-color="#000000"/><stop offset=".895" stop-color="#191919"/><stop offset=".91" stop-color="#1c1c1c"/><stop offset=".929" stop-color="#1d1d1d"/><stop offset=".952" stop-color="#181818"/><stop offset=".99" stop-color="#010101"/><stop offset="1" stop-color="#000000"/></linearGradient>
<linearGradient id="c52"><stop offset="0" stop-color="#000000"/><stop offset=".124" stop-color="#000000"/><stop offset=".171" stop-color="#0c0c0c"/><stop offset=".2" stop-color="#191919"/><stop offset=".229" stop-color="#292929"/><stop offset=".305" stop-color="#626262"/><stop offset=".333" stop-color="#737373"/><stop offset=".4" stop-color="#8c8c8c"/><stop offset=".448" stop-color="#a1a1a1"/><stop offset=".476" stop-color="#a7a7a7"/><stop offset=".495" stop-color="#a4a4a4"/><stop offset=".529" stop-color="#989898"/><stop offset=".557" stop-color="#939393"/><stop offset=".571" stop-color="#8d8d8d"/><stop offset=".586" stop-color="#808080"/><stop offset=".624" stop-color="#4e4e4e"/><stop offset=".648" stop-color="#363636"/><stop offset=".686" stop-color="#1d1d1d"/><stop offset=".729" stop-color="#0b0b0b"/><stop offset=".786" stop-color="#000000"/><stop offset=".852" stop-color="#000000"/><stop offset=".9" stop-color="#121212"/><stop offset=".924" stop-color="#161616"/><stop offset=".948" stop-color="#121212"/><stop offset=".986" stop-color="#000000"/><stop offset="1" stop-color="#000000"/></linearGradient>
<linearGradient id="c53"><stop offset="0" stop-color="#000000"/><stop offset=".171" stop-color="#000000"/><stop offset=".219" stop-color="#090909"/><stop offset=".243" stop-color="#121212"/><stop offset=".271" stop-color="#212121"/><stop offset=".357" stop-color="#5b5b5b"/><stop offset=".429" stop-color="#858585"/><stop offset=".457" stop-color="#929292"/><stop offset=".486" stop-color="#969696"/><stop offset=".562" stop-color="#8b8b8b"/><stop offset=".581" stop-color="#858585"/><stop offset=".638" stop-color="#616161"/><stop offset=".733" stop-color="#2b2b2b"/><stop offset=".771" stop-color="#191919"/><stop offset=".805" stop-color="#0d0d0d"/><stop offset=".857" stop-color="#030303"/><stop offset=".924" stop-color="#050505"/><stop offset=".962" stop-color="#000000"/><stop offset="1" stop-color="#000000"/></linearGradient>
<linearGradient id="c54"><stop offset="0" stop-color="#000000"/><stop offset=".195" stop-color="#000000"/><stop offset=".271" stop-color="#0a0a0a"/><stop offset=".314" stop-color="#161616"/><stop offset=".357" stop-color="#282828"/><stop offset=".471" stop-color="#686868"/><stop offset=".495" stop-color="#6f6f6f"/><stop offset=".524" stop-color="#727272"/><stop offset=".586" stop-color="#6c6c6c"/><stop offset=".676" stop-color="#575757"/><stop offset=".738" stop-color="#434343"/><stop offset=".843" stop-color="#181818"/><stop offset=".886" stop-color="#0b0b0b"/><stop offset=".952" stop-color="#000000"/><stop offset="1" stop-color="#000000"/></linearGradient>
<linearGradient id="c55"><stop offset="0" stop-color="#000000"/><stop offset=".148" stop-color="#000000"/><stop offset=".219" stop-color="#070707"/><stop offset=".314" stop-color="#171717"/><stop offset=".49" stop-color="#424242"/><stop offset=".548" stop-color="#484848"/><stop offset=".614" stop-color="#4b4b4b"/><stop offset=".676" stop-color="#484848"/><stop offset=".738" stop-color="#3f3f3f"/><stop offset=".79" stop-color="#333333"/><stop offset=".919" stop-color="#0c0c0c"/><stop offset=".962" stop-color="#040404"/><stop offset="1" stop-color="#000000"/></linearGradient>
<linearGradient id="c56"><stop offset="0" stop-color="#000000"/><stop offset=".148" stop-color="#000000"/><stop offset=".205" stop-color="#080808"/><stop offset=".276" stop-color="#1a1a1a"/><stop offset=".39" stop-color="#424242"/><stop offset=".443" stop-color="#525252"/><stop offset=".481" stop-color="#595959"/><stop offset=".557" stop-color="#626262"/><stop offset=".652" stop-color="#7c7c7c"/><stop offset=".7" stop-color="#828282"/><stop offset=".738" stop-color="#808080"/><stop offset=".776" stop-color="#757575"/><stop offset=".81" stop-color="#646464"/><stop offset=".876" stop-color="#383838"/><stop offset=".91" stop-color="#262626"/><stop offset=".952" stop-color="#141414"/><stop offset="1" stop-color="#070707"/></linearGradient>
<linearGradient id="c57"><stop offset="0" stop-color="#000000"/><stop offset=".248" stop-color="#000000"/><stop offset=".286" stop-color="#050505"/><stop offset=".357" stop-color="#161616"/><stop offset=".467" stop-color="#393939"/><stop offset=".562" stop-color="#535353"/><stop offset=".648" stop-color="#707070"/><stop offset=".676" stop-color="#777777"/><stop offset=".71" stop-color="#7a7a7a"/><stop offset=".752" stop-color="#797979"/><stop offset=".79" stop-color="#717171"/><stop offset=".819" stop-color="#666666"/><stop offset=".905" stop-color="#414141"/><stop offset="1" stop-color="#212121"/></linearGradient>
<linearGradient id="c58"><stop offset="0" stop-color="#000000"/><stop offset=".414" stop-color="#000000"/><stop offset=".581" stop-color="#0a0a0a"/><stop offset=".738" stop-color="#181818"/><stop offset=".805" stop-color="#1b1b1b"/><stop offset=".9" stop-color="#181818"/><stop offset="1" stop-color="#0f0f0f"/></linearGradient>
<filter id="jetd" filterUnits="userSpaceOnUse" x="178" y="468.4" width="204.5" height="242" color-interpolation-filters="sRGB"><feGaussianBlur stdDeviation=".6 1.6"/><feComponentTransfer><feFuncR type="table" tableValues="0 0 0 0 .5 1 1 1 .5"/><feFuncG type="table" tableValues="0 0 .5 1 1 1 .5 0 0"/><feFuncB type="table" tableValues=".502 1 1 1 .5 0 0 0 0"/></feComponentTransfer></filter>
<linearGradient id="d0"><stop offset="0" stop-color="#000000"/><stop offset=".284" stop-color="#010101"/><stop offset=".342" stop-color="#1e1e1e"/><stop offset=".372" stop-color="#333333"/><stop offset=".396" stop-color="#3b3b3b"/><stop offset=".416" stop-color="#333333"/><stop offset=".45" stop-color="#202020"/><stop offset=".469" stop-color="#0d0d0d"/><stop offset=".489" stop-color="#010101"/><stop offset=".998" stop-color="#000000"/></linearGradient>
<linearGradient id="d1"><stop offset="0" stop-color="#000000"/><stop offset=".284" stop-color="#010101"/><stop offset=".342" stop-color="#1e1e1e"/><stop offset=".372" stop-color="#333333"/><stop offset=".396" stop-color="#3b3b3b"/><stop offset=".416" stop-color="#333333"/><stop offset=".45" stop-color="#202020"/><stop offset=".469" stop-color="#0d0d0d"/><stop offset=".489" stop-color="#010101"/><stop offset=".998" stop-color="#000000"/></linearGradient>
<linearGradient id="d2"><stop offset="0" stop-color="#000000"/><stop offset=".284" stop-color="#010101"/><stop offset=".342" stop-color="#1e1e1e"/><stop offset=".372" stop-color="#333333"/><stop offset=".396" stop-color="#3b3b3b"/><stop offset=".416" stop-color="#333333"/><stop offset=".45" stop-color="#202020"/><stop offset=".469" stop-color="#0d0d0d"/><stop offset=".489" stop-color="#010101"/><stop offset=".998" stop-color="#000000"/></linearGradient>
<linearGradient id="d3"><stop offset="0" stop-color="#000000"/><stop offset=".284" stop-color="#010101"/><stop offset=".342" stop-color="#1f1f1f"/><stop offset=".372" stop-color="#343434"/><stop offset=".396" stop-color="#3b3b3b"/><stop offset=".416" stop-color="#343434"/><stop offset=".45" stop-color="#212121"/><stop offset=".469" stop-color="#0d0d0d"/><stop offset=".489" stop-color="#010101"/><stop offset=".998" stop-color="#000000"/></linearGradient>
<linearGradient id="d4"><stop offset="0" stop-color="#000000"/><stop offset=".284" stop-color="#010101"/><stop offset=".342" stop-color="#1f1f1f"/><stop offset=".372" stop-color="#353535"/><stop offset=".396" stop-color="#3c3c3c"/><stop offset=".416" stop-color="#363636"/><stop offset=".435" stop-color="#2b2b2b"/><stop offset=".45" stop-color="#222222"/><stop offset=".469" stop-color="#0e0e0e"/><stop offset=".489" stop-color="#020202"/><stop offset=".998" stop-color="#000000"/></linearGradient>
<linearGradient id="d5"><stop offset="0" stop-color="#000000"/><stop offset=".284" stop-color="#020202"/><stop offset=".342" stop-color="#202020"/><stop offset=".372" stop-color="#363636"/><stop offset=".396" stop-color="#3d3d3d"/><stop offset=".43" stop-color="#303030"/><stop offset=".45" stop-color="#232323"/><stop offset=".469" stop-color="#0f0f0f"/><stop offset=".479" stop-color="#080808"/><stop offset=".489" stop-color="#020202"/><stop offset=".499" stop-color="#010101"/><stop offset=".998" stop-color="#000000"/></linearGradient>
<linearGradient id="d6"><stop offset="0" stop-color="#000000"/><stop offset=".279" stop-color="#010101"/><stop offset=".303" stop-color="#0b0b0b"/><stop offset=".337" stop-color="#1e1e1e"/><stop offset=".372" stop-color="#373737"/><stop offset=".396" stop-color="#3f3f3f"/><stop offset=".43" stop-color="#323232"/><stop offset=".45" stop-color="#242424"/><stop offset=".469" stop-color="#101010"/><stop offset=".479" stop-color="#090909"/><stop offset=".489" stop-color="#030303"/><stop offset=".499" stop-color="#010101"/><stop offset=".998" stop-color="#000000"/></linearGradient>
<linearGradient id="d7"><stop offset="0" stop-color="#000000"/><stop offset=".279" stop-color="#010101"/><stop offset=".303" stop-color="#0b0b0b"/><stop offset=".337" stop-color="#1e1e1e"/><stop offset=".372" stop-color="#383838"/><stop offset=".396" stop-color="#404040"/><stop offset=".43" stop-color="#343434"/><stop offset=".45" stop-color="#252525"/><stop offset=".469" stop-color="#111111"/><stop offset=".479" stop-color="#0a0a0a"/><stop offset=".489" stop-color="#040404"/><stop offset=".499" stop-color="#010101"/><stop offset=".998" stop-color="#000000"/></linearGradient>
<linearGradient id="d8"><stop offset="0" stop-color="#000000"/><stop offset=".279" stop-color="#010101"/><stop offset=".303" stop-color="#0c0c0c"/><stop offset=".337" stop-color="#1f1f1f"/><stop offset=".372" stop-color="#393939"/><stop offset=".396" stop-color="#414141"/><stop offset=".43" stop-color="#373737"/><stop offset=".479" stop-color="#0a0a0a"/><stop offset=".499" stop-color="#010101"/><stop offset=".998" stop-color="#000000"/></linearGradient>
<linearGradient id="d9"><stop offset="0" stop-color="#000000"/><stop offset=".279" stop-color="#010101"/><stop offset=".303" stop-color="#0c0c0c"/><stop offset=".337" stop-color="#1f1f1f"/><stop offset=".372" stop-color="#3a3a3a"/><stop offset=".401" stop-color="#424242"/><stop offset=".43" stop-color="#393939"/><stop offset=".479" stop-color="#0b0b0b"/><stop offset=".499" stop-color="#010101"/><stop offset=".998" stop-color="#000000"/></linearGradient>
<linearGradient id="d10"><stop offset="0" stop-color="#000000"/><stop offset=".279" stop-color="#010101"/><stop offset=".303" stop-color="#0c0c0c"/><stop offset=".337" stop-color="#202020"/><stop offset=".372" stop-color="#3b3b3b"/><stop offset=".401" stop-color="#444444"/><stop offset=".43" stop-color="#3b3b3b"/><stop offset=".479" stop-color="#0b0b0b"/><stop offset=".499" stop-color="#010101"/><stop offset=".998" stop-color="#000000"/></linearGradient>
<linearGradient id="d11"><stop offset="0" stop-color="#000000"/><stop offset=".279" stop-color="#010101"/><stop offset=".333" stop-color="#1d1d1d"/><stop offset=".372" stop-color="#3c3c3c"/><stop offset=".401" stop-color="#454545"/><stop offset=".43" stop-color="#3d3d3d"/><stop offset=".479" stop-color="#0c0c0c"/><stop offset=".499" stop-color="#010101"/><stop offset=".998" stop-color="#000000"/></linearGradient>
<linearGradient id="d12"><stop offset="0" stop-color="#000000"/><stop offset=".279" stop-color="#010101"/><stop offset=".333" stop-color="#1e1e1e"/><stop offset=".372" stop-color="#3d3d3d"/><stop offset=".401" stop-color="#474747"/><stop offset=".43" stop-color="#404040"/><stop offset=".479" stop-color="#0d0d0d"/><stop offset=".499" stop-color="#010101"/><stop offset=".998" stop-color="#000000"/></linearGradient>
<linearGradient id="d13"><stop offset="0" stop-color="#000000"/><stop offset=".279" stop-color="#010101"/><stop offset=".333" stop-color="#1f1f1f"/><stop offset=".372" stop-color="#3e3e3e"/><stop offset=".401" stop-color="#484848"/><stop offset=".43" stop-color="#444444"/><stop offset=".44" stop-color="#3b3b3b"/><stop offset=".46" stop-color="#252525"/><stop offset=".469" stop-color="#171717"/><stop offset=".479" stop-color="#0e0e0e"/><stop offset=".499" stop-color="#020202"/><stop offset=".998" stop-color="#000000"/></linearGradient>
<linearGradient id="d14"><stop offset="0" stop-color="#000000"/><stop offset=".279" stop-color="#020202"/><stop offset=".303" stop-color="#0e0e0e"/><stop offset=".333" stop-color="#202020"/><stop offset=".377" stop-color="#414141"/><stop offset=".401" stop-color="#4a4a4a"/><stop offset=".421" stop-color="#4b4b4b"/><stop offset=".43" stop-color="#4a4a4a"/><stop offset=".44" stop-color="#434343"/><stop offset=".46" stop-color="#2d2d2d"/><stop offset=".469" stop-color="#191919"/><stop offset=".479" stop-color="#101010"/><stop offset=".499" stop-color="#030303"/><stop offset=".513" stop-color="#010101"/><stop offset=".998" stop-color="#000000"/></linearGradient>
<linearGradient id="d15"><stop offset="0" stop-color="#000000"/><stop offset=".274" stop-color="#010101"/><stop offset=".303" stop-color="#0e0e0e"/><stop offset=".337" stop-color="#242424"/><stop offset=".377" stop-color="#414141"/><stop offset=".401" stop-color="#4c4c4c"/><stop offset=".425" stop-color="#515151"/><stop offset=".44" stop-color="#4c4c4c"/><stop offset=".46" stop-color="#363636"/><stop offset=".469" stop-color="#1b1b1b"/><stop offset=".479" stop-color="#121212"/><stop offset=".499" stop-color="#050505"/><stop offset=".513" stop-color="#010101"/><stop offset=".998" stop-color="#000000"/></linearGradient>
<linearGradient id="d16"><stop offset="0" stop-color="#000000"/><stop offset=".274" stop-color="#010101"/><stop offset=".303" stop-color="#0f0f0f"/><stop offset=".377" stop-color="#414141"/><stop offset=".401" stop-color="#4e4e4e"/><stop offset=".425" stop-color="#575757"/><stop offset=".44" stop-color="#545454"/><stop offset=".46" stop-color="#3f3f3f"/><stop offset=".469" stop-color="#1d1d1d"/><stop offset=".479" stop-color="#141414"/><stop offset=".489" stop-color="#0b0b0b"/><stop offset=".513" stop-color="#010101"/><stop offset=".998" stop-color="#000000"/></linearGradient>
<linearGradient id="d17"><stop offset="0" stop-color="#000000"/><stop offset=".274" stop-color="#010101"/><stop offset=".298" stop-color="#0d0d0d"/><stop offset=".401" stop-color="#515151"/><stop offset=".421" stop-color="#5b5b5b"/><stop offset=".43" stop-color="#5d5d5d"/><stop offset=".44" stop-color="#5c5c5c"/><stop offset=".46" stop-color="#484848"/><stop offset=".469" stop-color="#202020"/><stop offset=".489" stop-color="#0d0d0d"/><stop offset=".513" stop-color="#010101"/><stop offset=".998" stop-color="#000000"/></linearGradient>
<linearGradient id="d18"><stop offset="0" stop-color="#000000"/><stop offset=".274" stop-color="#010101"/><stop offset=".298" stop-color="#0d0d0d"/><stop offset=".421" stop-color="#606060"/><stop offset=".44" stop-color="#626262"/><stop offset=".46" stop-color="#505050"/><stop offset=".469" stop-color="#262626"/><stop offset=".489" stop-color="#121212"/><stop offset=".513" stop-color="#030303"/><stop offset=".548" stop-color="#010101"/><stop offset=".998" stop-color="#000000"/></linearGradient>
<linearGradient id="d19"><stop offset="0" stop-color="#000000"/><stop offset=".274" stop-color="#020202"/><stop offset=".298" stop-color="#0e0e0e"/><stop offset=".313" stop-color="#181818"/><stop offset=".421" stop-color="#656565"/><stop offset=".44" stop-color="#676767"/><stop offset=".46" stop-color="#575757"/><stop offset=".469" stop-color="#303030"/><stop offset=".489" stop-color="#191919"/><stop offset=".513" stop-color="#060606"/><stop offset=".528" stop-color="#030303"/><stop offset=".548" stop-color="#010101"/><stop offset=".998" stop-color="#000000"/></linearGradient>
<linearGradient id="d20"><stop offset="0" stop-color="#000000"/><stop offset=".274" stop-color="#030303"/><stop offset=".298" stop-color="#0f0f0f"/><stop offset=".318" stop-color="#1c1c1c"/><stop offset=".421" stop-color="#696969"/><stop offset=".44" stop-color="#6b6b6b"/><stop offset=".46" stop-color="#5d5d5d"/><stop offset=".469" stop-color="#3a3a3a"/><stop offset=".489" stop-color="#212121"/><stop offset=".509" stop-color="#0d0d0d"/><stop offset=".528" stop-color="#050505"/><stop offset=".548" stop-color="#010101"/><stop offset=".998" stop-color="#000000"/></linearGradient>
<linearGradient id="d21"><stop offset="0" stop-color="#000000"/><stop offset=".264" stop-color="#010101"/><stop offset=".274" stop-color="#030303"/><stop offset=".298" stop-color="#101010"/><stop offset=".318" stop-color="#1d1d1d"/><stop offset=".421" stop-color="#6e6e6e"/><stop offset=".44" stop-color="#6f6f6f"/><stop offset=".46" stop-color="#646464"/><stop offset=".469" stop-color="#454545"/><stop offset=".509" stop-color="#111111"/><stop offset=".528" stop-color="#060606"/><stop offset=".548" stop-color="#010101"/><stop offset=".998" stop-color="#000000"/></linearGradient>
<linearGradient id="d22"><stop offset="0" stop-color="#000000"/><stop offset=".264" stop-color="#010101"/><stop offset=".289" stop-color="#0b0b0b"/><stop offset=".318" stop-color="#1e1e1e"/><stop offset=".352" stop-color="#383838"/><stop offset=".386" stop-color="#575757"/><stop offset=".421" stop-color="#727272"/><stop offset=".44" stop-color="#737373"/><stop offset=".46" stop-color="#6b6b6b"/><stop offset=".469" stop-color="#505050"/><stop offset=".509" stop-color="#141414"/><stop offset=".528" stop-color="#080808"/><stop offset=".548" stop-color="#010101"/><stop offset=".998" stop-color="#000000"/></linearGradient>
<linearGradient id="d23"><stop offset="0" stop-color="#000000"/><stop offset=".264" stop-color="#010101"/><stop offset=".289" stop-color="#0b0b0b"/><stop offset=".318" stop-color="#1f1f1f"/><stop offset=".352" stop-color="#3a3a3a"/><stop offset=".386" stop-color="#5b5b5b"/><stop offset=".421" stop-color="#777777"/><stop offset=".44" stop-color="#777777"/><stop offset=".46" stop-color="#727272"/><stop offset=".469" stop-color="#5a5a5a"/><stop offset=".479" stop-color="#4c4c4c"/><stop offset=".509" stop-color="#181818"/><stop offset=".528" stop-color="#0a0a0a"/><stop offset=".548" stop-color="#010101"/><stop offset=".998" stop-color="#000000"/></linearGradient>
<linearGradient id="d24"><stop offset="0" stop-color="#000000"/><stop offset=".264" stop-color="#010101"/><stop offset=".289" stop-color="#0c0c0c"/><stop offset=".318" stop-color="#202020"/><stop offset=".352" stop-color="#3c3c3c"/><stop offset=".386" stop-color="#5e5e5e"/><stop offset=".421" stop-color="#7b7b7b"/><stop offset=".44" stop-color="#7b7b7b"/><stop offset=".46" stop-color="#797979"/><stop offset=".469" stop-color="#656565"/><stop offset=".479" stop-color="#565656"/><stop offset=".509" stop-color="#1c1c1c"/><stop offset=".528" stop-color="#0b0b0b"/><stop offset=".548" stop-color="#010101"/><stop offset=".998" stop-color="#000000"/></linearGradient>
<linearGradient id="d25"><stop offset="0" stop-color="#000000"/><stop offset=".264" stop-color="#010101"/><stop offset=".289" stop-color="#0d0d0d"/><stop offset=".318" stop-color="#212121"/><stop offset=".352" stop-color="#3d3d3d"/><stop offset=".386" stop-color="#616161"/><stop offset=".421" stop-color="#7e7e7e"/><stop offset=".44" stop-color="#7e7e7e"/><stop offset=".46" stop-color="#7e7e7e"/><stop offset=".479" stop-color="#5e5e5e"/><stop offset=".509" stop-color="#222222"/><stop offset=".528" stop-color="#0e0e0e"/><stop offset=".548" stop-color="#020202"/><stop offset=".998" stop-color="#000000"/></linearGradient>
<linearGradient id="d26"><stop offset="0" stop-color="#000000"/><stop offset=".264" stop-color="#020202"/><stop offset=".289" stop-color="#0d0d0d"/><stop offset=".318" stop-color="#222222"/><stop offset=".352" stop-color="#3f3f3f"/><stop offset=".386" stop-color="#636363"/><stop offset=".421" stop-color="#7f7f7f"/><stop offset=".44" stop-color="#7f7f7f"/><stop offset=".46" stop-color="#7f7f7f"/><stop offset=".479" stop-color="#626262"/><stop offset=".509" stop-color="#2c2c2c"/><stop offset=".528" stop-color="#151515"/><stop offset=".548" stop-color="#050505"/><stop offset=".587" stop-color="#010101"/><stop offset=".998" stop-color="#000000"/></linearGradient>
<linearGradient id="d27"><stop offset="0" stop-color="#000000"/><stop offset=".264" stop-color="#030303"/><stop offset=".289" stop-color="#0e0e0e"/><stop offset=".318" stop-color="#242424"/><stop offset=".352" stop-color="#414141"/><stop offset=".381" stop-color="#606060"/><stop offset=".421" stop-color="#7f7f7f"/><stop offset=".46" stop-color="#7f7f7f"/><stop offset=".528" stop-color="#1c1c1c"/><stop offset=".538" stop-color="#101010"/><stop offset=".548" stop-color="#090909"/><stop offset=".557" stop-color="#050505"/><stop offset=".587" stop-color="#010101"/><stop offset=".998" stop-color="#000000"/></linearGradient>
<linearGradient id="d28"><stop offset="0" stop-color="#000000"/><stop offset=".254" stop-color="#010101"/><stop offset=".264" stop-color="#030303"/><stop offset=".284" stop-color="#0c0c0c"/><stop offset=".318" stop-color="#252525"/><stop offset=".347" stop-color="#3e3e3e"/><stop offset=".377" stop-color="#5d5d5d"/><stop offset=".421" stop-color="#808080"/><stop offset=".46" stop-color="#808080"/><stop offset=".479" stop-color="#666666"/><stop offset=".509" stop-color="#444444"/><stop offset=".538" stop-color="#151515"/><stop offset=".557" stop-color="#080808"/><stop offset=".587" stop-color="#010101"/><stop offset=".998" stop-color="#000000"/></linearGradient>
<linearGradient id="d29"><stop offset="0" stop-color="#000000"/><stop offset=".254" stop-color="#010101"/><stop offset=".289" stop-color="#101010"/><stop offset=".342" stop-color="#3b3b3b"/><stop offset=".381" stop-color="#636363"/><stop offset=".421" stop-color="#808080"/><stop offset=".43" stop-color="#808080"/><stop offset=".46" stop-color="#808080"/><stop offset=".479" stop-color="#686868"/><stop offset=".509" stop-color="#505050"/><stop offset=".538" stop-color="#1a1a1a"/><stop offset=".557" stop-color="#0a0a0a"/><stop offset=".587" stop-color="#010101"/><stop offset=".998" stop-color="#000000"/></linearGradient>
<linearGradient id="d30"><stop offset="0" stop-color="#000000"/><stop offset=".254" stop-color="#010101"/><stop offset=".284" stop-color="#0d0d0d"/><stop offset=".342" stop-color="#3c3c3c"/><stop offset=".377" stop-color="#606060"/><stop offset=".421" stop-color="#808080"/><stop offset=".43" stop-color="#808080"/><stop offset=".46" stop-color="#808080"/><stop offset=".479" stop-color="#6a6a6a"/><stop offset=".509" stop-color="#5a5a5a"/><stop offset=".538" stop-color="#1f1f1f"/><stop offset=".557" stop-color="#0d0d0d"/><stop offset=".587" stop-color="#020202"/><stop offset=".998" stop-color="#000000"/></linearGradient>
<linearGradient id="d31"><stop offset="0" stop-color="#000000"/><stop offset=".254" stop-color="#020202"/><stop offset=".284" stop-color="#0e0e0e"/><stop offset=".342" stop-color="#3d3d3d"/><stop offset=".377" stop-color="#616161"/><stop offset=".421" stop-color="#808080"/><stop offset=".43" stop-color="#818181"/><stop offset=".46" stop-color="#808080"/><stop offset=".479" stop-color="#6c6c6c"/><stop offset=".509" stop-color="#5f5f5f"/><stop offset=".538" stop-color="#242424"/><stop offset=".557" stop-color="#111111"/><stop offset=".587" stop-color="#050505"/><stop offset=".65" stop-color="#010101"/><stop offset=".998" stop-color="#000000"/></linearGradient>
<linearGradient id="d32"><stop offset="0" stop-color="#000000"/><stop offset=".254" stop-color="#020202"/><stop offset=".284" stop-color="#0e0e0e"/><stop offset=".342" stop-color="#3e3e3e"/><stop offset=".377" stop-color="#616161"/><stop offset=".421" stop-color="#818181"/><stop offset=".43" stop-color="#828282"/><stop offset=".46" stop-color="#808080"/><stop offset=".479" stop-color="#6e6e6e"/><stop offset=".509" stop-color="#616161"/><stop offset=".538" stop-color="#282828"/><stop offset=".557" stop-color="#161616"/><stop offset=".587" stop-color="#090909"/><stop offset=".65" stop-color="#010101"/><stop offset=".998" stop-color="#000000"/></linearGradient>
<linearGradient id="d33"><stop offset="0" stop-color="#000000"/><stop offset=".235" stop-color="#010101"/><stop offset=".254" stop-color="#030303"/><stop offset=".284" stop-color="#0f0f0f"/><stop offset=".342" stop-color="#3f3f3f"/><stop offset=".377" stop-color="#616161"/><stop offset=".421" stop-color="#828282"/><stop offset=".43" stop-color="#848484"/><stop offset=".46" stop-color="#818181"/><stop offset=".479" stop-color="#6f6f6f"/><stop offset=".509" stop-color="#616161"/><stop offset=".538" stop-color="#2d2d2d"/><stop offset=".557" stop-color="#1b1b1b"/><stop offset=".587" stop-color="#0d0d0d"/><stop offset=".65" stop-color="#010101"/><stop offset=".998" stop-color="#000000"/></linearGradient>
<linearGradient id="d34"><stop offset="0" stop-color="#000000"/><stop offset=".235" stop-color="#010101"/><stop offset=".254" stop-color="#040404"/><stop offset=".284" stop-color="#101010"/><stop offset=".298" stop-color="#1b1b1b"/><stop offset=".347" stop-color="#444444"/><stop offset=".377" stop-color="#616161"/><stop offset=".421" stop-color="#828282"/><stop offset=".43" stop-color="#858585"/><stop offset=".46" stop-color="#818181"/><stop offset=".479" stop-color="#707070"/><stop offset=".509" stop-color="#626262"/><stop offset=".538" stop-color="#323232"/><stop offset=".557" stop-color="#202020"/><stop offset=".587" stop-color="#111111"/><stop offset=".626" stop-color="#050505"/><stop offset=".65" stop-color="#010101"/><stop offset=".998" stop-color="#000000"/></linearGradient>
<linearGradient id="d35"><stop offset="0" stop-color="#000000"/><stop offset=".235" stop-color="#010101"/><stop offset=".254" stop-color="#040404"/><stop offset=".284" stop-color="#111111"/><stop offset=".298" stop-color="#1c1c1c"/><stop offset=".347" stop-color="#454545"/><stop offset=".377" stop-color="#616161"/><stop offset=".421" stop-color="#838383"/><stop offset=".43" stop-color="#878787"/><stop offset=".46" stop-color="#828282"/><stop offset=".479" stop-color="#727272"/><stop offset=".509" stop-color="#636363"/><stop offset=".538" stop-color="#373737"/><stop offset=".557" stop-color="#252525"/><stop offset=".587" stop-color="#161616"/><stop offset=".626" stop-color="#070707"/><stop offset=".65" stop-color="#010101"/><stop offset=".998" stop-color="#000000"/></linearGradient>
<linearGradient id="d36"><stop offset="0" stop-color="#000000"/><stop offset=".235" stop-color="#010101"/><stop offset=".254" stop-color="#050505"/><stop offset=".269" stop-color="#0a0a0a"/><stop offset=".298" stop-color="#1d1d1d"/><stop offset=".347" stop-color="#464646"/><stop offset=".377" stop-color="#616161"/><stop offset=".421" stop-color="#848484"/><stop offset=".43" stop-color="#898989"/><stop offset=".46" stop-color="#838383"/><stop offset=".479" stop-color="#737373"/><stop offset=".509" stop-color="#636363"/><stop offset=".538" stop-color="#3c3c3c"/><stop offset=".557" stop-color="#2a2a2a"/><stop offset=".587" stop-color="#1a1a1a"/><stop offset=".626" stop-color="#080808"/><stop offset=".65" stop-color="#010101"/><stop offset=".998" stop-color="#000000"/></linearGradient>
<linearGradient id="d37"><stop offset="0" stop-color="#000000"/><stop offset=".235" stop-color="#010101"/><stop offset=".254" stop-color="#060606"/><stop offset=".269" stop-color="#0b0b0b"/><stop offset=".298" stop-color="#1e1e1e"/><stop offset=".411" stop-color="#7d7d7d"/><stop offset=".43" stop-color="#8a8a8a"/><stop offset=".46" stop-color="#838383"/><stop offset=".479" stop-color="#757575"/><stop offset=".509" stop-color="#646464"/><stop offset=".538" stop-color="#414141"/><stop offset=".557" stop-color="#303030"/><stop offset=".626" stop-color="#090909"/><stop offset=".65" stop-color="#010101"/><stop offset=".998" stop-color="#000000"/></linearGradient>
<linearGradient id="d38"><stop offset="0" stop-color="#000000"/><stop offset=".235" stop-color="#010101"/><stop offset=".254" stop-color="#060606"/><stop offset=".269" stop-color="#0c0c0c"/><stop offset=".298" stop-color="#1e1e1e"/><stop offset=".411" stop-color="#7e7e7e"/><stop offset=".43" stop-color="#8c8c8c"/><stop offset=".46" stop-color="#848484"/><stop offset=".509" stop-color="#656565"/><stop offset=".538" stop-color="#464646"/><stop offset=".557" stop-color="#353535"/><stop offset=".626" stop-color="#0a0a0a"/><stop offset=".65" stop-color="#010101"/><stop offset=".998" stop-color="#000000"/></linearGradient>
<linearGradient id="d39"><stop offset="0" stop-color="#000000"/><stop offset=".235" stop-color="#010101"/><stop offset=".254" stop-color="#070707"/><stop offset=".269" stop-color="#0c0c0c"/><stop offset=".298" stop-color="#1f1f1f"/><stop offset=".411" stop-color="#7f7f7f"/><stop offset=".43" stop-color="#8d8d8d"/><stop offset=".46" stop-color="#848484"/><stop offset=".509" stop-color="#656565"/><stop offset=".557" stop-color="#3a3a3a"/><stop offset=".601" stop-color="#1e1e1e"/><stop offset=".626" stop-color="#0c0c0c"/><stop offset=".65" stop-color="#010101"/><stop offset=".998" stop-color="#000000"/></linearGradient>
<linearGradient id="d40"><stop offset="0" stop-color="#000000"/><stop offset=".235" stop-color="#010101"/><stop offset=".269" stop-color="#0d0d0d"/><stop offset=".298" stop-color="#202020"/><stop offset=".43" stop-color="#8d8d8d"/><stop offset=".46" stop-color="#838383"/><stop offset=".489" stop-color="#727272"/><stop offset=".518" stop-color="#5e5e5e"/><stop offset=".557" stop-color="#3e3e3e"/><stop offset=".601" stop-color="#212121"/><stop offset=".626" stop-color="#0d0d0d"/><stop offset=".65" stop-color="#020202"/><stop offset=".998" stop-color="#000000"/></linearGradient>
<linearGradient id="d41"><stop offset="0" stop-color="#000000"/><stop offset=".235" stop-color="#020202"/><stop offset=".269" stop-color="#0f0f0f"/><stop offset=".298" stop-color="#222222"/><stop offset=".411" stop-color="#7c7c7c"/><stop offset=".43" stop-color="#8a8a8a"/><stop offset=".46" stop-color="#808080"/><stop offset=".489" stop-color="#6f6f6f"/><stop offset=".518" stop-color="#5d5d5d"/><stop offset=".557" stop-color="#3f3f3f"/><stop offset=".601" stop-color="#232323"/><stop offset=".626" stop-color="#101010"/><stop offset=".65" stop-color="#050505"/><stop offset=".719" stop-color="#010101"/><stop offset=".998" stop-color="#000000"/></linearGradient>
<linearGradient id="d42"><stop offset="0" stop-color="#000000"/><stop offset=".21" stop-color="#010101"/><stop offset=".235" stop-color="#030303"/><stop offset=".269" stop-color="#101010"/><stop offset=".298" stop-color="#232323"/><stop offset=".386" stop-color="#676767"/><stop offset=".43" stop-color="#858585"/><stop offset=".46" stop-color="#7c7c7c"/><stop offset=".489" stop-color="#6c6c6c"/><stop offset=".626" stop-color="#131313"/><stop offset=".65" stop-color="#080808"/><stop offset=".719" stop-color="#010101"/><stop offset=".998" stop-color="#000000"/></linearGradient>
<linearGradient id="d43"><stop offset="0" stop-color="#000000"/><stop offset=".21" stop-color="#010101"/><stop offset=".235" stop-color="#040404"/><stop offset=".269" stop-color="#121212"/><stop offset=".279" stop-color="#181818"/><stop offset=".386" stop-color="#666666"/><stop offset=".421" stop-color="#7c7c7c"/><stop offset=".43" stop-color="#808080"/><stop offset=".46" stop-color="#787878"/><stop offset=".489" stop-color="#696969"/><stop offset=".518" stop-color="#585858"/><stop offset=".557" stop-color="#3e3e3e"/><stop offset=".601" stop-color="#262626"/><stop offset=".626" stop-color="#171717"/><stop offset=".65" stop-color="#0c0c0c"/><stop offset=".675" stop-color="#060606"/><stop offset=".719" stop-color="#010101"/><stop offset=".998" stop-color="#000000"/></linearGradient>
<linearGradient id="d44"><stop offset="0" stop-color="#000000"/><stop offset=".21" stop-color="#010101"/><stop offset=".235" stop-color="#050505"/><stop offset=".269" stop-color="#141414"/><stop offset=".386" stop-color="#656565"/><stop offset=".421" stop-color="#787878"/><stop offset=".43" stop-color="#7b7b7b"/><stop offset=".46" stop-color="#747474"/><stop offset=".499" stop-color="#616161"/><stop offset=".553" stop-color="#404040"/><stop offset=".626" stop-color="#1a1a1a"/><stop offset=".65" stop-color="#0f0f0f"/><stop offset=".675" stop-color="#070707"/><stop offset=".719" stop-color="#010101"/><stop offset=".998" stop-color="#000000"/></linearGradient>
<linearGradient id="d45"><stop offset="0" stop-color="#000000"/><stop offset=".21" stop-color="#010101"/><stop offset=".235" stop-color="#070707"/><stop offset=".279" stop-color="#1c1c1c"/><stop offset=".386" stop-color="#646464"/><stop offset=".421" stop-color="#747474"/><stop offset=".43" stop-color="#767676"/><stop offset=".46" stop-color="#707070"/><stop offset=".499" stop-color="#5e5e5e"/><stop offset=".557" stop-color="#3d3d3d"/><stop offset=".675" stop-color="#090909"/><stop offset=".719" stop-color="#010101"/><stop offset=".998" stop-color="#000000"/></linearGradient>
<linearGradient id="d46"><stop offset="0" stop-color="#000000"/><stop offset=".21" stop-color="#010101"/><stop offset=".244" stop-color="#0b0b0b"/><stop offset=".269" stop-color="#181818"/><stop offset=".328" stop-color="#3f3f3f"/><stop offset=".386" stop-color="#626262"/><stop offset=".421" stop-color="#717171"/><stop offset=".43" stop-color="#717171"/><stop offset=".46" stop-color="#6c6c6c"/><stop offset=".499" stop-color="#5b5b5b"/><stop offset=".548" stop-color="#414141"/><stop offset=".641" stop-color="#1b1b1b"/><stop offset=".675" stop-color="#0a0a0a"/><stop offset=".719" stop-color="#010101"/><stop offset=".998" stop-color="#000000"/></linearGradient>
<linearGradient id="d47"><stop offset="0" stop-color="#000000"/><stop offset=".21" stop-color="#010101"/><stop offset=".244" stop-color="#0c0c0c"/><stop offset=".279" stop-color="#1f1f1f"/><stop offset=".328" stop-color="#3f3f3f"/><stop offset=".381" stop-color="#5e5e5e"/><stop offset=".421" stop-color="#6c6c6c"/><stop offset=".46" stop-color="#686868"/><stop offset=".499" stop-color="#585858"/><stop offset=".548" stop-color="#404040"/><stop offset=".641" stop-color="#1f1f1f"/><stop offset=".675" stop-color="#0d0d0d"/><stop offset=".719" stop-color="#020202"/><stop offset=".998" stop-color="#000000"/></linearGradient>
<linearGradient id="d48"><stop offset="0" stop-color="#000000"/><stop offset=".21" stop-color="#010101"/><stop offset=".244" stop-color="#0e0e0e"/><stop offset=".328" stop-color="#3e3e3e"/><stop offset=".381" stop-color="#5a5a5a"/><stop offset=".421" stop-color="#676767"/><stop offset=".46" stop-color="#636363"/><stop offset=".499" stop-color="#565656"/><stop offset=".548" stop-color="#404040"/><stop offset=".641" stop-color="#242424"/><stop offset=".675" stop-color="#111111"/><stop offset=".719" stop-color="#050505"/><stop offset=".866" stop-color="#010101"/><stop offset=".998" stop-color="#000000"/></linearGradient>
<linearGradient id="d49"><stop offset="0" stop-color="#000000"/><stop offset=".21" stop-color="#010101"/><stop offset=".244" stop-color="#0f0f0f"/><stop offset=".328" stop-color="#3b3b3b"/><stop offset=".381" stop-color="#545454"/><stop offset=".421" stop-color="#606060"/><stop offset=".46" stop-color="#5d5d5d"/><stop offset=".489" stop-color="#565656"/><stop offset=".548" stop-color="#424242"/><stop offset=".636" stop-color="#2b2b2b"/><stop offset=".675" stop-color="#171717"/><stop offset=".719" stop-color="#0a0a0a"/><stop offset=".866" stop-color="#010101"/><stop offset=".998" stop-color="#000000"/></linearGradient>
<linearGradient id="d50"><stop offset="0" stop-color="#000000"/><stop offset=".21" stop-color="#010101"/><stop offset=".235" stop-color="#0b0b0b"/><stop offset=".259" stop-color="#1a1a1a"/><stop offset=".328" stop-color="#383838"/><stop offset=".381" stop-color="#4d4d4d"/><stop offset=".421" stop-color="#585858"/><stop offset=".46" stop-color="#585858"/><stop offset=".489" stop-color="#545454"/><stop offset=".548" stop-color="#434343"/><stop offset=".636" stop-color="#313131"/><stop offset=".675" stop-color="#1e1e1e"/><stop offset=".719" stop-color="#0f0f0f"/><stop offset=".866" stop-color="#010101"/><stop offset=".998" stop-color="#000000"/></linearGradient>
<linearGradient id="d51"><stop offset="0" stop-color="#000000"/><stop offset=".21" stop-color="#010101"/><stop offset=".235" stop-color="#0c0c0c"/><stop offset=".259" stop-color="#1d1d1d"/><stop offset=".381" stop-color="#474747"/><stop offset=".421" stop-color="#515151"/><stop offset=".46" stop-color="#525252"/><stop offset=".489" stop-color="#515151"/><stop offset=".548" stop-color="#444444"/><stop offset=".636" stop-color="#373737"/><stop offset=".675" stop-color="#242424"/><stop offset=".709" stop-color="#171717"/><stop offset=".792" stop-color="#090909"/><stop offset=".866" stop-color="#010101"/><stop offset=".998" stop-color="#000000"/></linearGradient>
<linearGradient id="d52"><stop offset="0" stop-color="#000000"/><stop offset=".21" stop-color="#010101"/><stop offset=".235" stop-color="#0c0c0c"/><stop offset=".259" stop-color="#1e1e1e"/><stop offset=".381" stop-color="#404040"/><stop offset=".421" stop-color="#494949"/><stop offset=".489" stop-color="#4d4d4d"/><stop offset=".636" stop-color="#3b3b3b"/><stop offset=".709" stop-color="#1d1d1d"/><stop offset=".792" stop-color="#0c0c0c"/><stop offset=".866" stop-color="#010101"/><stop offset=".998" stop-color="#000000"/></linearGradient>
<linearGradient id="d53"><stop offset="0" stop-color="#000000"/><stop offset=".21" stop-color="#020202"/><stop offset=".235" stop-color="#0d0d0d"/><stop offset=".259" stop-color="#1e1e1e"/><stop offset=".279" stop-color="#232323"/><stop offset=".416" stop-color="#424242"/><stop offset=".489" stop-color="#494949"/><stop offset=".636" stop-color="#3c3c3c"/><stop offset=".709" stop-color="#212121"/><stop offset=".866" stop-color="#030303"/><stop offset=".998" stop-color="#000000"/></linearGradient>
<linearGradient id="d54"><stop offset="0" stop-color="#000000"/><stop offset=".196" stop-color="#010101"/><stop offset=".21" stop-color="#030303"/><stop offset=".235" stop-color="#0e0e0e"/><stop offset=".259" stop-color="#1d1d1d"/><stop offset=".279" stop-color="#232323"/><stop offset=".416" stop-color="#3c3c3c"/><stop offset=".489" stop-color="#434343"/><stop offset=".567" stop-color="#404040"/><stop offset=".636" stop-color="#3a3a3a"/><stop offset=".709" stop-color="#242424"/><stop offset=".822" stop-color="#121212"/><stop offset=".87" stop-color="#060606"/><stop offset=".914" stop-color="#010101"/><stop offset=".998" stop-color="#000000"/></linearGradient>
<linearGradient id="d55"><stop offset="0" stop-color="#000000"/><stop offset=".196" stop-color="#010101"/><stop offset=".21" stop-color="#050505"/><stop offset=".259" stop-color="#1b1b1b"/><stop offset=".279" stop-color="#212121"/><stop offset=".416" stop-color="#353535"/><stop offset=".489" stop-color="#3c3c3c"/><stop offset=".533" stop-color="#3d3d3d"/><stop offset=".636" stop-color="#363636"/><stop offset=".709" stop-color="#262626"/><stop offset=".822" stop-color="#181818"/><stop offset=".87" stop-color="#090909"/><stop offset=".914" stop-color="#010101"/><stop offset=".998" stop-color="#000000"/></linearGradient>
<linearGradient id="d56"><stop offset="0" stop-color="#000000"/><stop offset=".196" stop-color="#010101"/><stop offset=".279" stop-color="#202020"/><stop offset=".416" stop-color="#303030"/><stop offset=".533" stop-color="#393939"/><stop offset=".567" stop-color="#393939"/><stop offset=".822" stop-color="#1d1d1d"/><stop offset=".87" stop-color="#0c0c0c"/><stop offset=".914" stop-color="#010101"/><stop offset=".998" stop-color="#000000"/></linearGradient>
<linearGradient id="d57"><stop offset="0" stop-color="#000000"/><stop offset=".196" stop-color="#010101"/><stop offset=".284" stop-color="#202020"/><stop offset=".533" stop-color="#363636"/><stop offset=".567" stop-color="#363636"/><stop offset=".685" stop-color="#2a2a2a"/><stop offset=".822" stop-color="#202020"/><stop offset=".88" stop-color="#0b0b0b"/><stop offset=".914" stop-color="#030303"/><stop offset=".998" stop-color="#000000"/></linearGradient>
<linearGradient id="d58"><stop offset="0" stop-color="#000000"/><stop offset=".196" stop-color="#010101"/><stop offset=".284" stop-color="#202020"/><stop offset=".533" stop-color="#343434"/><stop offset=".567" stop-color="#343434"/><stop offset=".831" stop-color="#1f1f1f"/><stop offset=".88" stop-color="#0c0c0c"/><stop offset=".929" stop-color="#010101"/><stop offset=".998" stop-color="#000000"/></linearGradient>
<linearGradient id="d59"><stop offset="0" stop-color="#000000"/><stop offset=".196" stop-color="#010101"/><stop offset=".284" stop-color="#202020"/><stop offset=".533" stop-color="#333333"/><stop offset=".567" stop-color="#333333"/><stop offset=".685" stop-color="#292929"/><stop offset=".831" stop-color="#202020"/><stop offset=".88" stop-color="#0d0d0d"/><stop offset=".929" stop-color="#010101"/><stop offset=".998" stop-color="#000000"/></linearGradient>
<linearGradient id="d60"><stop offset="0" stop-color="#000000"/><stop offset=".196" stop-color="#010101"/><stop offset=".284" stop-color="#202020"/><stop offset=".533" stop-color="#333333"/><stop offset=".567" stop-color="#333333"/><stop offset=".685" stop-color="#292929"/><stop offset=".831" stop-color="#202020"/><stop offset=".88" stop-color="#0d0d0d"/><stop offset=".929" stop-color="#010101"/><stop offset=".998" stop-color="#000000"/></linearGradient>
<filter id="jete" filterUnits="userSpaceOnUse" x="399.6" y="468.4" width="204.2" height="242" color-interpolation-filters="sRGB"><feGaussianBlur stdDeviation=".6 1.6"/><feComponentTransfer><feFuncR type="table" tableValues="0 0 0 0 .5 1 1 1 .5"/><feFuncG type="table" tableValues="0 0 .5 1 1 1 .5 0 0"/><feFuncB type="table" tableValues=".502 1 1 1 .5 0 0 0 0"/></feComponentTransfer></filter>
<linearGradient id="e0"><stop offset="0" stop-color="#000000"/><stop offset=".284" stop-color="#010101"/><stop offset=".304" stop-color="#060606"/><stop offset=".343" stop-color="#1e1e1e"/><stop offset=".367" stop-color="#212121"/><stop offset=".387" stop-color="#1e1e1e"/><stop offset=".426" stop-color="#060606"/><stop offset=".451" stop-color="#000000"/><stop offset=".999" stop-color="#000000"/></linearGradient>
<linearGradient id="e1"><stop offset="0" stop-color="#000000"/><stop offset=".284" stop-color="#010101"/><stop offset=".304" stop-color="#060606"/><stop offset=".343" stop-color="#1e1e1e"/><stop offset=".367" stop-color="#212121"/><stop offset=".387" stop-color="#1e1e1e"/><stop offset=".426" stop-color="#060606"/><stop offset=".451" stop-color="#000000"/><stop offset=".999" stop-color="#000000"/></linearGradient>
<linearGradient id="e2"><stop offset="0" stop-color="#000000"/><stop offset=".284" stop-color="#010101"/><stop offset=".304" stop-color="#070707"/><stop offset=".333" stop-color="#1a1a1a"/><stop offset=".343" stop-color="#1f1f1f"/><stop offset=".367" stop-color="#222222"/><stop offset=".392" stop-color="#1d1d1d"/><stop offset=".426" stop-color="#070707"/><stop offset=".451" stop-color="#010101"/><stop offset=".999" stop-color="#000000"/></linearGradient>
<linearGradient id="e3"><stop offset="0" stop-color="#000000"/><stop offset=".284" stop-color="#010101"/><stop offset=".304" stop-color="#070707"/><stop offset=".338" stop-color="#1d1d1d"/><stop offset=".353" stop-color="#212121"/><stop offset=".367" stop-color="#222222"/><stop offset=".392" stop-color="#1d1d1d"/><stop offset=".426" stop-color="#070707"/><stop offset=".451" stop-color="#010101"/><stop offset=".999" stop-color="#000000"/></linearGradient>
<linearGradient id="e4"><stop offset="0" stop-color="#000000"/><stop offset=".279" stop-color="#010101"/><stop offset=".304" stop-color="#070707"/><stop offset=".333" stop-color="#1b1b1b"/><stop offset=".343" stop-color="#202020"/><stop offset=".367" stop-color="#222222"/><stop offset=".387" stop-color="#202020"/><stop offset=".397" stop-color="#1b1b1b"/><stop offset=".431" stop-color="#050505"/><stop offset=".455" stop-color="#000000"/><stop offset=".999" stop-color="#000000"/></linearGradient>
<linearGradient id="e5"><stop offset="0" stop-color="#000000"/><stop offset=".279" stop-color="#010101"/><stop offset=".304" stop-color="#070707"/><stop offset=".328" stop-color="#181818"/><stop offset=".343" stop-color="#202020"/><stop offset=".367" stop-color="#222222"/><stop offset=".392" stop-color="#1e1e1e"/><stop offset=".431" stop-color="#050505"/><stop offset=".455" stop-color="#000000"/><stop offset=".999" stop-color="#000000"/></linearGradient>
<linearGradient id="e6"><stop offset="0" stop-color="#000000"/><stop offset=".279" stop-color="#010101"/><stop offset=".304" stop-color="#070707"/><stop offset=".333" stop-color="#1c1c1c"/><stop offset=".343" stop-color="#202020"/><stop offset=".367" stop-color="#232323"/><stop offset=".392" stop-color="#1e1e1e"/><stop offset=".431" stop-color="#050505"/><stop offset=".455" stop-color="#000000"/><stop offset=".999" stop-color="#000000"/></linearGradient>
<linearGradient id="e7"><stop offset="0" stop-color="#000000"/><stop offset=".279" stop-color="#010101"/><stop offset=".304" stop-color="#070707"/><stop offset=".333" stop-color="#1c1c1c"/><stop offset=".343" stop-color="#202020"/><stop offset=".367" stop-color="#232323"/><stop offset=".387" stop-color="#202020"/><stop offset=".397" stop-color="#1c1c1c"/><stop offset=".431" stop-color="#050505"/><stop offset=".455" stop-color="#010101"/><stop offset=".999" stop-color="#000000"/></linearGradient>
<linearGradient id="e8"><stop offset="0" stop-color="#000000"/><stop offset=".279" stop-color="#010101"/><stop offset=".304" stop-color="#070707"/><stop offset=".333" stop-color="#1c1c1c"/><stop offset=".343" stop-color="#202020"/><stop offset=".367" stop-color="#232323"/><stop offset=".392" stop-color="#1f1f1f"/><stop offset=".431" stop-color="#050505"/><stop offset=".455" stop-color="#010101"/><stop offset=".999" stop-color="#000000"/></linearGradient>
<linearGradient id="e9"><stop offset="0" stop-color="#000000"/><stop offset=".284" stop-color="#010101"/><stop offset=".304" stop-color="#070707"/><stop offset=".343" stop-color="#202020"/><stop offset=".367" stop-color="#242424"/><stop offset=".392" stop-color="#1f1f1f"/><stop offset=".431" stop-color="#050505"/><stop offset=".455" stop-color="#010101"/><stop offset=".999" stop-color="#000000"/></linearGradient>
<linearGradient id="e10"><stop offset="0" stop-color="#000000"/><stop offset=".284" stop-color="#010101"/><stop offset=".304" stop-color="#070707"/><stop offset=".343" stop-color="#202020"/><stop offset=".367" stop-color="#242424"/><stop offset=".392" stop-color="#1e1e1e"/><stop offset=".431" stop-color="#050505"/><stop offset=".455" stop-color="#010101"/><stop offset=".999" stop-color="#000000"/></linearGradient>
<linearGradient id="e11"><stop offset="0" stop-color="#000000"/><stop offset=".284" stop-color="#010101"/><stop offset=".304" stop-color="#070707"/><stop offset=".343" stop-color="#202020"/><stop offset=".367" stop-color="#242424"/><stop offset=".392" stop-color="#1e1e1e"/><stop offset=".431" stop-color="#050505"/><stop offset=".455" stop-color="#010101"/><stop offset=".999" stop-color="#000000"/></linearGradient>
<linearGradient id="e12"><stop offset="0" stop-color="#000000"/><stop offset=".284" stop-color="#010101"/><stop offset=".304" stop-color="#070707"/><stop offset=".343" stop-color="#202020"/><stop offset=".367" stop-color="#242424"/><stop offset=".392" stop-color="#1e1e1e"/><stop offset=".431" stop-color="#050505"/><stop offset=".455" stop-color="#010101"/><stop offset=".999" stop-color="#000000"/></linearGradient>
<linearGradient id="e13"><stop offset="0" stop-color="#000000"/><stop offset=".284" stop-color="#010101"/><stop offset=".304" stop-color="#060606"/><stop offset=".343" stop-color="#1f1f1f"/><stop offset=".367" stop-color="#242424"/><stop offset=".382" stop-color="#222222"/><stop offset=".392" stop-color="#1d1d1d"/><stop offset=".431" stop-color="#050505"/><stop offset=".455" stop-color="#010101"/><stop offset=".999" stop-color="#000000"/></linearGradient>
<linearGradient id="e14"><stop offset="0" stop-color="#000000"/><stop offset=".284" stop-color="#010101"/><stop offset=".309" stop-color="#090909"/><stop offset=".343" stop-color="#1e1e1e"/><stop offset=".367" stop-color="#242424"/><stop offset=".387" stop-color="#1f1f1f"/><stop offset=".431" stop-color="#050505"/><stop offset=".455" stop-color="#010101"/><stop offset=".999" stop-color="#000000"/></linearGradient>
<linearGradient id="e15"><stop offset="0" stop-color="#000000"/><stop offset=".284" stop-color="#010101"/><stop offset=".309" stop-color="#080808"/><stop offset=".348" stop-color="#202020"/><stop offset=".367" stop-color="#232323"/><stop offset=".387" stop-color="#1f1f1f"/><stop offset=".431" stop-color="#050505"/><stop offset=".46" stop-color="#010101"/><stop offset=".999" stop-color="#000000"/></linearGradient>
<linearGradient id="e16"><stop offset="0" stop-color="#000000"/><stop offset=".284" stop-color="#010101"/><stop offset=".309" stop-color="#080808"/><stop offset=".348" stop-color="#1f1f1f"/><stop offset=".367" stop-color="#232323"/><stop offset=".387" stop-color="#1e1e1e"/><stop offset=".431" stop-color="#050505"/><stop offset=".46" stop-color="#010101"/><stop offset=".999" stop-color="#000000"/></linearGradient>
<linearGradient id="e17"><stop offset="0" stop-color="#000000"/><stop offset=".284" stop-color="#010101"/><stop offset=".309" stop-color="#080808"/><stop offset=".348" stop-color="#1e1e1e"/><stop offset=".367" stop-color="#222222"/><stop offset=".387" stop-color="#1d1d1d"/><stop offset=".426" stop-color="#070707"/><stop offset=".46" stop-color="#010101"/><stop offset=".999" stop-color="#000000"/></linearGradient>
<linearGradient id="e18"><stop offset="0" stop-color="#000000"/><stop offset=".284" stop-color="#020202"/><stop offset=".309" stop-color="#070707"/><stop offset=".348" stop-color="#1d1d1d"/><stop offset=".367" stop-color="#212121"/><stop offset=".387" stop-color="#1c1c1c"/><stop offset=".416" stop-color="#0c0c0c"/><stop offset=".431" stop-color="#050505"/><stop offset=".465" stop-color="#010101"/><stop offset=".999" stop-color="#000000"/></linearGradient>
<linearGradient id="e19"><stop offset="0" stop-color="#000000"/><stop offset=".284" stop-color="#020202"/><stop offset=".309" stop-color="#070707"/><stop offset=".348" stop-color="#1c1c1c"/><stop offset=".367" stop-color="#202020"/><stop offset=".387" stop-color="#1b1b1b"/><stop offset=".426" stop-color="#070707"/><stop offset=".465" stop-color="#010101"/><stop offset=".999" stop-color="#000000"/></linearGradient>
<linearGradient id="e20"><stop offset="0" stop-color="#000000"/><stop offset=".284" stop-color="#020202"/><stop offset=".309" stop-color="#070707"/><stop offset=".348" stop-color="#1b1b1b"/><stop offset=".367" stop-color="#1f1f1f"/><stop offset=".387" stop-color="#1a1a1a"/><stop offset=".431" stop-color="#060606"/><stop offset=".47" stop-color="#010101"/><stop offset=".999" stop-color="#000000"/></linearGradient>
<linearGradient id="e21"><stop offset="0" stop-color="#000000"/><stop offset=".279" stop-color="#010101"/><stop offset=".309" stop-color="#070707"/><stop offset=".348" stop-color="#191919"/><stop offset=".367" stop-color="#1d1d1d"/><stop offset=".387" stop-color="#191919"/><stop offset=".431" stop-color="#060606"/><stop offset=".47" stop-color="#010101"/><stop offset=".999" stop-color="#000000"/></linearGradient>
<linearGradient id="e22"><stop offset="0" stop-color="#000000"/><stop offset=".279" stop-color="#010101"/><stop offset=".309" stop-color="#060606"/><stop offset=".348" stop-color="#181818"/><stop offset=".367" stop-color="#1c1c1c"/><stop offset=".387" stop-color="#181818"/><stop offset=".431" stop-color="#060606"/><stop offset=".475" stop-color="#010101"/><stop offset=".999" stop-color="#000000"/></linearGradient>
<linearGradient id="e23"><stop offset="0" stop-color="#000000"/><stop offset=".279" stop-color="#010101"/><stop offset=".309" stop-color="#060606"/><stop offset=".348" stop-color="#171717"/><stop offset=".367" stop-color="#1a1a1a"/><stop offset=".382" stop-color="#181818"/><stop offset=".431" stop-color="#060606"/><stop offset=".475" stop-color="#010101"/><stop offset=".999" stop-color="#000000"/></linearGradient>
<linearGradient id="e24"><stop offset="0" stop-color="#000000"/><stop offset=".279" stop-color="#020202"/><stop offset=".309" stop-color="#060606"/><stop offset=".348" stop-color="#151515"/><stop offset=".367" stop-color="#191919"/><stop offset=".382" stop-color="#171717"/><stop offset=".431" stop-color="#060606"/><stop offset=".48" stop-color="#010101"/><stop offset=".999" stop-color="#000000"/></linearGradient>
<linearGradient id="e25"><stop offset="0" stop-color="#000000"/><stop offset=".274" stop-color="#010101"/><stop offset=".309" stop-color="#060606"/><stop offset=".348" stop-color="#141414"/><stop offset=".367" stop-color="#171717"/><stop offset=".387" stop-color="#141414"/><stop offset=".431" stop-color="#060606"/><stop offset=".48" stop-color="#010101"/><stop offset=".999" stop-color="#000000"/></linearGradient>
<linearGradient id="e26"><stop offset="0" stop-color="#000000"/><stop offset=".274" stop-color="#010101"/><stop offset=".309" stop-color="#060606"/><stop offset=".348" stop-color="#131313"/><stop offset=".367" stop-color="#161616"/><stop offset=".382" stop-color="#141414"/><stop offset=".436" stop-color="#060606"/><stop offset=".485" stop-color="#010101"/><stop offset=".999" stop-color="#000000"/></linearGradient>
<linearGradient id="e27"><stop offset="0" stop-color="#000000"/><stop offset=".269" stop-color="#010101"/><stop offset=".304" stop-color="#050505"/><stop offset=".353" stop-color="#131313"/><stop offset=".367" stop-color="#151515"/><stop offset=".387" stop-color="#121212"/><stop offset=".436" stop-color="#060606"/><stop offset=".49" stop-color="#010101"/><stop offset=".999" stop-color="#000000"/></linearGradient>
<linearGradient id="e28"><stop offset="0" stop-color="#000000"/><stop offset=".269" stop-color="#010101"/><stop offset=".304" stop-color="#050505"/><stop offset=".353" stop-color="#121212"/><stop offset=".367" stop-color="#141414"/><stop offset=".387" stop-color="#121212"/><stop offset=".441" stop-color="#050505"/><stop offset=".495" stop-color="#010101"/><stop offset=".999" stop-color="#000000"/></linearGradient>
<linearGradient id="e29"><stop offset="0" stop-color="#000000"/><stop offset=".264" stop-color="#010101"/><stop offset=".304" stop-color="#050505"/><stop offset=".367" stop-color="#131313"/><stop offset=".387" stop-color="#111111"/><stop offset=".446" stop-color="#050505"/><stop offset=".5" stop-color="#010101"/><stop offset=".999" stop-color="#000000"/></linearGradient>
<linearGradient id="e30"><stop offset="0" stop-color="#000000"/><stop offset=".264" stop-color="#010101"/><stop offset=".304" stop-color="#050505"/><stop offset=".353" stop-color="#101010"/><stop offset=".372" stop-color="#121212"/><stop offset=".446" stop-color="#050505"/><stop offset=".504" stop-color="#020202"/><stop offset=".999" stop-color="#000000"/></linearGradient>
<linearGradient id="e31"><stop offset="0" stop-color="#000000"/><stop offset=".26" stop-color="#010101"/><stop offset=".299" stop-color="#050505"/><stop offset=".353" stop-color="#101010"/><stop offset=".372" stop-color="#111111"/><stop offset=".451" stop-color="#050505"/><stop offset=".514" stop-color="#020202"/><stop offset=".999" stop-color="#000000"/></linearGradient>
<linearGradient id="e32"><stop offset="0" stop-color="#000000"/><stop offset=".26" stop-color="#020202"/><stop offset=".299" stop-color="#050505"/><stop offset=".353" stop-color="#0f0f0f"/><stop offset=".372" stop-color="#111111"/><stop offset=".46" stop-color="#050505"/><stop offset=".529" stop-color="#020202"/><stop offset=".999" stop-color="#000000"/></linearGradient>
<linearGradient id="e33"><stop offset="0" stop-color="#000000"/><stop offset=".255" stop-color="#020202"/><stop offset=".294" stop-color="#050505"/><stop offset=".372" stop-color="#101010"/><stop offset=".465" stop-color="#050505"/><stop offset=".544" stop-color="#010101"/><stop offset=".999" stop-color="#000000"/></linearGradient>
<linearGradient id="e34"><stop offset="0" stop-color="#000000"/><stop offset=".255" stop-color="#020202"/><stop offset=".294" stop-color="#050505"/><stop offset=".372" stop-color="#101010"/><stop offset=".47" stop-color="#050505"/><stop offset=".558" stop-color="#010101"/><stop offset=".999" stop-color="#000000"/></linearGradient>
<linearGradient id="e35"><stop offset="0" stop-color="#000000"/><stop offset=".25" stop-color="#020202"/><stop offset=".289" stop-color="#050505"/><stop offset=".353" stop-color="#0e0e0e"/><stop offset=".377" stop-color="#101010"/><stop offset=".475" stop-color="#050505"/><stop offset=".568" stop-color="#010101"/><stop offset=".999" stop-color="#000000"/></linearGradient>
<linearGradient id="e36"><stop offset="0" stop-color="#000000"/><stop offset=".245" stop-color="#020202"/><stop offset=".289" stop-color="#050505"/><stop offset=".377" stop-color="#101010"/><stop offset=".48" stop-color="#060606"/><stop offset=".573" stop-color="#010101"/><stop offset=".999" stop-color="#000000"/></linearGradient>
<linearGradient id="e37"><stop offset="0" stop-color="#000000"/><stop offset=".245" stop-color="#020202"/><stop offset=".377" stop-color="#101010"/><stop offset=".49" stop-color="#060606"/><stop offset=".583" stop-color="#010101"/><stop offset=".999" stop-color="#000000"/></linearGradient>
<linearGradient id="e38"><stop offset="0" stop-color="#000000"/><stop offset=".24" stop-color="#020202"/><stop offset=".377" stop-color="#101010"/><stop offset=".504" stop-color="#050505"/><stop offset=".588" stop-color="#010101"/><stop offset=".999" stop-color="#000000"/></linearGradient>
<linearGradient id="e39"><stop offset="0" stop-color="#000000"/><stop offset=".235" stop-color="#020202"/><stop offset=".382" stop-color="#101010"/><stop offset=".509" stop-color="#050505"/><stop offset=".593" stop-color="#010101"/><stop offset=".999" stop-color="#000000"/></linearGradient>
<linearGradient id="e40"><stop offset="0" stop-color="#000000"/><stop offset=".235" stop-color="#020202"/><stop offset=".382" stop-color="#0f0f0f"/><stop offset=".519" stop-color="#040404"/><stop offset=".593" stop-color="#010101"/><stop offset=".999" stop-color="#000000"/></linearGradient>
<linearGradient id="e41"><stop offset="0" stop-color="#000000"/><stop offset=".23" stop-color="#020202"/><stop offset=".382" stop-color="#0f0f0f"/><stop offset=".597" stop-color="#010101"/><stop offset=".999" stop-color="#000000"/></linearGradient>
<linearGradient id="e42"><stop offset="0" stop-color="#000000"/><stop offset=".23" stop-color="#020202"/><stop offset=".387" stop-color="#0f0f0f"/><stop offset=".597" stop-color="#010101"/><stop offset=".999" stop-color="#000000"/></linearGradient>
<linearGradient id="e43"><stop offset="0" stop-color="#000000"/><stop offset=".225" stop-color="#020202"/><stop offset=".387" stop-color="#0f0f0f"/><stop offset=".602" stop-color="#010101"/><stop offset=".999" stop-color="#000000"/></linearGradient>
<linearGradient id="e44"><stop offset="0" stop-color="#000000"/><stop offset=".225" stop-color="#020202"/><stop offset=".387" stop-color="#0e0e0e"/><stop offset=".602" stop-color="#010101"/><stop offset=".999" stop-color="#000000"/></linearGradient>
<linearGradient id="e45"><stop offset="0" stop-color="#000000"/><stop offset=".22" stop-color="#020202"/><stop offset=".387" stop-color="#0e0e0e"/><stop offset=".607" stop-color="#010101"/><stop offset=".999" stop-color="#000000"/></linearGradient>
<linearGradient id="e46"><stop offset="0" stop-color="#000000"/><stop offset=".215" stop-color="#020202"/><stop offset=".392" stop-color="#0e0e0e"/><stop offset=".612" stop-color="#020202"/><stop offset=".999" stop-color="#000000"/></linearGradient>
<linearGradient id="e47"><stop offset="0" stop-color="#000000"/><stop offset=".215" stop-color="#030303"/><stop offset=".392" stop-color="#0e0e0e"/><stop offset=".627" stop-color="#020202"/><stop offset=".999" stop-color="#000000"/></linearGradient>
<linearGradient id="e48"><stop offset="0" stop-color="#000000"/><stop offset=".211" stop-color="#030303"/><stop offset=".402" stop-color="#0f0f0f"/><stop offset=".646" stop-color="#040404"/><stop offset=".999" stop-color="#000000"/></linearGradient>
<linearGradient id="e49"><stop offset="0" stop-color="#000000"/><stop offset=".211" stop-color="#030303"/><stop offset=".406" stop-color="#0f0f0f"/><stop offset=".715" stop-color="#040404"/><stop offset=".999" stop-color="#000000"/></linearGradient>
<linearGradient id="e50"><stop offset="0" stop-color="#000000"/><stop offset=".211" stop-color="#030303"/><stop offset=".372" stop-color="#0e0e0e"/><stop offset=".421" stop-color="#101010"/><stop offset=".798" stop-color="#030303"/><stop offset=".999" stop-color="#000000"/></linearGradient>
<linearGradient id="e51"><stop offset="0" stop-color="#000000"/><stop offset=".211" stop-color="#030303"/><stop offset=".377" stop-color="#0e0e0e"/><stop offset=".441" stop-color="#101010"/><stop offset=".852" stop-color="#030303"/><stop offset=".999" stop-color="#010101"/></linearGradient>
<linearGradient id="e52"><stop offset="0" stop-color="#000000"/><stop offset=".211" stop-color="#020202"/><stop offset=".387" stop-color="#0e0e0e"/><stop offset=".465" stop-color="#101010"/><stop offset=".622" stop-color="#0d0d0d"/><stop offset=".862" stop-color="#040404"/><stop offset=".999" stop-color="#010101"/></linearGradient>
<linearGradient id="e53"><stop offset="0" stop-color="#000000"/><stop offset=".206" stop-color="#020202"/><stop offset=".397" stop-color="#0e0e0e"/><stop offset=".49" stop-color="#101010"/><stop offset=".646" stop-color="#0e0e0e"/><stop offset=".999" stop-color="#010101"/></linearGradient>
<linearGradient id="e54"><stop offset="0" stop-color="#000000"/><stop offset=".201" stop-color="#020202"/><stop offset=".397" stop-color="#0e0e0e"/><stop offset=".49" stop-color="#101010"/><stop offset=".656" stop-color="#0e0e0e"/><stop offset=".999" stop-color="#020202"/></linearGradient>
<linearGradient id="e55"><stop offset="0" stop-color="#000000"/><stop offset=".196" stop-color="#020202"/><stop offset=".392" stop-color="#0d0d0d"/><stop offset=".475" stop-color="#0f0f0f"/><stop offset=".671" stop-color="#0c0c0c"/><stop offset=".999" stop-color="#020202"/></linearGradient>
<linearGradient id="e56"><stop offset="0" stop-color="#000000"/><stop offset=".196" stop-color="#020202"/><stop offset=".46" stop-color="#0c0c0c"/><stop offset=".695" stop-color="#090909"/><stop offset=".999" stop-color="#020202"/></linearGradient>
<linearGradient id="e57"><stop offset="0" stop-color="#000000"/><stop offset=".191" stop-color="#020202"/><stop offset=".451" stop-color="#090909"/><stop offset=".999" stop-color="#020202"/></linearGradient>
<linearGradient id="e58"><stop offset="0" stop-color="#000000"/><stop offset=".436" stop-color="#060606"/><stop offset=".999" stop-color="#010101"/></linearGradient>
<linearGradient id="e59"><stop offset="0" stop-color="#000000"/><stop offset=".426" stop-color="#030303"/><stop offset=".999" stop-color="#010101"/></linearGradient>
<filter id="jetf" filterUnits="userSpaceOnUse" x="681.2" y="468.4" width="210" height="242" color-interpolation-filters="sRGB"><feGaussianBlur stdDeviation=".8 1.2"/><feComponentTransfer><feFuncR type="table" tableValues="0 0 0 0 .5 1 1 1 .5"/><feFuncG type="table" tableValues="0 0 .5 1 1 1 .5 0 0"/><feFuncB type="table" tableValues=".502 1 1 1 .5 0 0 0 0"/></feComponentTransfer></filter>
<linearGradient id="f0"><stop offset="0" stop-color="#000000"/><stop offset=".048" stop-color="#010101"/><stop offset=".067" stop-color="#0d0d0d"/><stop offset=".081" stop-color="#111111"/><stop offset=".09" stop-color="#0f0f0f"/><stop offset=".114" stop-color="#010101"/><stop offset=".119" stop-color="#000000"/><stop offset=".295" stop-color="#000000"/><stop offset=".31" stop-color="#030303"/><stop offset=".324" stop-color="#000000"/><stop offset=".529" stop-color="#000000"/><stop offset=".552" stop-color="#080808"/><stop offset=".567" stop-color="#090909"/><stop offset=".581" stop-color="#080808"/><stop offset=".605" stop-color="#000000"/><stop offset="1" stop-color="#000000"/></linearGradient>
<linearGradient id="f1"><stop offset="0" stop-color="#000000"/><stop offset=".043" stop-color="#000000"/><stop offset=".067" stop-color="#101010"/><stop offset=".081" stop-color="#141414"/><stop offset=".095" stop-color="#101010"/><stop offset=".119" stop-color="#000000"/><stop offset=".29" stop-color="#000000"/><stop offset=".31" stop-color="#050505"/><stop offset=".329" stop-color="#000000"/><stop offset=".443" stop-color="#000000"/><stop offset=".471" stop-color="#050505"/><stop offset=".5" stop-color="#000000"/><stop offset=".514" stop-color="#000000"/><stop offset=".524" stop-color="#020202"/><stop offset=".552" stop-color="#0e0e0e"/><stop offset=".567" stop-color="#111111"/><stop offset=".581" stop-color="#0e0e0e"/><stop offset=".614" stop-color="#000000"/><stop offset=".895" stop-color="#000000"/><stop offset=".919" stop-color="#040404"/><stop offset=".943" stop-color="#000000"/><stop offset="1" stop-color="#000000"/></linearGradient>
<linearGradient id="f2"><stop offset="0" stop-color="#000000"/><stop offset=".043" stop-color="#000000"/><stop offset=".067" stop-color="#121212"/><stop offset=".081" stop-color="#171717"/><stop offset=".095" stop-color="#121212"/><stop offset=".119" stop-color="#000000"/><stop offset=".124" stop-color="#000000"/><stop offset=".29" stop-color="#000000"/><stop offset=".31" stop-color="#080808"/><stop offset=".329" stop-color="#000000"/><stop offset=".433" stop-color="#000000"/><stop offset=".457" stop-color="#0a0a0a"/><stop offset=".471" stop-color="#0c0c0c"/><stop offset=".514" stop-color="#030303"/><stop offset=".524" stop-color="#060606"/><stop offset=".552" stop-color="#151515"/><stop offset=".567" stop-color="#171717"/><stop offset=".586" stop-color="#131313"/><stop offset=".619" stop-color="#000000"/><stop offset=".886" stop-color="#000000"/><stop offset=".905" stop-color="#090909"/><stop offset=".919" stop-color="#0c0c0c"/><stop offset=".933" stop-color="#090909"/><stop offset=".952" stop-color="#000000"/><stop offset="1" stop-color="#000000"/></linearGradient>
<linearGradient id="f3"><stop offset="0" stop-color="#000000"/><stop offset=".043" stop-color="#010101"/><stop offset=".067" stop-color="#151515"/><stop offset=".081" stop-color="#191919"/><stop offset=".095" stop-color="#151515"/><stop offset=".119" stop-color="#010101"/><stop offset=".124" stop-color="#000000"/><stop offset=".286" stop-color="#000000"/><stop offset=".31" stop-color="#0b0b0b"/><stop offset=".333" stop-color="#000000"/><stop offset=".424" stop-color="#000000"/><stop offset=".452" stop-color="#0e0e0e"/><stop offset=".467" stop-color="#121212"/><stop offset=".481" stop-color="#121212"/><stop offset=".51" stop-color="#080808"/><stop offset=".519" stop-color="#080808"/><stop offset=".548" stop-color="#181818"/><stop offset=".567" stop-color="#1c1c1c"/><stop offset=".586" stop-color="#181818"/><stop offset=".624" stop-color="#000000"/><stop offset=".876" stop-color="#000000"/><stop offset=".881" stop-color="#010101"/><stop offset=".905" stop-color="#101010"/><stop offset=".919" stop-color="#131313"/><stop offset=".933" stop-color="#101010"/><stop offset=".957" stop-color="#000000"/><stop offset="1" stop-color="#000000"/></linearGradient>
<linearGradient id="f4"><stop offset="0" stop-color="#000000"/><stop offset=".038" stop-color="#000000"/><stop offset=".067" stop-color="#171717"/><stop offset=".081" stop-color="#1b1b1b"/><stop offset=".095" stop-color="#171717"/><stop offset=".124" stop-color="#000000"/><stop offset=".286" stop-color="#000000"/><stop offset=".3" stop-color="#0a0a0a"/><stop offset=".31" stop-color="#0d0d0d"/><stop offset=".319" stop-color="#0a0a0a"/><stop offset=".333" stop-color="#000000"/><stop offset=".419" stop-color="#000000"/><stop offset=".424" stop-color="#010101"/><stop offset=".448" stop-color="#101010"/><stop offset=".462" stop-color="#151515"/><stop offset=".481" stop-color="#161616"/><stop offset=".514" stop-color="#0c0c0c"/><stop offset=".524" stop-color="#0e0e0e"/><stop offset=".548" stop-color="#1c1c1c"/><stop offset=".567" stop-color="#202020"/><stop offset=".581" stop-color="#1e1e1e"/><stop offset=".59" stop-color="#1a1a1a"/><stop offset=".619" stop-color="#040404"/><stop offset=".629" stop-color="#000000"/><stop offset=".871" stop-color="#000000"/><stop offset=".881" stop-color="#040404"/><stop offset=".9" stop-color="#121212"/><stop offset=".919" stop-color="#171717"/><stop offset=".938" stop-color="#121212"/><stop offset=".962" stop-color="#000000"/><stop offset="1" stop-color="#000000"/></linearGradient>
<linearGradient id="f5"><stop offset="0" stop-color="#000000"/><stop offset=".038" stop-color="#000000"/><stop offset=".067" stop-color="#191919"/><stop offset=".081" stop-color="#1d1d1d"/><stop offset=".095" stop-color="#191919"/><stop offset=".124" stop-color="#000000"/><stop offset=".286" stop-color="#000000"/><stop offset=".3" stop-color="#0d0d0d"/><stop offset=".31" stop-color="#101010"/><stop offset=".319" stop-color="#0d0d0d"/><stop offset=".333" stop-color="#000000"/><stop offset=".419" stop-color="#000000"/><stop offset=".448" stop-color="#121212"/><stop offset=".457" stop-color="#161616"/><stop offset=".481" stop-color="#171717"/><stop offset=".514" stop-color="#0f0f0f"/><stop offset=".524" stop-color="#111111"/><stop offset=".548" stop-color="#1e1e1e"/><stop offset=".567" stop-color="#212121"/><stop offset=".581" stop-color="#202020"/><stop offset=".59" stop-color="#1c1c1c"/><stop offset=".619" stop-color="#050505"/><stop offset=".629" stop-color="#000000"/><stop offset=".867" stop-color="#000000"/><stop offset=".876" stop-color="#030303"/><stop offset=".9" stop-color="#141414"/><stop offset=".914" stop-color="#171717"/><stop offset=".929" stop-color="#171717"/><stop offset=".938" stop-color="#131313"/><stop offset=".962" stop-color="#000000"/><stop offset="1" stop-color="#000000"/></linearGradient>
<linearGradient id="f6"><stop offset="0" stop-color="#000000"/><stop offset=".038" stop-color="#010101"/><stop offset=".062" stop-color="#171717"/><stop offset=".071" stop-color="#1c1c1c"/><stop offset=".081" stop-color="#1e1e1e"/><stop offset=".095" stop-color="#1a1a1a"/><stop offset=".105" stop-color="#131313"/><stop offset=".119" stop-color="#040404"/><stop offset=".124" stop-color="#010101"/><stop offset=".129" stop-color="#000000"/><stop offset=".281" stop-color="#000000"/><stop offset=".286" stop-color="#010101"/><stop offset=".3" stop-color="#0f0f0f"/><stop offset=".31" stop-color="#121212"/><stop offset=".319" stop-color="#0f0f0f"/><stop offset=".333" stop-color="#010101"/><stop offset=".338" stop-color="#000000"/><stop offset=".419" stop-color="#000000"/><stop offset=".448" stop-color="#121212"/><stop offset=".457" stop-color="#161616"/><stop offset=".481" stop-color="#171717"/><stop offset=".514" stop-color="#0f0f0f"/><stop offset=".524" stop-color="#121212"/><stop offset=".548" stop-color="#1f1f1f"/><stop offset=".567" stop-color="#222222"/><stop offset=".581" stop-color="#212121"/><stop offset=".59" stop-color="#1d1d1d"/><stop offset=".619" stop-color="#060606"/><stop offset=".629" stop-color="#000000"/><stop offset=".852" stop-color="#000000"/><stop offset=".871" stop-color="#030303"/><stop offset=".9" stop-color="#141414"/><stop offset=".919" stop-color="#171717"/><stop offset=".938" stop-color="#121212"/><stop offset=".962" stop-color="#000000"/><stop offset="1" stop-color="#000000"/></linearGradient>
<linearGradient id="f7"><stop offset="0" stop-color="#000000"/><stop offset=".038" stop-color="#010101"/><stop offset=".062" stop-color="#181818"/><stop offset=".076" stop-color="#1e1e1e"/><stop offset=".095" stop-color="#1b1b1b"/><stop offset=".105" stop-color="#141414"/><stop offset=".124" stop-color="#010101"/><stop offset=".129" stop-color="#000000"/><stop offset=".281" stop-color="#000000"/><stop offset=".286" stop-color="#020202"/><stop offset=".3" stop-color="#111111"/><stop offset=".31" stop-color="#141414"/><stop offset=".319" stop-color="#111111"/><stop offset=".333" stop-color="#020202"/><stop offset=".338" stop-color="#000000"/><stop offset=".419" stop-color="#000000"/><stop offset=".429" stop-color="#040404"/><stop offset=".448" stop-color="#101010"/><stop offset=".462" stop-color="#161616"/><stop offset=".481" stop-color="#161616"/><stop offset=".514" stop-color="#0e0e0e"/><stop offset=".524" stop-color="#111111"/><stop offset=".548" stop-color="#1f1f1f"/><stop offset=".567" stop-color="#222222"/><stop offset=".581" stop-color="#202020"/><stop offset=".59" stop-color="#1d1d1d"/><stop offset=".619" stop-color="#060606"/><stop offset=".629" stop-color="#000000"/><stop offset=".838" stop-color="#000000"/><stop offset=".876" stop-color="#070707"/><stop offset=".905" stop-color="#121212"/><stop offset=".919" stop-color="#141414"/><stop offset=".933" stop-color="#101010"/><stop offset=".957" stop-color="#000000"/><stop offset="1" stop-color="#000000"/></linearGradient>
<linearGradient id="f8"><stop offset="0" stop-color="#000000"/><stop offset=".038" stop-color="#010101"/><stop offset=".062" stop-color="#191919"/><stop offset=".076" stop-color="#1f1f1f"/><stop offset=".095" stop-color="#1c1c1c"/><stop offset=".105" stop-color="#151515"/><stop offset=".124" stop-color="#020202"/><stop offset=".129" stop-color="#000000"/><stop offset=".281" stop-color="#000000"/><stop offset=".3" stop-color="#131313"/><stop offset=".31" stop-color="#161616"/><stop offset=".319" stop-color="#131313"/><stop offset=".338" stop-color="#000000"/><stop offset=".424" stop-color="#000000"/><stop offset=".452" stop-color="#0f0f0f"/><stop offset=".467" stop-color="#131313"/><stop offset=".481" stop-color="#121212"/><stop offset=".505" stop-color="#0b0b0b"/><stop offset=".514" stop-color="#0a0a0a"/><stop offset=".548" stop-color="#1e1e1e"/><stop offset=".567" stop-color="#212121"/><stop offset=".581" stop-color="#1f1f1f"/><stop offset=".59" stop-color="#1b1b1b"/><stop offset=".619" stop-color="#050505"/><stop offset=".629" stop-color="#000000"/><stop offset=".833" stop-color="#000000"/><stop offset=".857" stop-color="#070707"/><stop offset=".914" stop-color="#0d0d0d"/><stop offset=".929" stop-color="#0b0b0b"/><stop offset=".952" stop-color="#000000"/><stop offset="1" stop-color="#000000"/></linearGradient>
<linearGradient id="f9"><stop offset="0" stop-color="#000000"/><stop offset=".038" stop-color="#020202"/><stop offset=".062" stop-color="#1a1a1a"/><stop offset=".076" stop-color="#1f1f1f"/><stop offset=".09" stop-color="#1e1e1e"/><stop offset=".1" stop-color="#1a1a1a"/><stop offset=".119" stop-color="#060606"/><stop offset=".129" stop-color="#000000"/><stop offset=".281" stop-color="#000000"/><stop offset=".3" stop-color="#141414"/><stop offset=".31" stop-color="#171717"/><stop offset=".319" stop-color="#141414"/><stop offset=".338" stop-color="#000000"/><stop offset=".429" stop-color="#000000"/><stop offset=".467" stop-color="#0c0c0c"/><stop offset=".481" stop-color="#0c0c0c"/><stop offset=".505" stop-color="#060606"/><stop offset=".514" stop-color="#070707"/><stop offset=".548" stop-color="#1b1b1b"/><stop offset=".567" stop-color="#1f1f1f"/><stop offset=".586" stop-color="#1b1b1b"/><stop offset=".619" stop-color="#030303"/><stop offset=".629" stop-color="#000000"/><stop offset=".824" stop-color="#000000"/><stop offset=".852" stop-color="#0a0a0a"/><stop offset=".867" stop-color="#0d0d0d"/><stop offset=".943" stop-color="#000000"/><stop offset="1" stop-color="#000000"/></linearGradient>
<linearGradient id="f10"><stop offset="0" stop-color="#000000"/><stop offset=".033" stop-color="#000000"/><stop offset=".038" stop-color="#020202"/><stop offset=".062" stop-color="#1a1a1a"/><stop offset=".071" stop-color="#1e1e1e"/><stop offset=".081" stop-color="#1f1f1f"/><stop offset=".09" stop-color="#1e1e1e"/><stop offset=".1" stop-color="#1a1a1a"/><stop offset=".119" stop-color="#060606"/><stop offset=".129" stop-color="#000000"/><stop offset=".281" stop-color="#000000"/><stop offset=".3" stop-color="#151515"/><stop offset=".31" stop-color="#171717"/><stop offset=".319" stop-color="#151515"/><stop offset=".338" stop-color="#000000"/><stop offset=".438" stop-color="#000000"/><stop offset=".471" stop-color="#060606"/><stop offset=".505" stop-color="#010101"/><stop offset=".519" stop-color="#050505"/><stop offset=".548" stop-color="#161616"/><stop offset=".567" stop-color="#1b1b1b"/><stop offset=".586" stop-color="#171717"/><stop offset=".614" stop-color="#040404"/><stop offset=".624" stop-color="#000000"/><stop offset=".824" stop-color="#000000"/><stop offset=".852" stop-color="#0e0e0e"/><stop offset=".867" stop-color="#111111"/><stop offset=".881" stop-color="#0f0f0f"/><stop offset=".919" stop-color="#000000"/><stop offset="1" stop-color="#000000"/></linearGradient>
<linearGradient id="f11"><stop offset="0" stop-color="#000000"/><stop offset=".033" stop-color="#000000"/><stop offset=".038" stop-color="#020202"/><stop offset=".062" stop-color="#1a1a1a"/><stop offset=".071" stop-color="#1e1e1e"/><stop offset=".081" stop-color="#1f1f1f"/><stop offset=".09" stop-color="#1e1e1e"/><stop offset=".1" stop-color="#1a1a1a"/><stop offset=".119" stop-color="#060606"/><stop offset=".129" stop-color="#000000"/><stop offset=".276" stop-color="#000000"/><stop offset=".281" stop-color="#010101"/><stop offset=".3" stop-color="#161616"/><stop offset=".31" stop-color="#181818"/><stop offset=".319" stop-color="#161616"/><stop offset=".338" stop-color="#010101"/><stop offset=".343" stop-color="#000000"/><stop offset=".514" stop-color="#000000"/><stop offset=".548" stop-color="#111111"/><stop offset=".567" stop-color="#151515"/><stop offset=".586" stop-color="#111111"/><stop offset=".619" stop-color="#000000"/><stop offset=".71" stop-color="#000000"/><stop offset=".733" stop-color="#050505"/><stop offset=".757" stop-color="#000000"/><stop offset=".819" stop-color="#000000"/><stop offset=".848" stop-color="#101010"/><stop offset=".867" stop-color="#151515"/><stop offset=".886" stop-color="#101010"/><stop offset=".914" stop-color="#000000"/><stop offset="1" stop-color="#000000"/></linearGradient>
<linearGradient id="f12"><stop offset="0" stop-color="#000000"/><stop offset=".038" stop-color="#020202"/><stop offset=".062" stop-color="#1a1a1a"/><stop offset=".071" stop-color="#1e1e1e"/><stop offset=".081" stop-color="#1f1f1f"/><stop offset=".09" stop-color="#1e1e1e"/><stop offset=".1" stop-color="#1a1a1a"/><stop offset=".119" stop-color="#060606"/><stop offset=".129" stop-color="#000000"/><stop offset=".276" stop-color="#000000"/><stop offset=".281" stop-color="#010101"/><stop offset=".295" stop-color="#131313"/><stop offset=".3" stop-color="#161616"/><stop offset=".31" stop-color="#181818"/><stop offset=".319" stop-color="#161616"/><stop offset=".324" stop-color="#131313"/><stop offset=".338" stop-color="#010101"/><stop offset=".343" stop-color="#000000"/><stop offset=".519" stop-color="#000000"/><stop offset=".552" stop-color="#0d0d0d"/><stop offset=".571" stop-color="#101010"/><stop offset=".586" stop-color="#0d0d0d"/><stop offset=".619" stop-color="#000000"/><stop offset=".7" stop-color="#000000"/><stop offset=".705" stop-color="#010101"/><stop offset=".724" stop-color="#0b0b0b"/><stop offset=".733" stop-color="#0d0d0d"/><stop offset=".743" stop-color="#0b0b0b"/><stop offset=".762" stop-color="#000000"/><stop offset=".814" stop-color="#000000"/><stop offset=".824" stop-color="#030303"/><stop offset=".848" stop-color="#131313"/><stop offset=".867" stop-color="#171717"/><stop offset=".886" stop-color="#131313"/><stop offset=".914" stop-color="#000000"/><stop offset="1" stop-color="#000000"/></linearGradient>
<linearGradient id="f13"><stop offset="0" stop-color="#000000"/><stop offset=".038" stop-color="#010101"/><stop offset=".062" stop-color="#191919"/><stop offset=".071" stop-color="#1e1e1e"/><stop offset=".081" stop-color="#1f1f1f"/><stop offset=".09" stop-color="#1e1e1e"/><stop offset=".1" stop-color="#191919"/><stop offset=".119" stop-color="#060606"/><stop offset=".129" stop-color="#000000"/><stop offset=".186" stop-color="#000000"/><stop offset=".2" stop-color="#020202"/><stop offset=".214" stop-color="#000000"/><stop offset=".276" stop-color="#000000"/><stop offset=".281" stop-color="#010101"/><stop offset=".295" stop-color="#131313"/><stop offset=".3" stop-color="#161616"/><stop offset=".31" stop-color="#181818"/><stop offset=".319" stop-color="#171717"/><stop offset=".324" stop-color="#131313"/><stop offset=".338" stop-color="#010101"/><stop offset=".343" stop-color="#000000"/><stop offset=".367" stop-color="#000000"/><stop offset=".381" stop-color="#030303"/><stop offset=".395" stop-color="#000000"/><stop offset=".529" stop-color="#000000"/><stop offset=".567" stop-color="#0c0c0c"/><stop offset=".581" stop-color="#0e0e0e"/><stop offset=".595" stop-color="#0b0b0b"/><stop offset=".624" stop-color="#000000"/><stop offset=".695" stop-color="#000000"/><stop offset=".7" stop-color="#010101"/><stop offset=".719" stop-color="#0f0f0f"/><stop offset=".733" stop-color="#131313"/><stop offset=".748" stop-color="#0f0f0f"/><stop offset=".767" stop-color="#010101"/><stop offset=".814" stop-color="#000000"/><stop offset=".848" stop-color="#151515"/><stop offset=".867" stop-color="#191919"/><stop offset=".886" stop-color="#151515"/><stop offset=".91" stop-color="#040404"/><stop offset=".919" stop-color="#000000"/><stop offset="1" stop-color="#000000"/></linearGradient>
<linearGradient id="f14"><stop offset="0" stop-color="#000000"/><stop offset=".038" stop-color="#010101"/><stop offset=".062" stop-color="#181818"/><stop offset=".071" stop-color="#1d1d1d"/><stop offset=".081" stop-color="#1e1e1e"/><stop offset=".095" stop-color="#1b1b1b"/><stop offset=".105" stop-color="#141414"/><stop offset=".119" stop-color="#050505"/><stop offset=".129" stop-color="#000000"/><stop offset=".176" stop-color="#000000"/><stop offset=".2" stop-color="#060606"/><stop offset=".224" stop-color="#000000"/><stop offset=".276" stop-color="#000000"/><stop offset=".281" stop-color="#010101"/><stop offset=".295" stop-color="#131313"/><stop offset=".3" stop-color="#171717"/><stop offset=".31" stop-color="#181818"/><stop offset=".319" stop-color="#171717"/><stop offset=".324" stop-color="#131313"/><stop offset=".338" stop-color="#020202"/><stop offset=".343" stop-color="#000000"/><stop offset=".357" stop-color="#000000"/><stop offset=".381" stop-color="#0b0b0b"/><stop offset=".405" stop-color="#000000"/><stop offset=".533" stop-color="#000000"/><stop offset=".548" stop-color="#040404"/><stop offset=".571" stop-color="#0f0f0f"/><stop offset=".586" stop-color="#121212"/><stop offset=".6" stop-color="#0f0f0f"/><stop offset=".633" stop-color="#000000"/><stop offset=".695" stop-color="#000000"/><stop offset=".719" stop-color="#131313"/><stop offset=".733" stop-color="#161616"/><stop offset=".748" stop-color="#131313"/><stop offset=".771" stop-color="#000000"/><stop offset=".814" stop-color="#000000"/><stop offset=".848" stop-color="#171717"/><stop offset=".867" stop-color="#1a1a1a"/><stop offset=".886" stop-color="#171717"/><stop offset=".919" stop-color="#000000"/><stop offset="1" stop-color="#000000"/></linearGradient>
<linearGradient id="f15"><stop offset="0" stop-color="#000000"/><stop offset=".038" stop-color="#000000"/><stop offset=".067" stop-color="#1a1a1a"/><stop offset=".081" stop-color="#1d1d1d"/><stop offset=".095" stop-color="#1a1a1a"/><stop offset=".119" stop-color="#040404"/><stop offset=".129" stop-color="#000000"/><stop offset=".171" stop-color="#000000"/><stop offset=".19" stop-color="#090909"/><stop offset=".2" stop-color="#0b0b0b"/><stop offset=".21" stop-color="#090909"/><stop offset=".229" stop-color="#000000"/><stop offset=".276" stop-color="#000000"/><stop offset=".281" stop-color="#010101"/><stop offset=".3" stop-color="#161616"/><stop offset=".31" stop-color="#181818"/><stop offset=".319" stop-color="#161616"/><stop offset=".338" stop-color="#020202"/><stop offset=".343" stop-color="#000000"/><stop offset=".357" stop-color="#020202"/><stop offset=".371" stop-color="#101010"/><stop offset=".381" stop-color="#131313"/><stop offset=".39" stop-color="#101010"/><stop offset=".405" stop-color="#020202"/><stop offset=".41" stop-color="#000000"/><stop offset=".538" stop-color="#000000"/><stop offset=".576" stop-color="#171717"/><stop offset=".59" stop-color="#1a1a1a"/><stop offset=".605" stop-color="#151515"/><stop offset=".638" stop-color="#000000"/><stop offset=".695" stop-color="#000000"/><stop offset=".719" stop-color="#131313"/><stop offset=".733" stop-color="#161616"/><stop offset=".748" stop-color="#131313"/><stop offset=".771" stop-color="#000000"/><stop offset=".81" stop-color="#000000"/><stop offset=".819" stop-color="#030303"/><stop offset=".848" stop-color="#181818"/><stop offset=".867" stop-color="#1b1b1b"/><stop offset=".886" stop-color="#181818"/><stop offset=".919" stop-color="#000000"/><stop offset="1" stop-color="#000000"/></linearGradient>
<linearGradient id="f16"><stop offset="0" stop-color="#000000"/><stop offset=".038" stop-color="#000000"/><stop offset=".067" stop-color="#181818"/><stop offset=".081" stop-color="#1c1c1c"/><stop offset=".095" stop-color="#181818"/><stop offset=".124" stop-color="#000000"/><stop offset=".167" stop-color="#000000"/><stop offset=".19" stop-color="#0d0d0d"/><stop offset=".2" stop-color="#0f0f0f"/><stop offset=".21" stop-color="#0d0d0d"/><stop offset=".233" stop-color="#000000"/><stop offset=".276" stop-color="#000000"/><stop offset=".281" stop-color="#010101"/><stop offset=".3" stop-color="#161616"/><stop offset=".31" stop-color="#181818"/><stop offset=".319" stop-color="#161616"/><stop offset=".338" stop-color="#020202"/><stop offset=".348" stop-color="#000000"/><stop offset=".352" stop-color="#010101"/><stop offset=".371" stop-color="#161616"/><stop offset=".381" stop-color="#191919"/><stop offset=".39" stop-color="#161616"/><stop offset=".41" stop-color="#010101"/><stop offset=".414" stop-color="#000000"/><stop offset=".533" stop-color="#000000"/><stop offset=".548" stop-color="#070707"/><stop offset=".571" stop-color="#1b1b1b"/><stop offset=".581" stop-color="#202020"/><stop offset=".59" stop-color="#212121"/><stop offset=".605" stop-color="#1d1d1d"/><stop offset=".633" stop-color="#060606"/><stop offset=".648" stop-color="#000000"/><stop offset=".695" stop-color="#000000"/><stop offset=".719" stop-color="#121212"/><stop offset=".733" stop-color="#151515"/><stop offset=".748" stop-color="#121212"/><stop offset=".771" stop-color="#000000"/><stop offset=".81" stop-color="#000000"/><stop offset=".819" stop-color="#040404"/><stop offset=".848" stop-color="#181818"/><stop offset=".867" stop-color="#1b1b1b"/><stop offset=".881" stop-color="#1a1a1a"/><stop offset=".89" stop-color="#161616"/><stop offset=".919" stop-color="#000000"/><stop offset="1" stop-color="#000000"/></linearGradient>
<linearGradient id="f17"><stop offset="0" stop-color="#000000"/><stop offset=".038" stop-color="#000000"/><stop offset=".067" stop-color="#161616"/><stop offset=".081" stop-color="#1a1a1a"/><stop offset=".095" stop-color="#161616"/><stop offset=".124" stop-color="#000000"/><stop offset=".167" stop-color="#000000"/><stop offset=".186" stop-color="#0e0e0e"/><stop offset=".2" stop-color="#121212"/><stop offset=".214" stop-color="#0e0e0e"/><stop offset=".233" stop-color="#010101"/><stop offset=".276" stop-color="#000000"/><stop offset=".281" stop-color="#010101"/><stop offset=".3" stop-color="#151515"/><stop offset=".31" stop-color="#181818"/><stop offset=".319" stop-color="#151515"/><stop offset=".338" stop-color="#020202"/><stop offset=".348" stop-color="#000000"/><stop offset=".352" stop-color="#030303"/><stop offset=".367" stop-color="#151515"/><stop offset=".371" stop-color="#191919"/><stop offset=".381" stop-color="#1c1c1c"/><stop offset=".39" stop-color="#1a1a1a"/><stop offset=".395" stop-color="#151515"/><stop offset=".41" stop-color="#030303"/><stop offset=".414" stop-color="#000000"/><stop offset=".529" stop-color="#000000"/><stop offset=".533" stop-color="#000000"/><stop offset=".543" stop-color="#060606"/><stop offset=".571" stop-color="#202020"/><stop offset=".59" stop-color="#252525"/><stop offset=".61" stop-color="#202020"/><stop offset=".638" stop-color="#050505"/><stop offset=".648" stop-color="#000000"/><stop offset=".7" stop-color="#010101"/><stop offset=".719" stop-color="#0e0e0e"/><stop offset=".733" stop-color="#121212"/><stop offset=".748" stop-color="#0d0d0d"/><stop offset=".767" stop-color="#000000"/><stop offset=".81" stop-color="#000000"/><stop offset=".819" stop-color="#030303"/><stop offset=".848" stop-color="#181818"/><stop offset=".867" stop-color="#1b1b1b"/><stop offset=".886" stop-color="#181818"/><stop offset=".919" stop-color="#000000"/><stop offset="1" stop-color="#000000"/></linearGradient>
<linearGradient id="f18"><stop offset="0" stop-color="#000000"/><stop offset=".043" stop-color="#010101"/><stop offset=".067" stop-color="#131313"/><stop offset=".081" stop-color="#181818"/><stop offset=".095" stop-color="#141414"/><stop offset=".114" stop-color="#050505"/><stop offset=".124" stop-color="#000000"/><stop offset=".162" stop-color="#000000"/><stop offset=".167" stop-color="#010101"/><stop offset=".186" stop-color="#111111"/><stop offset=".2" stop-color="#151515"/><stop offset=".214" stop-color="#111111"/><stop offset=".233" stop-color="#020202"/><stop offset=".238" stop-color="#000000"/><stop offset=".276" stop-color="#000000"/><stop offset=".281" stop-color="#010101"/><stop offset=".3" stop-color="#141414"/><stop offset=".31" stop-color="#171717"/><stop offset=".319" stop-color="#151515"/><stop offset=".338" stop-color="#010101"/><stop offset=".348" stop-color="#000000"/><stop offset=".352" stop-color="#030303"/><stop offset=".367" stop-color="#161616"/><stop offset=".371" stop-color="#1a1a1a"/><stop offset=".381" stop-color="#1c1c1c"/><stop offset=".39" stop-color="#1a1a1a"/><stop offset=".395" stop-color="#161616"/><stop offset=".41" stop-color="#030303"/><stop offset=".414" stop-color="#000000"/><stop offset=".529" stop-color="#000000"/><stop offset=".543" stop-color="#070707"/><stop offset=".562" stop-color="#1b1b1b"/><stop offset=".571" stop-color="#232323"/><stop offset=".59" stop-color="#272727"/><stop offset=".61" stop-color="#232323"/><stop offset=".619" stop-color="#1b1b1b"/><stop offset=".638" stop-color="#070707"/><stop offset=".652" stop-color="#000000"/><stop offset=".705" stop-color="#010101"/><stop offset=".724" stop-color="#090909"/><stop offset=".733" stop-color="#0b0b0b"/><stop offset=".743" stop-color="#090909"/><stop offset=".762" stop-color="#000000"/><stop offset=".81" stop-color="#000000"/><stop offset=".819" stop-color="#030303"/><stop offset=".848" stop-color="#171717"/><stop offset=".867" stop-color="#1b1b1b"/><stop offset=".886" stop-color="#171717"/><stop offset=".919" stop-color="#000000"/><stop offset="1" stop-color="#000000"/></linearGradient>
<linearGradient id="f19"><stop offset="0" stop-color="#000000"/><stop offset=".043" stop-color="#000000"/><stop offset=".067" stop-color="#111111"/><stop offset=".081" stop-color="#151515"/><stop offset=".095" stop-color="#111111"/><stop offset=".119" stop-color="#010101"/><stop offset=".162" stop-color="#000000"/><stop offset=".186" stop-color="#131313"/><stop offset=".2" stop-color="#161616"/><stop offset=".214" stop-color="#131313"/><stop offset=".238" stop-color="#000000"/><stop offset=".276" stop-color="#000000"/><stop offset=".281" stop-color="#010101"/><stop offset=".3" stop-color="#131313"/><stop offset=".31" stop-color="#161616"/><stop offset=".319" stop-color="#131313"/><stop offset=".338" stop-color="#010101"/><stop offset=".348" stop-color="#000000"/><stop offset=".352" stop-color="#030303"/><stop offset=".371" stop-color="#191919"/><stop offset=".381" stop-color="#1c1c1c"/><stop offset=".39" stop-color="#191919"/><stop offset=".41" stop-color="#030303"/><stop offset=".414" stop-color="#000000"/><stop offset=".529" stop-color="#000000"/><stop offset=".543" stop-color="#080808"/><stop offset=".562" stop-color="#1c1c1c"/><stop offset=".571" stop-color="#232323"/><stop offset=".59" stop-color="#272727"/><stop offset=".61" stop-color="#232323"/><stop offset=".619" stop-color="#1c1c1c"/><stop offset=".638" stop-color="#070707"/><stop offset=".652" stop-color="#000000"/><stop offset=".71" stop-color="#000000"/><stop offset=".733" stop-color="#040404"/><stop offset=".757" stop-color="#000000"/><stop offset=".814" stop-color="#000000"/><stop offset=".848" stop-color="#151515"/><stop offset=".867" stop-color="#1a1a1a"/><stop offset=".886" stop-color="#151515"/><stop offset=".919" stop-color="#000000"/><stop offset="1" stop-color="#000000"/></linearGradient>
<linearGradient id="f20"><stop offset="0" stop-color="#000000"/><stop offset=".043" stop-color="#000000"/><stop offset=".067" stop-color="#0e0e0e"/><stop offset=".081" stop-color="#121212"/><stop offset=".095" stop-color="#0e0e0e"/><stop offset=".119" stop-color="#000000"/><stop offset=".162" stop-color="#000000"/><stop offset=".186" stop-color="#141414"/><stop offset=".2" stop-color="#171717"/><stop offset=".214" stop-color="#141414"/><stop offset=".238" stop-color="#010101"/><stop offset=".281" stop-color="#000000"/><stop offset=".3" stop-color="#121212"/><stop offset=".31" stop-color="#151515"/><stop offset=".319" stop-color="#121212"/><stop offset=".338" stop-color="#010101"/><stop offset=".348" stop-color="#000000"/><stop offset=".357" stop-color="#050505"/><stop offset=".371" stop-color="#151515"/><stop offset=".381" stop-color="#181818"/><stop offset=".39" stop-color="#151515"/><stop offset=".405" stop-color="#060606"/><stop offset=".414" stop-color="#000000"/><stop offset=".529" stop-color="#000000"/><stop offset=".543" stop-color="#070707"/><stop offset=".571" stop-color="#212121"/><stop offset=".59" stop-color="#262626"/><stop offset=".61" stop-color="#212121"/><stop offset=".638" stop-color="#060606"/><stop offset=".652" stop-color="#000000"/><stop offset=".814" stop-color="#000000"/><stop offset=".848" stop-color="#131313"/><stop offset=".867" stop-color="#181818"/><stop offset=".886" stop-color="#131313"/><stop offset=".91" stop-color="#030303"/><stop offset=".919" stop-color="#000000"/><stop offset="1" stop-color="#000000"/></linearGradient>
<linearGradient id="f21"><stop offset="0" stop-color="#000000"/><stop offset=".048" stop-color="#010101"/><stop offset=".067" stop-color="#0b0b0b"/><stop offset=".081" stop-color="#0f0f0f"/><stop offset=".09" stop-color="#0d0d0d"/><stop offset=".119" stop-color="#000000"/><stop offset=".162" stop-color="#000000"/><stop offset=".186" stop-color="#141414"/><stop offset=".2" stop-color="#171717"/><stop offset=".214" stop-color="#141414"/><stop offset=".233" stop-color="#040404"/><stop offset=".243" stop-color="#000000"/><stop offset=".281" stop-color="#000000"/><stop offset=".3" stop-color="#101010"/><stop offset=".31" stop-color="#131313"/><stop offset=".319" stop-color="#101010"/><stop offset=".333" stop-color="#030303"/><stop offset=".343" stop-color="#000000"/><stop offset=".352" stop-color="#000000"/><stop offset=".371" stop-color="#0e0e0e"/><stop offset=".381" stop-color="#111111"/><stop offset=".39" stop-color="#0e0e0e"/><stop offset=".41" stop-color="#000000"/><stop offset=".529" stop-color="#000000"/><stop offset=".543" stop-color="#050505"/><stop offset=".576" stop-color="#1f1f1f"/><stop offset=".59" stop-color="#222222"/><stop offset=".605" stop-color="#1f1f1f"/><stop offset=".638" stop-color="#050505"/><stop offset=".652" stop-color="#000000"/><stop offset=".814" stop-color="#000000"/><stop offset=".824" stop-color="#030303"/><stop offset=".852" stop-color="#121212"/><stop offset=".867" stop-color="#151515"/><stop offset=".881" stop-color="#121212"/><stop offset=".914" stop-color="#000000"/><stop offset="1" stop-color="#000000"/></linearGradient>
<linearGradient id="f22"><stop offset="0" stop-color="#000000"/><stop offset=".048" stop-color="#000000"/><stop offset=".071" stop-color="#0a0a0a"/><stop offset=".081" stop-color="#0c0c0c"/><stop offset=".09" stop-color="#0a0a0a"/><stop offset=".114" stop-color="#000000"/><stop offset=".162" stop-color="#000000"/><stop offset=".186" stop-color="#141414"/><stop offset=".2" stop-color="#171717"/><stop offset=".214" stop-color="#141414"/><stop offset=".233" stop-color="#040404"/><stop offset=".243" stop-color="#000000"/><stop offset=".281" stop-color="#000000"/><stop offset=".3" stop-color="#0e0e0e"/><stop offset=".31" stop-color="#111111"/><stop offset=".319" stop-color="#0e0e0e"/><stop offset=".333" stop-color="#030303"/><stop offset=".343" stop-color="#000000"/><stop offset=".357" stop-color="#010101"/><stop offset=".381" stop-color="#090909"/><stop offset=".41" stop-color="#000000"/><stop offset=".529" stop-color="#000000"/><stop offset=".543" stop-color="#030303"/><stop offset=".576" stop-color="#171717"/><stop offset=".59" stop-color="#1b1b1b"/><stop offset=".605" stop-color="#171717"/><stop offset=".633" stop-color="#050505"/><stop offset=".648" stop-color="#000000"/><stop offset=".819" stop-color="#000000"/><stop offset=".852" stop-color="#0f0f0f"/><stop offset=".867" stop-color="#111111"/><stop offset=".881" stop-color="#0e0e0e"/><stop offset=".914" stop-color="#000000"/><stop offset="1" stop-color="#000000"/></linearGradient>
<linearGradient id="f23"><stop offset="0" stop-color="#000000"/><stop offset=".052" stop-color="#000000"/><stop offset=".081" stop-color="#090909"/><stop offset=".114" stop-color="#000000"/><stop offset=".162" stop-color="#000000"/><stop offset=".186" stop-color="#131313"/><stop offset=".2" stop-color="#161616"/><stop offset=".214" stop-color="#131313"/><stop offset=".233" stop-color="#040404"/><stop offset=".243" stop-color="#000000"/><stop offset=".281" stop-color="#000000"/><stop offset=".3" stop-color="#0c0c0c"/><stop offset=".31" stop-color="#0f0f0f"/><stop offset=".319" stop-color="#0c0c0c"/><stop offset=".333" stop-color="#020202"/><stop offset=".343" stop-color="#000000"/><stop offset=".381" stop-color="#040404"/><stop offset=".41" stop-color="#000000"/><stop offset=".533" stop-color="#000000"/><stop offset=".548" stop-color="#030303"/><stop offset=".576" stop-color="#0e0e0e"/><stop offset=".59" stop-color="#111111"/><stop offset=".605" stop-color="#0e0e0e"/><stop offset=".633" stop-color="#020202"/><stop offset=".648" stop-color="#000000"/><stop offset=".819" stop-color="#000000"/><stop offset=".852" stop-color="#0b0b0b"/><stop offset=".867" stop-color="#0d0d0d"/><stop offset=".881" stop-color="#0b0b0b"/><stop offset=".91" stop-color="#000000"/><stop offset="1" stop-color="#000000"/></linearGradient>
<linearGradient id="f24"><stop offset="0" stop-color="#000000"/><stop offset=".052" stop-color="#000000"/><stop offset=".081" stop-color="#060606"/><stop offset=".114" stop-color="#000000"/><stop offset=".162" stop-color="#000000"/><stop offset=".186" stop-color="#111111"/><stop offset=".2" stop-color="#151515"/><stop offset=".214" stop-color="#111111"/><stop offset=".233" stop-color="#030303"/><stop offset=".243" stop-color="#000000"/><stop offset=".281" stop-color="#000000"/><stop offset=".31" stop-color="#0c0c0c"/><stop offset=".333" stop-color="#020202"/><stop offset=".343" stop-color="#010101"/><stop offset=".376" stop-color="#030303"/><stop offset=".419" stop-color="#000000"/><stop offset=".538" stop-color="#010101"/><stop offset=".59" stop-color="#090909"/><stop offset=".648" stop-color="#000000"/><stop offset=".824" stop-color="#000000"/><stop offset=".867" stop-color="#090909"/><stop offset=".905" stop-color="#000000"/><stop offset="1" stop-color="#000000"/></linearGradient>
<linearGradient id="f25"><stop offset="0" stop-color="#000000"/><stop offset=".057" stop-color="#000000"/><stop offset=".081" stop-color="#040404"/><stop offset=".11" stop-color="#000000"/><stop offset=".162" stop-color="#000000"/><stop offset=".19" stop-color="#111111"/><stop offset=".2" stop-color="#131313"/><stop offset=".21" stop-color="#111111"/><stop offset=".233" stop-color="#020202"/><stop offset=".243" stop-color="#000000"/><stop offset=".281" stop-color="#000000"/><stop offset=".31" stop-color="#0a0a0a"/><stop offset=".338" stop-color="#020202"/><stop offset=".376" stop-color="#070707"/><stop offset=".429" stop-color="#010101"/><stop offset=".543" stop-color="#010101"/><stop offset=".59" stop-color="#040404"/><stop offset=".643" stop-color="#010101"/><stop offset=".829" stop-color="#000000"/><stop offset=".867" stop-color="#050505"/><stop offset=".9" stop-color="#000000"/><stop offset="1" stop-color="#000000"/></linearGradient>
<linearGradient id="f26"><stop offset="0" stop-color="#000000"/><stop offset=".062" stop-color="#000000"/><stop offset=".086" stop-color="#020202"/><stop offset=".157" stop-color="#000000"/><stop offset=".167" stop-color="#020202"/><stop offset=".19" stop-color="#0d0d0d"/><stop offset=".2" stop-color="#0f0f0f"/><stop offset=".21" stop-color="#0d0d0d"/><stop offset=".238" stop-color="#000000"/><stop offset=".281" stop-color="#000000"/><stop offset=".31" stop-color="#080808"/><stop offset=".333" stop-color="#040404"/><stop offset=".371" stop-color="#0f0f0f"/><stop offset=".386" stop-color="#0c0c0c"/><stop offset=".414" stop-color="#030303"/><stop offset=".433" stop-color="#010101"/><stop offset=".667" stop-color="#020202"/><stop offset=".833" stop-color="#000000"/><stop offset=".867" stop-color="#030303"/><stop offset=".895" stop-color="#000000"/><stop offset="1" stop-color="#000000"/></linearGradient>
<linearGradient id="f27"><stop offset="0" stop-color="#000000"/><stop offset=".162" stop-color="#020202"/><stop offset=".2" stop-color="#0b0b0b"/><stop offset=".233" stop-color="#010101"/><stop offset=".281" stop-color="#000000"/><stop offset=".31" stop-color="#060606"/><stop offset=".329" stop-color="#060606"/><stop offset=".357" stop-color="#151515"/><stop offset=".371" stop-color="#191919"/><stop offset=".386" stop-color="#151515"/><stop offset=".414" stop-color="#060606"/><stop offset=".433" stop-color="#020202"/><stop offset=".576" stop-color="#020202"/><stop offset=".671" stop-color="#080808"/><stop offset=".771" stop-color="#000000"/><stop offset=".919" stop-color="#000000"/><stop offset=".943" stop-color="#040404"/><stop offset=".967" stop-color="#000000"/><stop offset="1" stop-color="#000000"/></linearGradient>
<linearGradient id="f28"><stop offset="0" stop-color="#000000"/><stop offset=".076" stop-color="#000000"/><stop offset=".133" stop-color="#050505"/><stop offset=".171" stop-color="#030303"/><stop offset=".2" stop-color="#070707"/><stop offset=".233" stop-color="#000000"/><stop offset=".286" stop-color="#010101"/><stop offset=".324" stop-color="#070707"/><stop offset=".333" stop-color="#0c0c0c"/><stop offset=".357" stop-color="#1f1f1f"/><stop offset=".371" stop-color="#222222"/><stop offset=".386" stop-color="#1f1f1f"/><stop offset=".419" stop-color="#060606"/><stop offset=".438" stop-color="#020202"/><stop offset=".571" stop-color="#030303"/><stop offset=".648" stop-color="#101010"/><stop offset=".671" stop-color="#111111"/><stop offset=".695" stop-color="#0f0f0f"/><stop offset=".752" stop-color="#030303"/><stop offset=".781" stop-color="#000000"/><stop offset=".91" stop-color="#000000"/><stop offset=".943" stop-color="#090909"/><stop offset=".971" stop-color="#000000"/><stop offset="1" stop-color="#000000"/></linearGradient>
<linearGradient id="f29"><stop offset="0" stop-color="#000000"/><stop offset=".076" stop-color="#000000"/><stop offset=".133" stop-color="#090909"/><stop offset=".171" stop-color="#040404"/><stop offset=".205" stop-color="#040404"/><stop offset=".233" stop-color="#000000"/><stop offset=".29" stop-color="#010101"/><stop offset=".324" stop-color="#090909"/><stop offset=".352" stop-color="#232323"/><stop offset=".362" stop-color="#282828"/><stop offset=".371" stop-color="#292929"/><stop offset=".386" stop-color="#262626"/><stop offset=".395" stop-color="#202020"/><stop offset=".419" stop-color="#090909"/><stop offset=".438" stop-color="#030303"/><stop offset=".567" stop-color="#040404"/><stop offset=".59" stop-color="#090909"/><stop offset=".643" stop-color="#1a1a1a"/><stop offset=".671" stop-color="#1d1d1d"/><stop offset=".7" stop-color="#191919"/><stop offset=".752" stop-color="#070707"/><stop offset=".786" stop-color="#010101"/><stop offset=".905" stop-color="#000000"/><stop offset=".933" stop-color="#0d0d0d"/><stop offset=".943" stop-color="#0e0e0e"/><stop offset=".952" stop-color="#0c0c0c"/><stop offset=".976" stop-color="#000000"/><stop offset="1" stop-color="#000000"/></linearGradient>
<linearGradient id="f30"><stop offset="0" stop-color="#000000"/><stop offset=".076" stop-color="#000000"/><stop offset=".114" stop-color="#0a0a0a"/><stop offset=".133" stop-color="#0c0c0c"/><stop offset=".181" stop-color="#040404"/><stop offset=".224" stop-color="#000000"/><stop offset=".295" stop-color="#020202"/><stop offset=".319" stop-color="#080808"/><stop offset=".329" stop-color="#0f0f0f"/><stop offset=".352" stop-color="#272727"/><stop offset=".371" stop-color="#2d2d2d"/><stop offset=".39" stop-color="#282828"/><stop offset=".424" stop-color="#080808"/><stop offset=".443" stop-color="#030303"/><stop offset=".533" stop-color="#030303"/><stop offset=".562" stop-color="#050505"/><stop offset=".586" stop-color="#0c0c0c"/><stop offset=".638" stop-color="#232323"/><stop offset=".671" stop-color="#282828"/><stop offset=".705" stop-color="#222222"/><stop offset=".762" stop-color="#080808"/><stop offset=".79" stop-color="#020202"/><stop offset=".905" stop-color="#000000"/><stop offset=".929" stop-color="#0f0f0f"/><stop offset=".943" stop-color="#121212"/><stop offset=".957" stop-color="#0e0e0e"/><stop offset=".976" stop-color="#010101"/><stop offset="1" stop-color="#000000"/></linearGradient>
<linearGradient id="f31"><stop offset="0" stop-color="#000000"/><stop offset=".071" stop-color="#000000"/><stop offset=".114" stop-color="#0d0d0d"/><stop offset=".133" stop-color="#101010"/><stop offset=".148" stop-color="#0f0f0f"/><stop offset=".186" stop-color="#040404"/><stop offset=".21" stop-color="#010101"/><stop offset=".3" stop-color="#020202"/><stop offset=".319" stop-color="#080808"/><stop offset=".352" stop-color="#292929"/><stop offset=".371" stop-color="#2d2d2d"/><stop offset=".39" stop-color="#2a2a2a"/><stop offset=".4" stop-color="#222222"/><stop offset=".419" stop-color="#0d0d0d"/><stop offset=".433" stop-color="#040404"/><stop offset=".543" stop-color="#040404"/><stop offset=".576" stop-color="#0c0c0c"/><stop offset=".633" stop-color="#292929"/><stop offset=".652" stop-color="#2d2d2d"/><stop offset=".671" stop-color="#2e2e2e"/><stop offset=".69" stop-color="#2d2d2d"/><stop offset=".71" stop-color="#282828"/><stop offset=".767" stop-color="#0a0a0a"/><stop offset=".795" stop-color="#020202"/><stop offset=".9" stop-color="#000000"/><stop offset=".91" stop-color="#040404"/><stop offset=".929" stop-color="#121212"/><stop offset=".943" stop-color="#151515"/><stop offset=".957" stop-color="#111111"/><stop offset=".981" stop-color="#000000"/><stop offset="1" stop-color="#000000"/></linearGradient>
<linearGradient id="f32"><stop offset="0" stop-color="#000000"/><stop offset=".067" stop-color="#000000"/><stop offset=".114" stop-color="#101010"/><stop offset=".133" stop-color="#131313"/><stop offset=".152" stop-color="#111111"/><stop offset=".186" stop-color="#050505"/><stop offset=".205" stop-color="#010101"/><stop offset=".3" stop-color="#020202"/><stop offset=".319" stop-color="#080808"/><stop offset=".352" stop-color="#292929"/><stop offset=".371" stop-color="#2e2e2e"/><stop offset=".39" stop-color="#292929"/><stop offset=".4" stop-color="#222222"/><stop offset=".419" stop-color="#0d0d0d"/><stop offset=".433" stop-color="#050505"/><stop offset=".538" stop-color="#040404"/><stop offset=".571" stop-color="#0c0c0c"/><stop offset=".629" stop-color="#2b2b2b"/><stop offset=".648" stop-color="#2f2f2f"/><stop offset=".667" stop-color="#303030"/><stop offset=".69" stop-color="#2f2f2f"/><stop offset=".71" stop-color="#2b2b2b"/><stop offset=".729" stop-color="#232323"/><stop offset=".767" stop-color="#0c0c0c"/><stop offset=".795" stop-color="#020202"/><stop offset=".833" stop-color="#000000"/><stop offset=".9" stop-color="#000000"/><stop offset=".91" stop-color="#050505"/><stop offset=".929" stop-color="#131313"/><stop offset=".943" stop-color="#151515"/><stop offset=".957" stop-color="#131313"/><stop offset=".981" stop-color="#010101"/><stop offset="1" stop-color="#000000"/></linearGradient>
<linearGradient id="f33"><stop offset="0" stop-color="#000000"/><stop offset=".067" stop-color="#000000"/><stop offset=".11" stop-color="#111111"/><stop offset=".133" stop-color="#151515"/><stop offset=".157" stop-color="#121212"/><stop offset=".19" stop-color="#050505"/><stop offset=".21" stop-color="#010101"/><stop offset=".305" stop-color="#020202"/><stop offset=".314" stop-color="#050505"/><stop offset=".324" stop-color="#0a0a0a"/><stop offset=".352" stop-color="#262626"/><stop offset=".362" stop-color="#2b2b2b"/><stop offset=".371" stop-color="#2c2c2c"/><stop offset=".381" stop-color="#2b2b2b"/><stop offset=".39" stop-color="#272727"/><stop offset=".419" stop-color="#0b0b0b"/><stop offset=".433" stop-color="#050505"/><stop offset=".538" stop-color="#040404"/><stop offset=".571" stop-color="#0c0c0c"/><stop offset=".629" stop-color="#2b2b2b"/><stop offset=".648" stop-color="#2f2f2f"/><stop offset=".667" stop-color="#303030"/><stop offset=".69" stop-color="#303030"/><stop offset=".71" stop-color="#2c2c2c"/><stop offset=".729" stop-color="#232323"/><stop offset=".767" stop-color="#0c0c0c"/><stop offset=".795" stop-color="#030303"/><stop offset=".833" stop-color="#000000"/><stop offset=".9" stop-color="#000000"/><stop offset=".91" stop-color="#050505"/><stop offset=".929" stop-color="#131313"/><stop offset=".943" stop-color="#151515"/><stop offset=".957" stop-color="#131313"/><stop offset=".981" stop-color="#010101"/><stop offset="1" stop-color="#000000"/></linearGradient>
<linearGradient id="f34"><stop offset="0" stop-color="#000000"/><stop offset=".067" stop-color="#010101"/><stop offset=".11" stop-color="#131313"/><stop offset=".133" stop-color="#171717"/><stop offset=".157" stop-color="#141414"/><stop offset=".19" stop-color="#060606"/><stop offset=".21" stop-color="#010101"/><stop offset=".305" stop-color="#020202"/><stop offset=".324" stop-color="#080808"/><stop offset=".352" stop-color="#212121"/><stop offset=".362" stop-color="#262626"/><stop offset=".371" stop-color="#282828"/><stop offset=".381" stop-color="#262626"/><stop offset=".39" stop-color="#212121"/><stop offset=".414" stop-color="#0c0c0c"/><stop offset=".429" stop-color="#050505"/><stop offset=".448" stop-color="#030303"/><stop offset=".543" stop-color="#050505"/><stop offset=".576" stop-color="#0c0c0c"/><stop offset=".633" stop-color="#292929"/><stop offset=".652" stop-color="#2e2e2e"/><stop offset=".671" stop-color="#2f2f2f"/><stop offset=".69" stop-color="#2d2d2d"/><stop offset=".71" stop-color="#282828"/><stop offset=".767" stop-color="#0a0a0a"/><stop offset=".795" stop-color="#020202"/><stop offset=".9" stop-color="#000000"/><stop offset=".91" stop-color="#040404"/><stop offset=".929" stop-color="#121212"/><stop offset=".943" stop-color="#151515"/><stop offset=".957" stop-color="#111111"/><stop offset=".981" stop-color="#000000"/><stop offset="1" stop-color="#000000"/></linearGradient>
<linearGradient id="f35"><stop offset="0" stop-color="#000000"/><stop offset=".062" stop-color="#000000"/><stop offset=".11" stop-color="#151515"/><stop offset=".133" stop-color="#181818"/><stop offset=".157" stop-color="#151515"/><stop offset=".195" stop-color="#050505"/><stop offset=".21" stop-color="#020202"/><stop offset=".31" stop-color="#020202"/><stop offset=".324" stop-color="#060606"/><stop offset=".357" stop-color="#1c1c1c"/><stop offset=".371" stop-color="#202020"/><stop offset=".386" stop-color="#1c1c1c"/><stop offset=".414" stop-color="#090909"/><stop offset=".429" stop-color="#050505"/><stop offset=".548" stop-color="#050505"/><stop offset=".581" stop-color="#0b0b0b"/><stop offset=".638" stop-color="#242424"/><stop offset=".671" stop-color="#292929"/><stop offset=".705" stop-color="#232323"/><stop offset=".757" stop-color="#0b0b0b"/><stop offset=".786" stop-color="#030303"/><stop offset=".9" stop-color="#010101"/><stop offset=".91" stop-color="#030303"/><stop offset=".929" stop-color="#101010"/><stop offset=".943" stop-color="#131313"/><stop offset=".957" stop-color="#0f0f0f"/><stop offset=".981" stop-color="#000000"/><stop offset="1" stop-color="#000000"/></linearGradient>
<linearGradient id="f36"><stop offset="0" stop-color="#000000"/><stop offset=".062" stop-color="#000000"/><stop offset=".105" stop-color="#141414"/><stop offset=".133" stop-color="#181818"/><stop offset=".157" stop-color="#161616"/><stop offset=".195" stop-color="#050505"/><stop offset=".219" stop-color="#010101"/><stop offset=".319" stop-color="#030303"/><stop offset=".333" stop-color="#080808"/><stop offset=".357" stop-color="#141414"/><stop offset=".371" stop-color="#171717"/><stop offset=".386" stop-color="#151515"/><stop offset=".41" stop-color="#0a0a0a"/><stop offset=".429" stop-color="#060606"/><stop offset=".552" stop-color="#040404"/><stop offset=".586" stop-color="#090909"/><stop offset=".648" stop-color="#1c1c1c"/><stop offset=".671" stop-color="#1f1f1f"/><stop offset=".7" stop-color="#1b1b1b"/><stop offset=".752" stop-color="#080808"/><stop offset=".781" stop-color="#030303"/><stop offset=".9" stop-color="#020202"/><stop offset=".91" stop-color="#040404"/><stop offset=".933" stop-color="#0f0f0f"/><stop offset=".943" stop-color="#101010"/><stop offset=".952" stop-color="#0e0e0e"/><stop offset=".976" stop-color="#010101"/><stop offset="1" stop-color="#000000"/></linearGradient>
<linearGradient id="f37"><stop offset="0" stop-color="#000000"/><stop offset=".062" stop-color="#000000"/><stop offset=".105" stop-color="#141414"/><stop offset=".119" stop-color="#181818"/><stop offset=".138" stop-color="#181818"/><stop offset=".157" stop-color="#171717"/><stop offset=".2" stop-color="#040404"/><stop offset=".224" stop-color="#010101"/><stop offset=".319" stop-color="#040404"/><stop offset=".371" stop-color="#131313"/><stop offset=".429" stop-color="#0a0a0a"/><stop offset=".538" stop-color="#040404"/><stop offset=".586" stop-color="#060606"/><stop offset=".648" stop-color="#111111"/><stop offset=".671" stop-color="#131313"/><stop offset=".771" stop-color="#040404"/><stop offset=".852" stop-color="#070707"/><stop offset=".905" stop-color="#050505"/><stop offset=".943" stop-color="#0d0d0d"/><stop offset=".976" stop-color="#000000"/><stop offset="1" stop-color="#000000"/></linearGradient>
<linearGradient id="f38"><stop offset="0" stop-color="#000000"/><stop offset=".062" stop-color="#000000"/><stop offset=".105" stop-color="#141414"/><stop offset=".119" stop-color="#181818"/><stop offset=".138" stop-color="#181818"/><stop offset=".157" stop-color="#171717"/><stop offset=".2" stop-color="#040404"/><stop offset=".224" stop-color="#010101"/><stop offset=".305" stop-color="#050505"/><stop offset=".367" stop-color="#141414"/><stop offset=".386" stop-color="#151515"/><stop offset=".524" stop-color="#040404"/><stop offset=".586" stop-color="#040404"/><stop offset=".667" stop-color="#090909"/><stop offset=".757" stop-color="#040404"/><stop offset=".862" stop-color="#0c0c0c"/><stop offset=".91" stop-color="#0a0a0a"/><stop offset=".938" stop-color="#0b0b0b"/><stop offset=".976" stop-color="#010101"/><stop offset="1" stop-color="#000000"/></linearGradient>
<linearGradient id="f39"><stop offset="0" stop-color="#000000"/><stop offset=".062" stop-color="#000000"/><stop offset=".105" stop-color="#141414"/><stop offset=".133" stop-color="#181818"/><stop offset=".162" stop-color="#151515"/><stop offset=".195" stop-color="#050505"/><stop offset=".21" stop-color="#020202"/><stop offset=".267" stop-color="#020202"/><stop offset=".305" stop-color="#070707"/><stop offset=".367" stop-color="#1a1a1a"/><stop offset=".395" stop-color="#1d1d1d"/><stop offset=".433" stop-color="#1a1a1a"/><stop offset=".495" stop-color="#090909"/><stop offset=".533" stop-color="#040404"/><stop offset=".733" stop-color="#040404"/><stop offset=".829" stop-color="#101010"/><stop offset=".867" stop-color="#121212"/><stop offset=".938" stop-color="#0c0c0c"/><stop offset=".976" stop-color="#020202"/><stop offset="1" stop-color="#000000"/></linearGradient>
<linearGradient id="f40"><stop offset="0" stop-color="#000000"/><stop offset=".062" stop-color="#000000"/><stop offset=".11" stop-color="#141414"/><stop offset=".133" stop-color="#181818"/><stop offset=".157" stop-color="#151515"/><stop offset=".205" stop-color="#020202"/><stop offset=".224" stop-color="#000000"/><stop offset=".262" stop-color="#020202"/><stop offset=".295" stop-color="#080808"/><stop offset=".362" stop-color="#202020"/><stop offset=".4" stop-color="#242424"/><stop offset=".438" stop-color="#202020"/><stop offset=".505" stop-color="#0a0a0a"/><stop offset=".543" stop-color="#040404"/><stop offset=".724" stop-color="#030303"/><stop offset=".752" stop-color="#070707"/><stop offset=".819" stop-color="#131313"/><stop offset=".862" stop-color="#161616"/><stop offset=".919" stop-color="#111111"/><stop offset="1" stop-color="#000000"/></linearGradient>
<linearGradient id="f41"><stop offset="0" stop-color="#000000"/><stop offset=".067" stop-color="#010101"/><stop offset=".11" stop-color="#131313"/><stop offset=".133" stop-color="#171717"/><stop offset=".157" stop-color="#141414"/><stop offset=".205" stop-color="#020202"/><stop offset=".257" stop-color="#020202"/><stop offset=".29" stop-color="#090909"/><stop offset=".357" stop-color="#232323"/><stop offset=".381" stop-color="#272727"/><stop offset=".405" stop-color="#282828"/><stop offset=".443" stop-color="#242424"/><stop offset=".51" stop-color="#0b0b0b"/><stop offset=".543" stop-color="#050505"/><stop offset=".714" stop-color="#030303"/><stop offset=".748" stop-color="#070707"/><stop offset=".814" stop-color="#151515"/><stop offset=".862" stop-color="#181818"/><stop offset=".919" stop-color="#141414"/><stop offset="1" stop-color="#010101"/></linearGradient>
<linearGradient id="f42"><stop offset="0" stop-color="#000000"/><stop offset=".067" stop-color="#000000"/><stop offset=".11" stop-color="#111111"/><stop offset=".133" stop-color="#151515"/><stop offset=".157" stop-color="#121212"/><stop offset=".19" stop-color="#040404"/><stop offset=".205" stop-color="#010101"/><stop offset=".252" stop-color="#010101"/><stop offset=".286" stop-color="#080808"/><stop offset=".352" stop-color="#242424"/><stop offset=".376" stop-color="#282828"/><stop offset=".405" stop-color="#292929"/><stop offset=".448" stop-color="#252525"/><stop offset=".505" stop-color="#101010"/><stop offset=".538" stop-color="#0a0a0a"/><stop offset=".671" stop-color="#030303"/><stop offset=".71" stop-color="#030303"/><stop offset=".743" stop-color="#070707"/><stop offset=".814" stop-color="#171717"/><stop offset=".871" stop-color="#191919"/><stop offset=".924" stop-color="#141414"/><stop offset="1" stop-color="#010101"/></linearGradient>
<linearGradient id="f43"><stop offset="0" stop-color="#000000"/><stop offset=".071" stop-color="#000000"/><stop offset=".11" stop-color="#0e0e0e"/><stop offset=".133" stop-color="#121212"/><stop offset=".152" stop-color="#101010"/><stop offset=".2" stop-color="#010101"/><stop offset=".257" stop-color="#020202"/><stop offset=".29" stop-color="#090909"/><stop offset=".352" stop-color="#232323"/><stop offset=".376" stop-color="#272727"/><stop offset=".405" stop-color="#282828"/><stop offset=".443" stop-color="#252525"/><stop offset=".51" stop-color="#141414"/><stop offset=".59" stop-color="#131313"/><stop offset=".686" stop-color="#030303"/><stop offset=".729" stop-color="#040404"/><stop offset=".81" stop-color="#161616"/><stop offset=".857" stop-color="#191919"/><stop offset=".919" stop-color="#151515"/><stop offset="1" stop-color="#010101"/></linearGradient>
<linearGradient id="f44"><stop offset="0" stop-color="#000000"/><stop offset=".076" stop-color="#000000"/><stop offset=".114" stop-color="#0d0d0d"/><stop offset=".133" stop-color="#0f0f0f"/><stop offset=".152" stop-color="#0d0d0d"/><stop offset=".2" stop-color="#000000"/><stop offset=".257" stop-color="#010101"/><stop offset=".29" stop-color="#070707"/><stop offset=".362" stop-color="#212121"/><stop offset=".405" stop-color="#262626"/><stop offset=".433" stop-color="#242424"/><stop offset=".495" stop-color="#1b1b1b"/><stop offset=".562" stop-color="#1e1e1e"/><stop offset=".59" stop-color="#1d1d1d"/><stop offset=".619" stop-color="#181818"/><stop offset=".676" stop-color="#070707"/><stop offset=".7" stop-color="#030303"/><stop offset=".733" stop-color="#040404"/><stop offset=".814" stop-color="#151515"/><stop offset=".862" stop-color="#181818"/><stop offset=".919" stop-color="#131313"/><stop offset="1" stop-color="#000000"/></linearGradient>
<linearGradient id="f45"><stop offset="0" stop-color="#000000"/><stop offset=".081" stop-color="#000000"/><stop offset=".114" stop-color="#090909"/><stop offset=".133" stop-color="#0c0c0c"/><stop offset=".152" stop-color="#0a0a0a"/><stop offset=".195" stop-color="#000000"/><stop offset=".257" stop-color="#000000"/><stop offset=".295" stop-color="#050505"/><stop offset=".357" stop-color="#191919"/><stop offset=".386" stop-color="#1f1f1f"/><stop offset=".414" stop-color="#1f1f1f"/><stop offset=".476" stop-color="#1b1b1b"/><stop offset=".567" stop-color="#232323"/><stop offset=".614" stop-color="#1f1f1f"/><stop offset=".681" stop-color="#080808"/><stop offset=".71" stop-color="#030303"/><stop offset=".748" stop-color="#050505"/><stop offset=".824" stop-color="#131313"/><stop offset=".867" stop-color="#151515"/><stop offset=".91" stop-color="#121212"/><stop offset="1" stop-color="#000000"/></linearGradient>
<linearGradient id="f46"><stop offset="0" stop-color="#000000"/><stop offset=".086" stop-color="#000000"/><stop offset=".133" stop-color="#080808"/><stop offset=".19" stop-color="#000000"/><stop offset=".271" stop-color="#000000"/><stop offset=".305" stop-color="#040404"/><stop offset=".381" stop-color="#141414"/><stop offset=".462" stop-color="#141414"/><stop offset=".529" stop-color="#202020"/><stop offset=".567" stop-color="#232323"/><stop offset=".595" stop-color="#222222"/><stop offset=".619" stop-color="#1e1e1e"/><stop offset=".681" stop-color="#080808"/><stop offset=".71" stop-color="#020202"/><stop offset=".748" stop-color="#030303"/><stop offset=".824" stop-color="#0e0e0e"/><stop offset=".867" stop-color="#111111"/><stop offset=".9" stop-color="#0e0e0e"/><stop offset=".976" stop-color="#010101"/><stop offset="1" stop-color="#000000"/></linearGradient>
<linearGradient id="f47"><stop offset="0" stop-color="#000000"/><stop offset=".09" stop-color="#000000"/><stop offset=".133" stop-color="#050505"/><stop offset=".181" stop-color="#000000"/><stop offset=".29" stop-color="#000000"/><stop offset=".386" stop-color="#0b0b0b"/><stop offset=".462" stop-color="#0c0c0c"/><stop offset=".533" stop-color="#1d1d1d"/><stop offset=".571" stop-color="#202020"/><stop offset=".614" stop-color="#1c1c1c"/><stop offset=".676" stop-color="#070707"/><stop offset=".71" stop-color="#010101"/><stop offset=".752" stop-color="#010101"/><stop offset=".862" stop-color="#0b0b0b"/><stop offset=".9" stop-color="#090909"/><stop offset=".967" stop-color="#000000"/><stop offset="1" stop-color="#000000"/></linearGradient>
<linearGradient id="f48"><stop offset="0" stop-color="#000000"/><stop offset=".105" stop-color="#000000"/><stop offset=".133" stop-color="#020202"/><stop offset=".171" stop-color="#000000"/><stop offset=".31" stop-color="#000000"/><stop offset=".386" stop-color="#040404"/><stop offset=".452" stop-color="#050505"/><stop offset=".481" stop-color="#080808"/><stop offset=".538" stop-color="#151515"/><stop offset=".571" stop-color="#181818"/><stop offset=".605" stop-color="#151515"/><stop offset=".667" stop-color="#050505"/><stop offset=".705" stop-color="#010101"/><stop offset=".757" stop-color="#000000"/><stop offset=".862" stop-color="#050505"/><stop offset=".943" stop-color="#000000"/><stop offset="1" stop-color="#000000"/></linearGradient>
<linearGradient id="f49"><stop offset="0" stop-color="#000000"/><stop offset=".452" stop-color="#010101"/><stop offset=".571" stop-color="#0b0b0b"/><stop offset=".69" stop-color="#000000"/><stop offset="1" stop-color="#000000"/></linearGradient>
<linearGradient id="f50"><stop offset="0" stop-color="#000000"/><stop offset=".452" stop-color="#000000"/><stop offset=".571" stop-color="#030303"/><stop offset=".695" stop-color="#000000"/><stop offset="1" stop-color="#000000"/></linearGradient>
<linearGradient id="f51"><stop offset="0" stop-color="#000000"/><stop offset=".124" stop-color="#000000"/><stop offset=".238" stop-color="#0e0e0e"/><stop offset=".295" stop-color="#111111"/><stop offset=".462" stop-color="#050505"/><stop offset=".748" stop-color="#090909"/><stop offset="1" stop-color="#020202"/></linearGradient>
<linearGradient id="f52"><stop offset="0" stop-color="#000000"/><stop offset=".095" stop-color="#000000"/><stop offset=".219" stop-color="#191919"/><stop offset=".314" stop-color="#1f1f1f"/><stop offset=".367" stop-color="#1d1d1d"/><stop offset=".452" stop-color="#0f0f0f"/><stop offset=".49" stop-color="#0c0c0c"/><stop offset=".752" stop-color="#101010"/><stop offset=".886" stop-color="#0e0e0e"/><stop offset="1" stop-color="#090909"/></linearGradient>
<linearGradient id="f53"><stop offset="0" stop-color="#000000"/><stop offset=".105" stop-color="#000000"/><stop offset=".224" stop-color="#151515"/><stop offset=".295" stop-color="#1a1a1a"/><stop offset=".352" stop-color="#181818"/><stop offset=".438" stop-color="#0c0c0c"/><stop offset=".481" stop-color="#090909"/><stop offset=".752" stop-color="#0e0e0e"/><stop offset=".876" stop-color="#0c0c0c"/><stop offset="1" stop-color="#060606"/></linearGradient>
<linearGradient id="f54"><stop offset="0" stop-color="#000000"/><stop offset=".171" stop-color="#000000"/><stop offset=".305" stop-color="#070707"/><stop offset=".448" stop-color="#030303"/><stop offset=".81" stop-color="#050505"/><stop offset="1" stop-color="#000000"/></linearGradient>
<linearGradient id="f55"><stop offset="0" stop-color="#000000"/><stop offset=".11" stop-color="#000000"/><stop offset=".462" stop-color="#141414"/><stop offset=".681" stop-color="#151515"/><stop offset=".79" stop-color="#181818"/><stop offset=".881" stop-color="#141414"/><stop offset="1" stop-color="#050505"/></linearGradient>
<linearGradient id="f56"><stop offset="0" stop-color="#000000"/><stop offset=".086" stop-color="#020202"/><stop offset=".371" stop-color="#191919"/><stop offset=".648" stop-color="#1d1d1d"/><stop offset=".781" stop-color="#252525"/><stop offset=".829" stop-color="#242424"/><stop offset=".9" stop-color="#1e1e1e"/><stop offset="1" stop-color="#0d0d0d"/></linearGradient>
<linearGradient id="f57"><stop offset="0" stop-color="#000000"/><stop offset=".119" stop-color="#000000"/><stop offset=".462" stop-color="#131313"/><stop offset=".681" stop-color="#141414"/><stop offset=".795" stop-color="#181818"/><stop offset=".886" stop-color="#131313"/><stop offset="1" stop-color="#040404"/></linearGradient>
</defs>
<clipPath id="ca"><rect x="188" y="140" width="184.5" height="222"/></clipPath>
<g clip-path="url(#ca)"><g filter="url(#jeta)">
<rect x="178" y="130" width="204.5" height="242" fill="#000"/>
<rect x="178" y="128" width="204.5" height="5" fill="url(#a0)"/>
<rect x="178" y="132" width="204.5" height="5" fill="url(#a1)"/>
<rect x="178" y="136" width="204.5" height="5" fill="url(#a2)"/>
<rect x="178" y="140" width="204.5" height="5" fill="url(#a3)"/>
<rect x="178" y="144" width="204.5" height="5" fill="url(#a4)"/>
<rect x="178" y="148" width="204.5" height="5" fill="url(#a5)"/>
<rect x="178" y="152" width="204.5" height="5" fill="url(#a6)"/>
<rect x="178" y="156" width="204.5" height="5" fill="url(#a7)"/>
<rect x="178" y="160" width="204.5" height="5" fill="url(#a8)"/>
<rect x="178" y="164" width="204.5" height="5" fill="url(#a9)"/>
<rect x="178" y="168" width="204.5" height="5" fill="url(#a10)"/>
<rect x="178" y="172" width="204.5" height="5" fill="url(#a11)"/>
<rect x="178" y="176" width="204.5" height="5" fill="url(#a12)"/>
<rect x="178" y="180" width="204.5" height="5" fill="url(#a13)"/>
<rect x="178" y="184" width="204.5" height="5" fill="url(#a14)"/>
<rect x="178" y="188" width="204.5" height="5" fill="url(#a15)"/>
<rect x="178" y="192" width="204.5" height="5" fill="url(#a16)"/>
<rect x="178" y="196" width="204.5" height="5" fill="url(#a17)"/>
<rect x="178" y="200" width="204.5" height="5" fill="url(#a18)"/>
<rect x="178" y="204" width="204.5" height="5" fill="url(#a19)"/>
<rect x="178" y="208" width="204.5" height="5" fill="url(#a20)"/>
<rect x="178" y="212" width="204.5" height="5" fill="url(#a21)"/>
<rect x="178" y="216" width="204.5" height="5" fill="url(#a22)"/>
<rect x="178" y="220" width="204.5" height="5" fill="url(#a23)"/>
<rect x="178" y="224" width="204.5" height="5" fill="url(#a24)"/>
<rect x="178" y="228" width="204.5" height="5" fill="url(#a25)"/>
<rect x="178" y="232" width="204.5" height="5" fill="url(#a26)"/>
<rect x="178" y="236" width="204.5" height="5" fill="url(#a27)"/>
<rect x="178" y="240" width="204.5" height="5" fill="url(#a28)"/>
<rect x="178" y="244" width="204.5" height="5" fill="url(#a29)"/>
<rect x="178" y="248" width="204.5" height="5" fill="url(#a30)"/>
<rect x="178" y="252" width="204.5" height="5" fill="url(#a31)"/>
<rect x="178" y="256" width="204.5" height="5" fill="url(#a32)"/>
<rect x="178" y="260" width="204.5" height="5" fill="url(#a33)"/>
<rect x="178" y="264" width="204.5" height="5" fill="url(#a34)"/>
<rect x="178" y="268" width="204.5" height="5" fill="url(#a35)"/>
<rect x="178" y="272" width="204.5" height="5" fill="url(#a36)"/>
<rect x="178" y="276" width="204.5" height="5" fill="url(#a37)"/>
<rect x="178" y="280" width="204.5" height="5" fill="url(#a38)"/>
<rect x="178" y="284" width="204.5" height="5" fill="url(#a39)"/>
<rect x="178" y="288" width="204.5" height="5" fill="url(#a40)"/>
<rect x="178" y="292" width="204.5" height="5" fill="url(#a41)"/>
<rect x="178" y="296" width="204.5" height="5" fill="url(#a42)"/>
<rect x="178" y="300" width="204.5" height="5" fill="url(#a43)"/>
<rect x="178" y="304" width="204.5" height="5" fill="url(#a44)"/>
<rect x="178" y="308" width="204.5" height="5" fill="url(#a45)"/>
<rect x="178" y="312" width="204.5" height="5" fill="url(#a46)"/>
<rect x="178" y="316" width="204.5" height="5" fill="url(#a47)"/>
<rect x="178" y="320" width="204.5" height="5" fill="url(#a48)"/>
<rect x="178" y="324" width="204.5" height="5" fill="url(#a49)"/>
<rect x="178" y="328" width="204.5" height="5" fill="url(#a50)"/>
<rect x="178" y="332" width="204.5" height="5" fill="url(#a51)"/>
<rect x="178" y="336" width="204.5" height="5" fill="url(#a52)"/>
<rect x="178" y="340" width="204.5" height="5" fill="url(#a53)"/>
<rect x="178" y="344" width="204.5" height="5" fill="url(#a54)"/>
<rect x="178" y="348" width="204.5" height="5" fill="url(#a55)"/>
<rect x="178" y="352" width="204.5" height="5" fill="url(#a56)"/>
<rect x="178" y="356" width="204.5" height="5" fill="url(#a57)"/>
<rect x="178" y="360" width="204.5" height="5" fill="url(#a58)"/>
<rect x="178" y="364" width="204.5" height="5" fill="url(#a59)"/>
<rect x="178" y="368" width="204.5" height="5" fill="url(#a60)"/>
</g></g>
<clipPath id="cb"><rect x="409.6" y="140" width="184.2" height="222.5"/></clipPath>
<g clip-path="url(#cb)"><g filter="url(#jetb)">
<rect x="399.6" y="130" width="204.2" height="242.5" fill="#000"/>
<rect x="399.6" y="128" width="204.2" height="5" fill="url(#b0)"/>
<rect x="399.6" y="132" width="204.2" height="5" fill="url(#b1)"/>
<rect x="399.6" y="136" width="204.2" height="5" fill="url(#b2)"/>
<rect x="399.6" y="140" width="204.2" height="5" fill="url(#b3)"/>
<rect x="399.6" y="144" width="204.2" height="5" fill="url(#b4)"/>
<rect x="399.6" y="148" width="204.2" height="5" fill="url(#b5)"/>
<rect x="399.6" y="152" width="204.2" height="5" fill="url(#b6)"/>
<rect x="399.6" y="156" width="204.2" height="5" fill="url(#b7)"/>
<rect x="399.6" y="160" width="204.2" height="5" fill="url(#b8)"/>
<rect x="399.6" y="164" width="204.2" height="5" fill="url(#b9)"/>
<rect x="399.6" y="168" width="204.2" height="5" fill="url(#b10)"/>
<rect x="399.6" y="172" width="204.2" height="5" fill="url(#b11)"/>
<rect x="399.6" y="176" width="204.2" height="5" fill="url(#b12)"/>
<rect x="399.6" y="180" width="204.2" height="5" fill="url(#b13)"/>
<rect x="399.6" y="184" width="204.2" height="5" fill="url(#b14)"/>
<rect x="399.6" y="188" width="204.2" height="5" fill="url(#b15)"/>
<rect x="399.6" y="192" width="204.2" height="5" fill="url(#b16)"/>
<rect x="399.6" y="196" width="204.2" height="5" fill="url(#b17)"/>
<rect x="399.6" y="200" width="204.2" height="5" fill="url(#b18)"/>
<rect x="399.6" y="204" width="204.2" height="5" fill="url(#b19)"/>
<rect x="399.6" y="208" width="204.2" height="5" fill="url(#b20)"/>
<rect x="399.6" y="212" width="204.2" height="5" fill="url(#b21)"/>
<rect x="399.6" y="216" width="204.2" height="5" fill="url(#b22)"/>
<rect x="399.6" y="220" width="204.2" height="5" fill="url(#b23)"/>
<rect x="399.6" y="224" width="204.2" height="5" fill="url(#b24)"/>
<rect x="399.6" y="228" width="204.2" height="5" fill="url(#b25)"/>
<rect x="399.6" y="232" width="204.2" height="5" fill="url(#b26)"/>
<rect x="399.6" y="236" width="204.2" height="5" fill="url(#b27)"/>
<rect x="399.6" y="240" width="204.2" height="5" fill="url(#b28)"/>
<rect x="399.6" y="244" width="204.2" height="5" fill="url(#b29)"/>
<rect x="399.6" y="248" width="204.2" height="5" fill="url(#b30)"/>
<rect x="399.6" y="252" width="204.2" height="5" fill="url(#b31)"/>
<rect x="399.6" y="256" width="204.2" height="5" fill="url(#b32)"/>
<rect x="399.6" y="260" width="204.2" height="5" fill="url(#b33)"/>
<rect x="399.6" y="264" width="204.2" height="5" fill="url(#b34)"/>
<rect x="399.6" y="268" width="204.2" height="5" fill="url(#b35)"/>
<rect x="399.6" y="272" width="204.2" height="5" fill="url(#b36)"/>
<rect x="399.6" y="276" width="204.2" height="5" fill="url(#b37)"/>
<rect x="399.6" y="280" width="204.2" height="5" fill="url(#b38)"/>
<rect x="399.6" y="284" width="204.2" height="5" fill="url(#b39)"/>
<rect x="399.6" y="288" width="204.2" height="5" fill="url(#b40)"/>
<rect x="399.6" y="292" width="204.2" height="5" fill="url(#b41)"/>
<rect x="399.6" y="296" width="204.2" height="5" fill="url(#b42)"/>
<rect x="399.6" y="300" width="204.2" height="5" fill="url(#b43)"/>
<rect x="399.6" y="304" width="204.2" height="5" fill="url(#b44)"/>
<rect x="399.6" y="308" width="204.2" height="5" fill="url(#b45)"/>
<rect x="399.6" y="312" width="204.2" height="5" fill="url(#b46)"/>
<rect x="399.6" y="316" width="204.2" height="5" fill="url(#b47)"/>
<rect x="399.6" y="320" width="204.2" height="5" fill="url(#b48)"/>
<rect x="399.6" y="324" width="204.2" height="5" fill="url(#b49)"/>
<rect x="399.6" y="328" width="204.2" height="5" fill="url(#b50)"/>
<rect x="399.6" y="332" width="204.2" height="5" fill="url(#b51)"/>
<rect x="399.6" y="336" width="204.2" height="5" fill="url(#b52)"/>
<rect x="399.6" y="340" width="204.2" height="5" fill="url(#b53)"/>
<rect x="399.6" y="344" width="204.2" height="5" fill="url(#b54)"/>
<rect x="399.6" y="348" width="204.2" height="5" fill="url(#b55)"/>
<rect x="399.6" y="352" width="204.2" height="5" fill="url(#b56)"/>
<rect x="399.6" y="356" width="204.2" height="5" fill="url(#b57)"/>
<rect x="399.6" y="360" width="204.2" height="5" fill="url(#b58)"/>
<rect x="399.6" y="364" width="204.2" height="5" fill="url(#b59)"/>
<rect x="399.6" y="368" width="204.2" height="5" fill="url(#b60)"/>
</g></g>
<clipPath id="cc"><rect x="691.2" y="140" width="190" height="221.5"/></clipPath>
<g clip-path="url(#cc)"><g filter="url(#jetc)">
<rect x="681.2" y="130" width="210" height="241.5" fill="#000"/>
<rect x="681.2" y="128" width="210" height="5" fill="url(#c0)"/>
<rect x="681.2" y="132" width="210" height="5" fill="url(#c1)"/>
<rect x="681.2" y="136" width="210" height="5" fill="url(#c2)"/>
<rect x="681.2" y="140" width="210" height="5" fill="url(#c3)"/>
<rect x="681.2" y="144" width="210" height="5" fill="url(#c4)"/>
<rect x="681.2" y="148" width="210" height="5" fill="url(#c5)"/>
<rect x="681.2" y="152" width="210" height="5" fill="url(#c6)"/>
<rect x="681.2" y="156" width="210" height="5" fill="url(#c7)"/>
<rect x="681.2" y="160" width="210" height="5" fill="url(#c8)"/>
<rect x="681.2" y="164" width="210" height="5" fill="url(#c9)"/>
<rect x="681.2" y="168" width="210" height="5" fill="url(#c10)"/>
<rect x="681.2" y="172" width="210" height="5" fill="url(#c11)"/>
<rect x="681.2" y="176" width="210" height="5" fill="url(#c12)"/>
<rect x="681.2" y="180" width="210" height="5" fill="url(#c13)"/>
<rect x="681.2" y="184" width="210" height="5" fill="url(#c14)"/>
<rect x="681.2" y="188" width="210" height="5" fill="url(#c15)"/>
<rect x="681.2" y="192" width="210" height="5" fill="url(#c16)"/>
<rect x="681.2" y="196" width="210" height="5" fill="url(#c17)"/>
<rect x="681.2" y="200" width="210" height="5" fill="url(#c18)"/>
<rect x="681.2" y="204" width="210" height="5" fill="url(#c19)"/>
<rect x="681.2" y="208" width="210" height="5" fill="url(#c20)"/>
<rect x="681.2" y="212" width="210" height="5" fill="url(#c21)"/>
<rect x="681.2" y="216" width="210" height="5" fill="url(#c22)"/>
<rect x="681.2" y="220" width="210" height="5" fill="url(#c23)"/>
<rect x="681.2" y="224" width="210" height="5" fill="url(#c24)"/>
<rect x="681.2" y="228" width="210" height="5" fill="url(#c25)"/>
<rect x="681.2" y="232" width="210" height="5" fill="url(#c26)"/>
<rect x="681.2" y="236" width="210" height="5" fill="url(#c27)"/>
<rect x="681.2" y="240" width="210" height="5" fill="url(#c28)"/>
<rect x="681.2" y="244" width="210" height="5" fill="url(#c29)"/>
<rect x="681.2" y="248" width="210" height="5" fill="url(#c30)"/>
<rect x="681.2" y="252" width="210" height="5" fill="url(#c31)"/>
<rect x="681.2" y="256" width="210" height="5" fill="url(#c32)"/>
<rect x="681.2" y="260" width="210" height="5" fill="url(#c33)"/>
<rect x="681.2" y="264" width="210" height="5" fill="url(#c34)"/>
<rect x="681.2" y="268" width="210" height="5" fill="url(#c35)"/>
<rect x="681.2" y="272" width="210" height="5" fill="url(#c36)"/>
<rect x="681.2" y="276" width="210" height="5" fill="url(#c37)"/>
<rect x="681.2" y="280" width="210" height="5" fill="url(#c38)"/>
<rect x="681.2" y="284" width="210" height="5" fill="url(#c39)"/>
<rect x="681.2" y="288" width="210" height="5" fill="url(#c40)"/>
<rect x="681.2" y="292" width="210" height="5" fill="url(#c41)"/>
<rect x="681.2" y="296" width="210" height="5" fill="url(#c42)"/>
<rect x="681.2" y="300" width="210" height="5" fill="url(#c43)"/>
<rect x="681.2" y="304" width="210" height="5" fill="url(#c44)"/>
<rect x="681.2" y="308" width="210" height="5" fill="url(#c45)"/>
<rect x="681.2" y="312" width="210" height="5" fill="url(#c46)"/>
<rect x="681.2" y="316" width="210" height="5" fill="url(#c47)"/>
<rect x="681.2" y="320" width="210" height="5" fill="url(#c48)"/>
<rect x="681.2" y="324" width="210" height="5" fill="url(#c49)"/>
<rect x="681.2" y="328" width="210" height="5" fill="url(#c50)"/>
<rect x="681.2" y="332" width="210" height="5" fill="url(#c51)"/>
<rect x="681.2" y="336" width="210" height="5" fill="url(#c52)"/>
<rect x="681.2" y="340" width="210" height="5" fill="url(#c53)"/>
<rect x="681.2" y="344" width="210" height="5" fill="url(#c54)"/>
<rect x="681.2" y="348" width="210" height="5" fill="url(#c55)"/>
<rect x="681.2" y="352" width="210" height="5" fill="url(#c56)"/>
<rect x="681.2" y="356" width="210" height="5" fill="url(#c57)"/>
<rect x="681.2" y="360" width="210" height="5" fill="url(#c58)"/>
</g></g>
<clipPath id="cd"><rect x="188" y="478.4" width="184.5" height="222"/></clipPath>
<g clip-path="url(#cd)"><g filter="url(#jetd)">
<rect x="178" y="468.4" width="204.5" height="242" fill="#000"/>
<rect x="178" y="466.4" width="204.5" height="5" fill="url(#d0)"/>
<rect x="178" y="470.4" width="204.5" height="5" fill="url(#d1)"/>
<rect x="178" y="474.4" width="204.5" height="5" fill="url(#d2)"/>
<rect x="178" y="478.4" width="204.5" height="5" fill="url(#d3)"/>
<rect x="178" y="482.4" width="204.5" height="5" fill="url(#d4)"/>
<rect x="178" y="486.4" width="204.5" height="5" fill="url(#d5)"/>
<rect x="178" y="490.4" width="204.5" height="5" fill="url(#d6)"/>
<rect x="178" y="494.4" width="204.5" height="5" fill="url(#d7)"/>
<rect x="178" y="498.4" width="204.5" height="5" fill="url(#d8)"/>
<rect x="178" y="502.4" width="204.5" height="5" fill="url(#d9)"/>
<rect x="178" y="506.4" width="204.5" height="5" fill="url(#d10)"/>
<rect x="178" y="510.4" width="204.5" height="5" fill="url(#d11)"/>
<rect x="178" y="514.4" width="204.5" height="5" fill="url(#d12)"/>
<rect x="178" y="518.4" width="204.5" height="5" fill="url(#d13)"/>
<rect x="178" y="522.4" width="204.5" height="5" fill="url(#d14)"/>
<rect x="178" y="526.4" width="204.5" height="5" fill="url(#d15)"/>
<rect x="178" y="530.4" width="204.5" height="5" fill="url(#d16)"/>
<rect x="178" y="534.4" width="204.5" height="5" fill="url(#d17)"/>
<rect x="178" y="538.4" width="204.5" height="5" fill="url(#d18)"/>
<rect x="178" y="542.4" width="204.5" height="5" fill="url(#d19)"/>
<rect x="178" y="546.4" width="204.5" height="5" fill="url(#d20)"/>
<rect x="178" y="550.4" width="204.5" height="5" fill="url(#d21)"/>
<rect x="178" y="554.4" width="204.5" height="5" fill="url(#d22)"/>
<rect x="178" y="558.4" width="204.5" height="5" fill="url(#d23)"/>
<rect x="178" y="562.4" width="204.5" height="5" fill="url(#d24)"/>
<rect x="178" y="566.4" width="204.5" height="5" fill="url(#d25)"/>
<rect x="178" y="570.4" width="204.5" height="5" fill="url(#d26)"/>
<rect x="178" y="574.4" width="204.5" height="5" fill="url(#d27)"/>
<rect x="178" y="578.4" width="204.5" height="5" fill="url(#d28)"/>
<rect x="178" y="582.4" width="204.5" height="5" fill="url(#d29)"/>
<rect x="178" y="586.4" width="204.5" height="5" fill="url(#d30)"/>
<rect x="178" y="590.4" width="204.5" height="5" fill="url(#d31)"/>
<rect x="178" y="594.4" width="204.5" height="5" fill="url(#d32)"/>
<rect x="178" y="598.4" width="204.5" height="5" fill="url(#d33)"/>
<rect x="178" y="602.4" width="204.5" height="5" fill="url(#d34)"/>
<rect x="178" y="606.4" width="204.5" height="5" fill="url(#d35)"/>
<rect x="178" y="610.4" width="204.5" height="5" fill="url(#d36)"/>
<rect x="178" y="614.4" width="204.5" height="5" fill="url(#d37)"/>
<rect x="178" y="618.4" width="204.5" height="5" fill="url(#d38)"/>
<rect x="178" y="622.4" width="204.5" height="5" fill="url(#d39)"/>
<rect x="178" y="626.4" width="204.5" height="5" fill="url(#d40)"/>
<rect x="178" y="630.4" width="204.5" height="5" fill="url(#d41)"/>
<rect x="178" y="634.4" width="204.5" height="5" fill="url(#d42)"/>
<rect x="178" y="638.4" width="204.5" height="5" fill="url(#d43)"/>
<rect x="178" y="642.4" width="204.5" height="5" fill="url(#d44)"/>
<rect x="178" y="646.4" width="204.5" height="5" fill="url(#d45)"/>
<rect x="178" y="650.4" width="204.5" height="5" fill="url(#d46)"/>
<rect x="178" y="654.4" width="204.5" height="5" fill="url(#d47)"/>
<rect x="178" y="658.4" width="204.5" height="5" fill="url(#d48)"/>
<rect x="178" y="662.4" width="204.5" height="5" fill="url(#d49)"/>
<rect x="178" y="666.4" width="204.5" height="5" fill="url(#d50)"/>
<rect x="178" y="670.4" width="204.5" height="5" fill="url(#d51)"/>
<rect x="178" y="674.4" width="204.5" height="5" fill="url(#d52)"/>
<rect x="178" y="678.4" width="204.5" height="5" fill="url(#d53)"/>
<rect x="178" y="682.4" width="204.5" height="5" fill="url(#d54)"/>
<rect x="178" y="686.4" width="204.5" height="5" fill="url(#d55)"/>
<rect x="178" y="690.4" width="204.5" height="5" fill="url(#d56)"/>
<rect x="178" y="694.4" width="204.5" height="5" fill="url(#d57)"/>
<rect x="178" y="698.4" width="204.5" height="5" fill="url(#d58)"/>
<rect x="178" y="702.4" width="204.5" height="5" fill="url(#d59)"/>
<rect x="178" y="706.4" width="204.5" height="5" fill="url(#d60)"/>
</g></g>
<clipPath id="ce"><rect x="409.6" y="478.4" width="184.2" height="222"/></clipPath>
<g clip-path="url(#ce)"><g filter="url(#jete)">
<rect x="399.6" y="468.4" width="204.2" height="242" fill="#000"/>
<rect x="399.6" y="466.4" width="204.2" height="5" fill="url(#e0)"/>
<rect x="399.6" y="470.4" width="204.2" height="5" fill="url(#e1)"/>
<rect x="399.6" y="474.4" width="204.2" height="5" fill="url(#e2)"/>
<rect x="399.6" y="478.4" width="204.2" height="5" fill="url(#e3)"/>
<rect x="399.6" y="482.4" width="204.2" height="5" fill="url(#e4)"/>
<rect x="399.6" y="486.4" width="204.2" height="5" fill="url(#e5)"/>
<rect x="399.6" y="490.4" width="204.2" height="5" fill="url(#e6)"/>
<rect x="399.6" y="494.4" width="204.2" height="5" fill="url(#e7)"/>
<rect x="399.6" y="498.4" width="204.2" height="5" fill="url(#e8)"/>
<rect x="399.6" y="502.4" width="204.2" height="5" fill="url(#e9)"/>
<rect x="399.6" y="506.4" width="204.2" height="5" fill="url(#e10)"/>
<rect x="399.6" y="510.4" width="204.2" height="5" fill="url(#e11)"/>
<rect x="399.6" y="514.4" width="204.2" height="5" fill="url(#e12)"/>
<rect x="399.6" y="518.4" width="204.2" height="5" fill="url(#e13)"/>
<rect x="399.6" y="522.4" width="204.2" height="5" fill="url(#e14)"/>
<rect x="399.6" y="526.4" width="204.2" height="5" fill="url(#e15)"/>
<rect x="399.6" y="530.4" width="204.2" height="5" fill="url(#e16)"/>
<rect x="399.6" y="534.4" width="204.2" height="5" fill="url(#e17)"/>
<rect x="399.6" y="538.4" width="204.2" height="5" fill="url(#e18)"/>
<rect x="399.6" y="542.4" width="204.2" height="5" fill="url(#e19)"/>
<rect x="399.6" y="546.4" width="204.2" height="5" fill="url(#e20)"/>
<rect x="399.6" y="550.4" width="204.2" height="5" fill="url(#e21)"/>
<rect x="399.6" y="554.4" width="204.2" height="5" fill="url(#e22)"/>
<rect x="399.6" y="558.4" width="204.2" height="5" fill="url(#e23)"/>
<rect x="399.6" y="562.4" width="204.2" height="5" fill="url(#e24)"/>
<rect x="399.6" y="566.4" width="204.2" height="5" fill="url(#e25)"/>
<rect x="399.6" y="570.4" width="204.2" height="5" fill="url(#e26)"/>
<rect x="399.6" y="574.4" width="204.2" height="5" fill="url(#e27)"/>
<rect x="399.6" y="578.4" width="204.2" height="5" fill="url(#e28)"/>
<rect x="399.6" y="582.4" width="204.2" height="5" fill="url(#e29)"/>
<rect x="399.6" y="586.4" width="204.2" height="5" fill="url(#e30)"/>
<rect x="399.6" y="590.4" width="204.2" height="5" fill="url(#e31)"/>
<rect x="399.6" y="594.4" width="204.2" height="5" fill="url(#e32)"/>
<rect x="399.6" y="598.4" width="204.2" height="5" fill="url(#e33)"/>
<rect x="399.6" y="602.4" width="204.2" height="5" fill="url(#e34)"/>
<rect x="399.6" y="606.4" width="204.2" height="5" fill="url(#e35)"/>
<rect x="399.6" y="610.4" width="204.2" height="5" fill="url(#e36)"/>
<rect x="399.6" y="614.4" width="204.2" height="5" fill="url(#e37)"/>
<rect x="399.6" y="618.4" width="204.2" height="5" fill="url(#e38)"/>
<rect x="399.6" y="622.4" width="204.2" height="5" fill="url(#e39)"/>
<rect x="399.6" y="626.4" width="204.2" height="5" fill="url(#e40)"/>
<rect x="399.6" y="630.4" width="204.2" height="5" fill="url(#e41)"/>
<rect x="399.6" y="634.4" width="204.2" height="5" fill="url(#e42)"/>
<rect x="399.6" y="638.4" width="204.2" height="5" fill="url(#e43)"/>
<rect x="399.6" y="642.4" width="204.2" height="5" fill="url(#e44)"/>
<rect x="399.6" y="646.4" width="204.2" height="5" fill="url(#e45)"/>
<rect x="399.6" y="650.4" width="204.2" height="5" fill="url(#e46)"/>
<rect x="399.6" y="654.4" width="204.2" height="5" fill="url(#e47)"/>
<rect x="399.6" y="658.4" width="204.2" height="5" fill="url(#e48)"/>
<rect x="399.6" y="662.4" width="204.2" height="5" fill="url(#e49)"/>
<rect x="399.6" y="666.4" width="204.2" height="5" fill="url(#e50)"/>
<rect x="399.6" y="670.4" width="204.2" height="5" fill="url(#e51)"/>
<rect x="399.6" y="674.4" width="204.2" height="5" fill="url(#e52)"/>
<rect x="399.6" y="678.4" width="204.2" height="5" fill="url(#e53)"/>
<rect x="399.6" y="682.4" width="204.2" height="5" fill="url(#e54)"/>
<rect x="399.6" y="686.4" width="204.2" height="5" fill="url(#e55)"/>
<rect x="399.6" y="690.4" width="204.2" height="5" fill="url(#e56)"/>
<rect x="399.6" y="694.4" width="204.2" height="5" fill="url(#e57)"/>
<rect x="399.6" y="698.4" width="204.2" height="5" fill="url(#e58)"/>
<rect x="399.6" y="702.4" width="204.2" height="5" fill="url(#e59)"/>
</g></g>
<clipPath id="cf"><rect x="691.2" y="478.4" width="190" height="222"/></clipPath>
<g clip-path="url(#cf)"><g filter="url(#jetf)">
<rect x="681.2" y="468.4" width="210" height="242" fill="#000"/>
<rect x="681.2" y="466.4" width="210" height="5" fill="url(#f0)"/>
<rect x="681.2" y="470.4" width="210" height="5" fill="url(#f1)"/>
<rect x="681.2" y="474.4" width="210" height="5" fill="url(#f2)"/>
<rect x="681.2" y="478.4" width="210" height="5" fill="url(#f3)"/>
<rect x="681.2" y="482.4" width="210" height="5" fill="url(#f4)"/>
<rect x="681.2" y="486.4" width="210" height="5" fill="url(#f5)"/>
<rect x="681.2" y="490.4" width="210" height="5" fill="url(#f6)"/>
<rect x="681.2" y="494.4" width="210" height="5" fill="url(#f7)"/>
<rect x="681.2" y="498.4" width="210" height="5" fill="url(#f8)"/>
<rect x="681.2" y="502.4" width="210" height="5" fill="url(#f9)"/>
<rect x="681.2" y="506.4" width="210" height="5" fill="url(#f10)"/>
<rect x="681.2" y="510.4" width="210" height="5" fill="url(#f11)"/>
<rect x="681.2" y="514.4" width="210" height="5" fill="url(#f12)"/>
<rect x="681.2" y="518.4" width="210" height="5" fill="url(#f13)"/>
<rect x="681.2" y="522.4" width="210" height="5" fill="url(#f14)"/>
<rect x="681.2" y="526.4" width="210" height="5" fill="url(#f15)"/>
<rect x="681.2" y="530.4" width="210" height="5" fill="url(#f16)"/>
<rect x="681.2" y="534.4" width="210" height="5" fill="url(#f17)"/>
<rect x="681.2" y="538.4" width="210" height="5" fill="url(#f18)"/>
<rect x="681.2" y="542.4" width="210" height="5" fill="url(#f19)"/>
<rect x="681.2" y="546.4" width="210" height="5" fill="url(#f20)"/>
<rect x="681.2" y="550.4" width="210" height="5" fill="url(#f21)"/>
<rect x="681.2" y="554.4" width="210" height="5" fill="url(#f22)"/>
<rect x="681.2" y="558.4" width="210" height="5" fill="url(#f23)"/>
<rect x="681.2" y="562.4" width="210" height="5" fill="url(#f24)"/>
<rect x="681.2" y="566.4" width="210" height="5" fill="url(#f25)"/>
<rect x="681.2" y="570.4" width="210" height="5" fill="url(#f26)"/>
<rect x="681.2" y="574.4" width="210" height="5" fill="url(#f27)"/>
<rect x="681.2" y="578.4" width="210" height="5" fill="url(#f28)"/>
<rect x="681.2" y="582.4" width="210" height="5" fill="url(#f29)"/>
<rect x="681.2" y="586.4" width="210" height="5" fill="url(#f30)"/>
<rect x="681.2" y="590.4" width="210" height="5" fill="url(#f31)"/>
<rect x="681.2" y="594.4" width="210" height="5" fill="url(#f32)"/>
<rect x="681.2" y="598.4" width="210" height="5" fill="url(#f33)"/>
<rect x="681.2" y="602.4" width="210" height="5" fill="url(#f34)"/>
<rect x="681.2" y="606.4" width="210" height="5" fill="url(#f35)"/>
<rect x="681.2" y="610.4" width="210" height="5" fill="url(#f36)"/>
<rect x="681.2" y="614.4" width="210" height="5" fill="url(#f37)"/>
<rect x="681.2" y="618.4" width="210" height="5" fill="url(#f38)"/>
<rect x="681.2" y="622.4" width="210" height="5" fill="url(#f39)"/>
<rect x="681.2" y="626.4" width="210" height="5" fill="url(#f40)"/>
<rect x="681.2" y="630.4" width="210" height="5" fill="url(#f41)"/>
<rect x="681.2" y="634.4" width="210" height="5" fill="url(#f42)"/>
<rect x="681.2" y="638.4" width="210" height="5" fill="url(#f43)"/>
<rect x="681.2" y="642.4" width="210" height="5" fill="url(#f44)"/>
<rect x="681.2" y="646.4" width="210" height="5" fill="url(#f45)"/>
<rect x="681.2" y="650.4" width="210" height="5" fill="url(#f46)"/>
<rect x="681.2" y="654.4" width="210" height="5" fill="url(#f47)"/>
<rect x="681.2" y="658.4" width="210" height="5" fill="url(#f48)"/>
<rect x="681.2" y="662.4" width="210" height="5" fill="url(#f49)"/>
<rect x="681.2" y="666.4" width="210" height="5" fill="url(#f50)"/>
<rect x="681.2" y="670.4" width="210" height="5" fill="url(#f51)"/>
<rect x="681.2" y="674.4" width="210" height="5" fill="url(#f52)"/>
<rect x="681.2" y="678.4" width="210" height="5" fill="url(#f53)"/>
<rect x="681.2" y="682.4" width="210" height="5" fill="url(#f54)"/>
<rect x="681.2" y="686.4" width="210" height="5" fill="url(#f55)"/>
<rect x="681.2" y="690.4" width="210" height="5" fill="url(#f56)"/>
<rect x="681.2" y="694.4" width="210" height="5" fill="url(#f57)"/>
</g></g>
<!-- axes -->
<g fill="none" stroke-width="1">
<path d="M188.5 140.0V361.5H372.5" stroke="#000040" stroke-opacity=".45"/>
<path d="M188.0 179.4h-2M188.0 221.4h-2M188.0 263.4h-2M188.0 305.4h-2M188.0 347.4h-2M218.8 362.0v2M249.5 362.0v2M280.2 362.0v2M311.0 362.0v2M341.8 362.0v2" stroke="#333" stroke-opacity=".6"/>
<path d="M410.1 140.0V362.0H593.8" stroke="#000040" stroke-opacity=".45"/>
<path d="M409.6 179.4h-2M409.6 221.4h-2M409.6 263.4h-2M409.6 305.4h-2M409.6 347.4h-2M440.3 362.5v2M471.0 362.5v2M501.7 362.5v2M532.4 362.5v2M563.1 362.5v2" stroke="#333" stroke-opacity=".6"/>
<path d="M691.7 140.0V361.0H881.2" stroke="#000040" stroke-opacity=".45"/>
<path d="M691.2 179.4h-2M691.2 221.4h-2M691.2 263.4h-2M691.2 305.4h-2M691.2 347.4h-2M722.9 361.5v2M754.5 361.5v2M786.2 361.5v2M817.9 361.5v2M849.5 361.5v2" stroke="#333" stroke-opacity=".6"/>
<path d="M188.5 478.4V699.9H372.5" stroke="#000040" stroke-opacity=".45"/>
<path d="M188.0 517.8h-2M188.0 559.8h-2M188.0 601.8h-2M188.0 643.8h-2M188.0 685.8h-2M218.8 700.4v2M249.5 700.4v2M280.2 700.4v2M311.0 700.4v2M341.8 700.4v2" stroke="#333" stroke-opacity=".6"/>
<path d="M410.1 478.4V699.9H593.8" stroke="#000040" stroke-opacity=".45"/>
<path d="M409.6 517.8h-2M409.6 559.8h-2M409.6 601.8h-2M409.6 643.8h-2M409.6 685.8h-2M440.3 700.4v2M471.0 700.4v2M501.7 700.4v2M532.4 700.4v2M563.1 700.4v2" stroke="#333" stroke-opacity=".6"/>
<path d="M691.7 478.4V699.9H881.2" stroke="#000040" stroke-opacity=".45"/>
<path d="M691.2 517.8h-2M691.2 559.8h-2M691.2 601.8h-2M691.2 643.8h-2M691.2 685.8h-2M722.9 700.4v2M754.5 700.4v2M786.2 700.4v2M817.9 700.4v2M849.5 700.4v2" stroke="#333" stroke-opacity=".6"/>
</g>
<!-- rects -->
<rect x="261" y="180" width="19" height="151.7" fill="none" stroke="#fff" stroke-width="4"/>
<rect x="770.6" y="180" width="17.5" height="151.7" fill="none" stroke="#fff" stroke-width="4"/>
<rect x="261" y="520.5" width="19" height="152" fill="none" stroke="#fff" stroke-width="4"/>
<rect x="770.6" y="520.5" width="17.5" height="152" fill="none" stroke="#fff" stroke-width="4"/>

<!-- y tick labels -->
<g class="s" font-size="26.5" text-anchor="end">
<text x="181" y="188" transform="matrix(1 0 0 1.060 0 -11.28)">100</text>
<text x="181.2" y="332.5" transform="matrix(1 0 0 1.060 0 -19.95)">30</text>
<text x="685.5" y="187" transform="matrix(1 0 0 1.060 0 -11.22)">100</text>
<text x="685.2" y="331.3" transform="matrix(1 0 0 1.060 0 -19.88)">30</text>
<text x="181.5" y="529.2" transform="matrix(1 0 0 1.060 0 -31.75)">100</text>
<text x="181.5" y="673.7" transform="matrix(1 0 0 1.060 0 -40.42)">30</text>
<text x="685.6" y="529.3" transform="matrix(1 0 0 1.060 0 -31.76)">100</text>
<text x="685.6" y="674.4" transform="matrix(1 0 0 1.060 0 -40.46)">30</text>
</g>
<!-- x tick labels -->
<g class="s" font-size="15">
<text x="242" y="378.7" transform="matrix(1 0 0 1.060 0 -22.72)">0</text><text x="254.5" y="378.7" transform="matrix(1 0 0 1.060 0 -22.72)">30</text><text x="274.6" y="378.7" transform="matrix(1 0 0 1.060 0 -22.72)">50</text><text x="302.3" y="378.7" transform="matrix(1 0 0 1.060 0 -22.72)">100</text>
<text x="463" y="378.7" transform="matrix(1 0 0 1.060 0 -22.72)">0</text><text x="475.5" y="378.7" transform="matrix(1 0 0 1.060 0 -22.72)">30</text><text x="495.6" y="378.7" transform="matrix(1 0 0 1.060 0 -22.72)">50</text><text x="523.3" y="378.7" transform="matrix(1 0 0 1.060 0 -22.72)">100</text>
<text x="750.7" y="377.2" transform="matrix(1 0 0 1.060 0 -22.63)">0</text><text x="763" y="377.2" transform="matrix(1 0 0 1.060 0 -22.63)">30</text><text x="782.5" y="377.2" transform="matrix(1 0 0 1.060 0 -22.63)">50</text><text x="811" y="377.2" transform="matrix(1 0 0 1.060 0 -22.63)">100</text>
<text x="242" y="716.7" transform="matrix(1 0 0 1.060 0 -43.00)">0</text><text x="254.5" y="716.7" transform="matrix(1 0 0 1.060 0 -43.00)">30</text><text x="274.6" y="716.7" transform="matrix(1 0 0 1.060 0 -43.00)">50</text><text x="302.3" y="716.7" transform="matrix(1 0 0 1.060 0 -43.00)">100</text>
<text x="463" y="716.7" transform="matrix(1 0 0 1.060 0 -43.00)">0</text><text x="475.5" y="716.7" transform="matrix(1 0 0 1.060 0 -43.00)">30</text><text x="495.6" y="716.7" transform="matrix(1 0 0 1.060 0 -43.00)">50</text><text x="523.3" y="716.7" transform="matrix(1 0 0 1.060 0 -43.00)">100</text>
<text x="750.7" y="715.2" transform="matrix(1 0 0 1.060 0 -42.91)">0</text><text x="763" y="715.2" transform="matrix(1 0 0 1.060 0 -42.91)">30</text><text x="782.5" y="715.2" transform="matrix(1 0 0 1.060 0 -42.91)">50</text><text x="811" y="715.2" transform="matrix(1 0 0 1.060 0 -42.91)">100</text>
</g>
<text class="s" x="233" y="740.4" font-size="26">Time (ms)</text>
<text class="s" x="735" y="740.3" font-size="26">Time (ms)</text>

<!-- colorbars -->
<defs>
<linearGradient id="jet" x1="0" y1="1" x2="0" y2="0">
<stop offset="0" stop-color="#000080"/><stop offset="0.125" stop-color="#0000ff"/><stop offset="0.375" stop-color="#00ffff"/><stop offset="0.625" stop-color="#ffff00"/><stop offset="0.875" stop-color="#ff0000"/><stop offset="1" stop-color="#800000"/>
</linearGradient>
</defs>
<rect x="601.4" y="138.7" width="5.6" height="221.8" fill="url(#jet)"/>
<rect x="889.2" y="140" width="6.4" height="220.5" fill="url(#jet)"/>
<rect x="600.8" y="479" width="5.4" height="220.4" fill="url(#jet)"/>
<rect x="889" y="479" width="5.8" height="220.6" fill="url(#jet)"/>
<g class="s" font-size="26.5">
<text x="610" y="156.4" transform="matrix(1 0 0 1.040 0 -6.26)">0.5</text>
<text x="610" y="364.5" transform="matrix(1 0 0 1.040 0 -14.58)">0</text>
<text x="898.4" y="156" transform="matrix(1 0 0 1.040 0 -6.24)">0.35</text>
<text x="898.6" y="364.8" transform="matrix(1 0 0 1.040 0 -14.59)">0</text>
<text x="609" y="496" transform="matrix(1 0 0 1.040 0 -19.84)">0.5</text>
<text x="609" y="704.2" transform="matrix(1 0 0 1.040 0 -28.17)">0</text>
<text x="897.4" y="497.4" transform="matrix(1 0 0 1.040 0 -19.90)">0.35</text>
<text x="897.7" y="705.2" transform="matrix(1 0 0 1.040 0 -28.21)">0</text>
</g>
</svg>
</body></html>
